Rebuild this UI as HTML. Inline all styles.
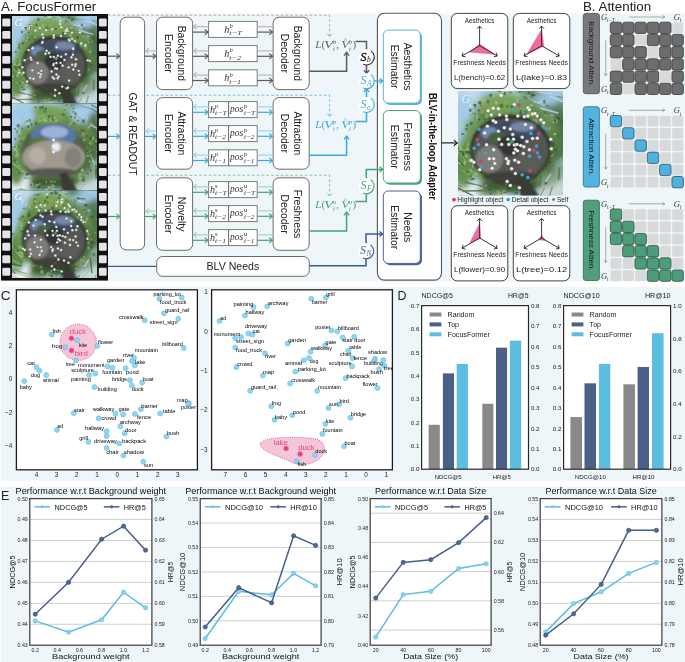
<!DOCTYPE html>
<html><head><meta charset="utf-8"><style>
html,body{margin:0;padding:0;background:#fff;}
svg{display:block;will-change:transform;}
text{white-space:pre;}
</style></head><body>
<svg width="685" height="662" viewBox="0 0 685 662">
<defs>
<linearGradient id="sky" x1="0" y1="0" x2="0" y2="1">
 <stop offset="0" stop-color="#9cc4e2"/><stop offset="0.6" stop-color="#a9cbe3"/><stop offset="1" stop-color="#d2e3ee"/>
</linearGradient>
<radialGradient id="tree" cx="0.5" cy="0.5" r="0.5">
 <stop offset="0" stop-color="#3d4a35"/><stop offset="0.55" stop-color="#4f6a3c"/><stop offset="0.8" stop-color="#6d944a"/><stop offset="1" stop-color="#86ad5e"/>
</radialGradient>
<linearGradient id="core" x1="0" y1="0" x2="0" y2="1">
 <stop offset="0" stop-color="#3c475a"/><stop offset="0.2" stop-color="#6a7f9f"/><stop offset="0.36" stop-color="#4d6142"/>
 <stop offset="0.48" stop-color="#827f7a"/><stop offset="0.78" stop-color="#74726d"/><stop offset="1" stop-color="#4b4b45"/>
</linearGradient>
<filter id="bl2" x="-20%" y="-20%" width="140%" height="140%"><feGaussianBlur stdDeviation="2.2"/></filter><filter id="bl05" x="-20%" y="-20%" width="140%" height="140%"><feGaussianBlur stdDeviation="0.5"/></filter><filter id="bl1" x="-20%" y="-20%" width="140%" height="140%"><feGaussianBlur stdDeviation="1.0"/></filter><clipPath id="ph0"><rect x="12" y="16" width="85" height="87.3"/></clipPath><filter id="ph0b" x="-30%" y="-30%" width="160%" height="160%"><feGaussianBlur stdDeviation="2.4"/></filter><filter id="ph0c" x="-30%" y="-30%" width="160%" height="160%"><feGaussianBlur stdDeviation="1"/></filter><filter id="ph0d" x="-30%" y="-30%" width="160%" height="160%"><feGaussianBlur stdDeviation="0.45"/></filter><clipPath id="ph1"><rect x="12" y="103.3" width="85" height="87.3"/></clipPath><filter id="ph1b" x="-30%" y="-30%" width="160%" height="160%"><feGaussianBlur stdDeviation="2.4"/></filter><filter id="ph1c" x="-30%" y="-30%" width="160%" height="160%"><feGaussianBlur stdDeviation="1"/></filter><filter id="ph1d" x="-30%" y="-30%" width="160%" height="160%"><feGaussianBlur stdDeviation="0.45"/></filter><clipPath id="ph2"><rect x="12" y="190.6" width="85" height="87.4"/></clipPath><filter id="ph2b" x="-30%" y="-30%" width="160%" height="160%"><feGaussianBlur stdDeviation="2.4"/></filter><filter id="ph2c" x="-30%" y="-30%" width="160%" height="160%"><feGaussianBlur stdDeviation="1"/></filter><filter id="ph2d" x="-30%" y="-30%" width="160%" height="160%"><feGaussianBlur stdDeviation="0.45"/></filter><clipPath id="phg"><rect x="458" y="91.1" width="105" height="104.5"/></clipPath><filter id="phgb" x="-30%" y="-30%" width="160%" height="160%"><feGaussianBlur stdDeviation="2.96"/></filter><filter id="phgc" x="-30%" y="-30%" width="160%" height="160%"><feGaussianBlur stdDeviation="1.24"/></filter><filter id="phgd" x="-30%" y="-30%" width="160%" height="160%"><feGaussianBlur stdDeviation="0.56"/></filter></defs>
<rect x="108" y="13.4" width="577" height="268" rx="0" fill="#eef6f9" stroke="none" stroke-width="1" />
<rect x="1" y="287" width="684" height="193.6" rx="0" fill="#eef6f9" stroke="none" stroke-width="1" />
<rect x="1" y="486.6" width="684" height="176" rx="0" fill="#eef6f9" stroke="none" stroke-width="1" />
<text x="1" y="10.9" font-size="13" text-anchor="start" fill="#222" font-family='"Liberation Sans", sans-serif' font-weight="normal" font-style="normal" textLength="95.2" lengthAdjust="spacingAndGlyphs" >A. FocusFormer</text>
<text x="582.9" y="10.8" font-size="13" text-anchor="start" fill="#222" font-family='"Liberation Sans", sans-serif' font-weight="normal" font-style="normal" textLength="68.3" lengthAdjust="spacingAndGlyphs" >B. Attention</text>
<rect x="1" y="14" width="107" height="266.6" rx="0" fill="#111" stroke="none" stroke-width="1" />
<rect x="2.3" y="18.5" width="8" height="7.9" rx="1.2" fill="#e4e3e8" stroke="none" stroke-width="1" />
<rect x="98.9" y="18.5" width="7.8" height="7.9" rx="1.2" fill="#e4e3e8" stroke="none" stroke-width="1" />
<rect x="2.3" y="30.96" width="8" height="7.9" rx="1.2" fill="#e4e3e8" stroke="none" stroke-width="1" />
<rect x="98.9" y="30.96" width="7.8" height="7.9" rx="1.2" fill="#e4e3e8" stroke="none" stroke-width="1" />
<rect x="2.3" y="43.43" width="8" height="7.9" rx="1.2" fill="#e4e3e8" stroke="none" stroke-width="1" />
<rect x="98.9" y="43.43" width="7.8" height="7.9" rx="1.2" fill="#e4e3e8" stroke="none" stroke-width="1" />
<rect x="2.3" y="55.89" width="8" height="7.9" rx="1.2" fill="#e4e3e8" stroke="none" stroke-width="1" />
<rect x="98.9" y="55.89" width="7.8" height="7.9" rx="1.2" fill="#e4e3e8" stroke="none" stroke-width="1" />
<rect x="2.3" y="68.36" width="8" height="7.9" rx="1.2" fill="#e4e3e8" stroke="none" stroke-width="1" />
<rect x="98.9" y="68.36" width="7.8" height="7.9" rx="1.2" fill="#e4e3e8" stroke="none" stroke-width="1" />
<rect x="2.3" y="80.83" width="8" height="7.9" rx="1.2" fill="#e4e3e8" stroke="none" stroke-width="1" />
<rect x="98.9" y="80.83" width="7.8" height="7.9" rx="1.2" fill="#e4e3e8" stroke="none" stroke-width="1" />
<rect x="2.3" y="93.29" width="8" height="7.9" rx="1.2" fill="#e4e3e8" stroke="none" stroke-width="1" />
<rect x="98.9" y="93.29" width="7.8" height="7.9" rx="1.2" fill="#e4e3e8" stroke="none" stroke-width="1" />
<rect x="2.3" y="105.76" width="8" height="7.9" rx="1.2" fill="#e4e3e8" stroke="none" stroke-width="1" />
<rect x="98.9" y="105.76" width="7.8" height="7.9" rx="1.2" fill="#e4e3e8" stroke="none" stroke-width="1" />
<rect x="2.3" y="118.22" width="8" height="7.9" rx="1.2" fill="#e4e3e8" stroke="none" stroke-width="1" />
<rect x="98.9" y="118.22" width="7.8" height="7.9" rx="1.2" fill="#e4e3e8" stroke="none" stroke-width="1" />
<rect x="2.3" y="130.69" width="8" height="7.9" rx="1.2" fill="#e4e3e8" stroke="none" stroke-width="1" />
<rect x="98.9" y="130.69" width="7.8" height="7.9" rx="1.2" fill="#e4e3e8" stroke="none" stroke-width="1" />
<rect x="2.3" y="143.15" width="8" height="7.9" rx="1.2" fill="#e4e3e8" stroke="none" stroke-width="1" />
<rect x="98.9" y="143.15" width="7.8" height="7.9" rx="1.2" fill="#e4e3e8" stroke="none" stroke-width="1" />
<rect x="2.3" y="155.62" width="8" height="7.9" rx="1.2" fill="#e4e3e8" stroke="none" stroke-width="1" />
<rect x="98.9" y="155.62" width="7.8" height="7.9" rx="1.2" fill="#e4e3e8" stroke="none" stroke-width="1" />
<rect x="2.3" y="168.08" width="8" height="7.9" rx="1.2" fill="#e4e3e8" stroke="none" stroke-width="1" />
<rect x="98.9" y="168.08" width="7.8" height="7.9" rx="1.2" fill="#e4e3e8" stroke="none" stroke-width="1" />
<rect x="2.3" y="180.55" width="8" height="7.9" rx="1.2" fill="#e4e3e8" stroke="none" stroke-width="1" />
<rect x="98.9" y="180.55" width="7.8" height="7.9" rx="1.2" fill="#e4e3e8" stroke="none" stroke-width="1" />
<rect x="2.3" y="193.01" width="8" height="7.9" rx="1.2" fill="#e4e3e8" stroke="none" stroke-width="1" />
<rect x="98.9" y="193.01" width="7.8" height="7.9" rx="1.2" fill="#e4e3e8" stroke="none" stroke-width="1" />
<rect x="2.3" y="205.48" width="8" height="7.9" rx="1.2" fill="#e4e3e8" stroke="none" stroke-width="1" />
<rect x="98.9" y="205.48" width="7.8" height="7.9" rx="1.2" fill="#e4e3e8" stroke="none" stroke-width="1" />
<rect x="2.3" y="217.94" width="8" height="7.9" rx="1.2" fill="#e4e3e8" stroke="none" stroke-width="1" />
<rect x="98.9" y="217.94" width="7.8" height="7.9" rx="1.2" fill="#e4e3e8" stroke="none" stroke-width="1" />
<rect x="2.3" y="230.41" width="8" height="7.9" rx="1.2" fill="#e4e3e8" stroke="none" stroke-width="1" />
<rect x="98.9" y="230.41" width="7.8" height="7.9" rx="1.2" fill="#e4e3e8" stroke="none" stroke-width="1" />
<rect x="2.3" y="242.87" width="8" height="7.9" rx="1.2" fill="#e4e3e8" stroke="none" stroke-width="1" />
<rect x="98.9" y="242.87" width="7.8" height="7.9" rx="1.2" fill="#e4e3e8" stroke="none" stroke-width="1" />
<rect x="2.3" y="255.34" width="8" height="7.9" rx="1.2" fill="#e4e3e8" stroke="none" stroke-width="1" />
<rect x="98.9" y="255.34" width="7.8" height="7.9" rx="1.2" fill="#e4e3e8" stroke="none" stroke-width="1" />
<rect x="2.3" y="267.8" width="8" height="7.9" rx="1.2" fill="#e4e3e8" stroke="none" stroke-width="1" />
<rect x="98.9" y="267.8" width="7.8" height="7.9" rx="1.2" fill="#e4e3e8" stroke="none" stroke-width="1" />
<g clip-path="url(#ph0)">
<rect x="12" y="16" width="85" height="87.3" rx="0" fill="#a4cbe8" stroke="none" stroke-width="1" />
<g filter="url(#ph0b)">
<ellipse cx="18.8" cy="20.37" rx="11.9" ry="8.73" fill="#c3dbee" opacity="1" transform="rotate(0 18.8 20.37)"/>
<ellipse cx="29" cy="101.55" rx="23.8" ry="10.48" fill="#e6eef2" opacity="1" transform="rotate(0 29 101.55)"/>
<ellipse cx="88.5" cy="96.32" rx="13.6" ry="10.48" fill="#c9d8d8" opacity="1" transform="rotate(0 88.5 96.32)"/>
<ellipse cx="80" cy="20.37" rx="23.8" ry="4.37" fill="#5d7f5a" opacity="1" transform="rotate(22 80 20.37)"/>
<ellipse cx="92.75" cy="33.46" rx="18.7" ry="5.24" fill="#557552" opacity="1" transform="rotate(40 92.75 33.46)"/>
<ellipse cx="94.45" cy="55.28" rx="8.5" ry="19.21" fill="#4e6f48" opacity="1" transform="rotate(0 94.45 55.28)"/>
<ellipse cx="91.05" cy="85.84" rx="15.3" ry="6.98" fill="#86a38a" opacity="1" transform="rotate(-35 91.05 85.84)"/>
<ellipse cx="16.25" cy="78.86" rx="8.5" ry="19.21" fill="#628f4c" opacity="1" transform="rotate(0 16.25 78.86)"/>
<ellipse cx="37.5" cy="100.68" rx="10.2" ry="5.24" fill="#7a9a70" opacity="1" transform="rotate(0 37.5 100.68)"/>
<circle cx="54.5" cy="59.65" r="39.1" fill="#65894c"/>
<ellipse cx="47.7" cy="26.48" rx="20.4" ry="8.73" fill="#7aa058" opacity="1" transform="rotate(0 47.7 26.48)"/>
<ellipse cx="17.1" cy="35.21" rx="8.5" ry="17.46" fill="#a4cbe8" opacity="1" transform="rotate(0 17.1 35.21)"/>
<ellipse cx="84.25" cy="22.98" rx="10.2" ry="5.24" fill="#9cc2de" opacity="1" transform="rotate(0 84.25 22.98)"/>
<ellipse cx="23.9" cy="55.28" rx="6.8" ry="17.46" fill="#6d9850" opacity="1" transform="rotate(0 23.9 55.28)"/>
<ellipse cx="54.5" cy="94.57" rx="25.5" ry="6.98" fill="#3e5a30" opacity="1" transform="rotate(0 54.5 94.57)"/>
<ellipse cx="85.1" cy="68.38" rx="6.8" ry="17.46" fill="#4c6e3e" opacity="1" transform="rotate(0 85.1 68.38)"/>
</g>
<g filter="url(#ph0d)" opacity="0.75">
<line x1="72.51" y1="26.12" x2="84.7" y2="24.66" stroke="#c9dbe6" stroke-width="1.07"/>
<line x1="18.41" y1="74.52" x2="13.84" y2="68.54" stroke="#9fbf86" stroke-width="0.7"/>
<line x1="11.43" y1="69.16" x2="2.08" y2="56.95" stroke="#6f9058" stroke-width="0.68"/>
<line x1="25.91" y1="88.65" x2="15.82" y2="82.24" stroke="#9fbf86" stroke-width="0.94"/>
<line x1="87.15" y1="85.06" x2="81.58" y2="93.59" stroke="#c9dbe6" stroke-width="1.08"/>
<line x1="98.9" y1="57.16" x2="107.7" y2="68.28" stroke="#9fbf86" stroke-width="1.39"/>
<line x1="93.68" y1="38.96" x2="98.09" y2="44.59" stroke="#3d5a35" stroke-width="0.88"/>
<line x1="15.08" y1="96.24" x2="0.49" y2="89.13" stroke="#3d5a35" stroke-width="0.66"/>
<line x1="18.34" y1="79.68" x2="9.73" y2="65.14" stroke="#6f9058" stroke-width="0.67"/>
<line x1="70.73" y1="25.62" x2="80.56" y2="27.79" stroke="#6f9058" stroke-width="1.15"/>
<line x1="61.04" y1="98.02" x2="46.51" y2="101.55" stroke="#3d5a35" stroke-width="0.92"/>
<line x1="66.85" y1="106.19" x2="58.42" y2="116.25" stroke="#4b6b40" stroke-width="0.6"/>
<line x1="65.18" y1="21.38" x2="79.81" y2="15.48" stroke="#9fbf86" stroke-width="0.9"/>
<line x1="85.71" y1="103.39" x2="81.21" y2="110.15" stroke="#3d5a35" stroke-width="1.39"/>
<line x1="10.36" y1="78.97" x2="-1.48" y2="69.09" stroke="#6f9058" stroke-width="1.01"/>
<line x1="67.47" y1="103.06" x2="53.21" y2="110.79" stroke="#9fbf86" stroke-width="0.84"/>
<line x1="86.07" y1="20.37" x2="100.98" y2="26.53" stroke="#c9dbe6" stroke-width="1.22"/>
<line x1="13.44" y1="99.44" x2="3.02" y2="87.66" stroke="#6f9058" stroke-width="1.25"/>
<line x1="90.19" y1="33.41" x2="96.33" y2="37.08" stroke="#4b6b40" stroke-width="1.23"/>
<line x1="78.82" y1="30.23" x2="93.31" y2="34.41" stroke="#c9dbe6" stroke-width="1.36"/>
<line x1="12.77" y1="72.94" x2="4.62" y2="58.81" stroke="#4b6b40" stroke-width="0.98"/>
<line x1="24.59" y1="103.73" x2="11.81" y2="96.8" stroke="#3d5a35" stroke-width="1.31"/>
<line x1="31.88" y1="95.52" x2="17.87" y2="92.18" stroke="#4b6b40" stroke-width="1.18"/>
<line x1="30.82" y1="99.22" x2="15.6" y2="99.49" stroke="#3d5a35" stroke-width="1.13"/>
<line x1="8.11" y1="106.39" x2="-2.07" y2="99.56" stroke="#6f9058" stroke-width="0.95"/>
<line x1="14.17" y1="76.8" x2="4.2" y2="68.59" stroke="#c9dbe6" stroke-width="1.04"/>
<line x1="94.2" y1="17.48" x2="104.34" y2="26.73" stroke="#9fbf86" stroke-width="0.94"/>
<line x1="97.75" y1="59.81" x2="99.82" y2="66.67" stroke="#3d5a35" stroke-width="1.22"/>
<line x1="11.36" y1="91.04" x2="4.43" y2="88.29" stroke="#9fbf86" stroke-width="1.02"/>
<line x1="79.26" y1="86.2" x2="77.72" y2="95.05" stroke="#4b6b40" stroke-width="1.22"/>
<line x1="97.53" y1="54.2" x2="102.65" y2="65.38" stroke="#c9dbe6" stroke-width="0.96"/>
<line x1="88.47" y1="95.81" x2="84.6" y2="108.03" stroke="#6f9058" stroke-width="1.27"/>
<line x1="64.58" y1="23.31" x2="73.3" y2="20.12" stroke="#4b6b40" stroke-width="0.77"/>
<line x1="71.62" y1="23.38" x2="83.72" y2="29.21" stroke="#c9dbe6" stroke-width="0.71"/>
<line x1="79.46" y1="106.69" x2="73.95" y2="116.71" stroke="#9fbf86" stroke-width="0.92"/>
<line x1="17.08" y1="78.77" x2="6.95" y2="68.89" stroke="#3d5a35" stroke-width="0.87"/>
<line x1="32.87" y1="98.43" x2="26.08" y2="94.34" stroke="#c9dbe6" stroke-width="0.82"/>
<line x1="97.25" y1="29.07" x2="107.28" y2="41.16" stroke="#c9dbe6" stroke-width="0.92"/>
<line x1="8.18" y1="67.88" x2="0.21" y2="57.33" stroke="#6f9058" stroke-width="0.65"/>
<line x1="21.85" y1="104.46" x2="13.84" y2="103.14" stroke="#9fbf86" stroke-width="1.17"/>
<line x1="12.37" y1="104.71" x2="1.86" y2="98.32" stroke="#6f9058" stroke-width="0.83"/>
<line x1="8.21" y1="74.95" x2="-3.58" y2="66.67" stroke="#9fbf86" stroke-width="1.38"/>
<line x1="81.95" y1="96.98" x2="77.89" y2="105.22" stroke="#6f9058" stroke-width="0.87"/>
<line x1="94.12" y1="79.5" x2="93.44" y2="90.1" stroke="#4b6b40" stroke-width="1.27"/>
<line x1="77.06" y1="16.96" x2="88.97" y2="18.1" stroke="#c9dbe6" stroke-width="1.08"/>
<line x1="14.61" y1="64.17" x2="9.51" y2="55.15" stroke="#9fbf86" stroke-width="0.86"/>
<line x1="12.42" y1="78.65" x2="4.17" y2="73.52" stroke="#6f9058" stroke-width="0.8"/>
<line x1="91.74" y1="20.36" x2="104.27" y2="22.99" stroke="#3d5a35" stroke-width="0.62"/>
</g>
<g filter="url(#ph0d)">
<ellipse cx="45.61" cy="17.56" rx="1.59" ry="1.58" fill="#a5c585" opacity="0.6"/>
<ellipse cx="23.71" cy="60.8" rx="0.73" ry="1.72" fill="#8fb46c" opacity="0.6"/>
<ellipse cx="83.47" cy="35.64" rx="1.76" ry="1.62" fill="#8fb46c" opacity="0.6"/>
<ellipse cx="17.51" cy="42.21" rx="1.66" ry="1.41" fill="#9dbd7a" opacity="0.6"/>
<ellipse cx="84.42" cy="35.14" rx="0.78" ry="0.75" fill="#2f4826" opacity="0.6"/>
<ellipse cx="26.21" cy="25.79" rx="1.67" ry="1.38" fill="#a5c585" opacity="0.6"/>
<ellipse cx="28.65" cy="32.16" rx="1.26" ry="0.7" fill="#2f4826" opacity="0.6"/>
<ellipse cx="66.16" cy="20.9" rx="1.46" ry="0.78" fill="#3f6030" opacity="0.6"/>
<ellipse cx="51.99" cy="28.72" rx="1.69" ry="0.99" fill="#3f6030" opacity="0.6"/>
<ellipse cx="55.71" cy="29.05" rx="1.27" ry="1.17" fill="#35502a" opacity="0.6"/>
<ellipse cx="16.55" cy="64.82" rx="1.41" ry="1.48" fill="#9dbd7a" opacity="0.6"/>
<ellipse cx="79.47" cy="73.23" rx="1.46" ry="1.55" fill="#b8d496" opacity="0.6"/>
<ellipse cx="34.23" cy="39.82" rx="0.75" ry="1.03" fill="#35502a" opacity="0.6"/>
<ellipse cx="36.4" cy="24.81" rx="1.03" ry="1.33" fill="#35502a" opacity="0.6"/>
<ellipse cx="21.12" cy="67.39" rx="1.86" ry="1.37" fill="#3f6030" opacity="0.6"/>
<ellipse cx="44.26" cy="85.42" rx="0.7" ry="1.26" fill="#35502a" opacity="0.6"/>
<ellipse cx="73.04" cy="19.12" rx="1.86" ry="1.17" fill="#35502a" opacity="0.6"/>
<ellipse cx="91.64" cy="37.59" rx="1.37" ry="0.87" fill="#3f6030" opacity="0.6"/>
<ellipse cx="11.68" cy="52.95" rx="1.4" ry="1.47" fill="#8fb46c" opacity="0.6"/>
<ellipse cx="49.4" cy="87.52" rx="0.96" ry="1.8" fill="#4f7a3a" opacity="0.6"/>
<ellipse cx="28.63" cy="61.97" rx="1.81" ry="1.53" fill="#9dbd7a" opacity="0.6"/>
<ellipse cx="22.1" cy="82.13" rx="1.09" ry="1.08" fill="#a5c585" opacity="0.6"/>
<ellipse cx="68.21" cy="37.53" rx="1.68" ry="0.85" fill="#4f7a3a" opacity="0.6"/>
<ellipse cx="89.25" cy="41.86" rx="0.98" ry="0.78" fill="#b8d496" opacity="0.6"/>
<ellipse cx="22.29" cy="86.96" rx="1.11" ry="1.22" fill="#3f6030" opacity="0.6"/>
<ellipse cx="50.34" cy="86.43" rx="0.74" ry="1.51" fill="#3f6030" opacity="0.6"/>
<ellipse cx="35.79" cy="37.86" rx="1.2" ry="1.08" fill="#b8d496" opacity="0.6"/>
<ellipse cx="60.33" cy="18.82" rx="1.73" ry="1.69" fill="#a5c585" opacity="0.6"/>
<ellipse cx="25.53" cy="27.6" rx="1.54" ry="0.76" fill="#2f4826" opacity="0.6"/>
<ellipse cx="50.75" cy="25.01" rx="1.45" ry="1.05" fill="#8fb46c" opacity="0.6"/>
<ellipse cx="95.32" cy="72.97" rx="0.88" ry="1.21" fill="#8fb46c" opacity="0.6"/>
<ellipse cx="48.5" cy="90.14" rx="1.16" ry="0.99" fill="#b8d496" opacity="0.6"/>
<ellipse cx="16.7" cy="63.77" rx="0.88" ry="0.9" fill="#3f6030" opacity="0.6"/>
<ellipse cx="65.6" cy="101.72" rx="1.33" ry="1.25" fill="#35502a" opacity="0.6"/>
<ellipse cx="34.76" cy="95.02" rx="0.85" ry="0.93" fill="#a5c585" opacity="0.6"/>
<ellipse cx="81.35" cy="77.33" rx="1.06" ry="1.15" fill="#3f6030" opacity="0.6"/>
<ellipse cx="65.17" cy="31.65" rx="1.57" ry="1.2" fill="#9dbd7a" opacity="0.6"/>
<ellipse cx="24.24" cy="78.32" rx="1" ry="1.62" fill="#a5c585" opacity="0.6"/>
<ellipse cx="18.26" cy="60.08" rx="0.83" ry="1.31" fill="#4f7a3a" opacity="0.6"/>
<ellipse cx="25.93" cy="28.55" rx="0.79" ry="1.79" fill="#2f4826" opacity="0.6"/>
<ellipse cx="26.38" cy="85.25" rx="1.82" ry="1.74" fill="#a5c585" opacity="0.6"/>
<ellipse cx="72.58" cy="40.59" rx="1.19" ry="1.63" fill="#9dbd7a" opacity="0.6"/>
<ellipse cx="69.08" cy="17.44" rx="0.68" ry="1.18" fill="#35502a" opacity="0.6"/>
<ellipse cx="91.19" cy="40.99" rx="1.84" ry="1" fill="#35502a" opacity="0.6"/>
<ellipse cx="76.48" cy="78.1" rx="1.8" ry="1.58" fill="#3f6030" opacity="0.6"/>
<ellipse cx="30.57" cy="26.98" rx="0.78" ry="1.65" fill="#35502a" opacity="0.6"/>
<ellipse cx="82.35" cy="59.9" rx="1.45" ry="1.07" fill="#9dbd7a" opacity="0.6"/>
<ellipse cx="75.46" cy="81.99" rx="1.51" ry="0.84" fill="#a5c585" opacity="0.6"/>
<ellipse cx="86.41" cy="75.16" rx="1.14" ry="0.97" fill="#2f4826" opacity="0.6"/>
<ellipse cx="33.81" cy="44" rx="1.87" ry="1.04" fill="#b8d496" opacity="0.6"/>
<ellipse cx="37.82" cy="98.34" rx="1.25" ry="0.99" fill="#2f4826" opacity="0.6"/>
<ellipse cx="55.3" cy="104.28" rx="0.75" ry="0.94" fill="#b8d496" opacity="0.6"/>
<ellipse cx="82.68" cy="34.08" rx="0.99" ry="1.51" fill="#3f6030" opacity="0.6"/>
<ellipse cx="81.01" cy="45.81" rx="1.51" ry="1.58" fill="#9dbd7a" opacity="0.6"/>
<ellipse cx="33.15" cy="85.38" rx="1.63" ry="1.6" fill="#9dbd7a" opacity="0.6"/>
<ellipse cx="25.18" cy="58.73" rx="1.05" ry="1.7" fill="#2f4826" opacity="0.6"/>
<ellipse cx="58.07" cy="89.87" rx="0.81" ry="1.46" fill="#b8d496" opacity="0.6"/>
<ellipse cx="21.95" cy="31.96" rx="1.18" ry="1.51" fill="#35502a" opacity="0.6"/>
<ellipse cx="81.29" cy="50.47" rx="0.74" ry="0.73" fill="#a5c585" opacity="0.6"/>
<ellipse cx="27.12" cy="40.25" rx="0.9" ry="1.25" fill="#9dbd7a" opacity="0.6"/>
<ellipse cx="47.09" cy="28.34" rx="1.87" ry="1.84" fill="#3f6030" opacity="0.6"/>
<ellipse cx="40.66" cy="85.79" rx="0.72" ry="1.51" fill="#35502a" opacity="0.6"/>
<ellipse cx="31.01" cy="82.7" rx="1.21" ry="0.83" fill="#4f7a3a" opacity="0.6"/>
<ellipse cx="78.31" cy="72.75" rx="1.82" ry="0.85" fill="#a5c585" opacity="0.6"/>
<ellipse cx="83.14" cy="52.93" rx="1.59" ry="1.08" fill="#4f7a3a" opacity="0.6"/>
<ellipse cx="63.52" cy="33.36" rx="0.91" ry="1.36" fill="#35502a" opacity="0.6"/>
<ellipse cx="24.73" cy="70.37" rx="0.72" ry="1.2" fill="#35502a" opacity="0.6"/>
<ellipse cx="69.59" cy="21.78" rx="1.13" ry="1.27" fill="#9dbd7a" opacity="0.6"/>
<ellipse cx="63.27" cy="33.79" rx="1.57" ry="1.8" fill="#2f4826" opacity="0.6"/>
<ellipse cx="38.26" cy="86.28" rx="0.99" ry="1.57" fill="#9dbd7a" opacity="0.6"/>
<ellipse cx="42.06" cy="88.43" rx="1.54" ry="1.43" fill="#9dbd7a" opacity="0.6"/>
<ellipse cx="69.3" cy="17.97" rx="0.71" ry="0.98" fill="#3f6030" opacity="0.6"/>
<ellipse cx="11.63" cy="66.57" rx="1.62" ry="1.81" fill="#a5c585" opacity="0.6"/>
<ellipse cx="65.58" cy="33.26" rx="0.9" ry="1.68" fill="#35502a" opacity="0.6"/>
<ellipse cx="51.55" cy="17.77" rx="1.4" ry="1.1" fill="#8fb46c" opacity="0.6"/>
<ellipse cx="40.84" cy="89.68" rx="1.29" ry="1.18" fill="#3f6030" opacity="0.6"/>
<ellipse cx="72.26" cy="88.37" rx="1.25" ry="1.36" fill="#9dbd7a" opacity="0.6"/>
<ellipse cx="72.31" cy="88.76" rx="1.86" ry="1.02" fill="#3f6030" opacity="0.6"/>
<ellipse cx="78.08" cy="73.79" rx="1.86" ry="1.89" fill="#35502a" opacity="0.6"/>
<ellipse cx="67.49" cy="85.11" rx="1.42" ry="1.52" fill="#35502a" opacity="0.6"/>
<ellipse cx="53.97" cy="17.2" rx="1.61" ry="1.06" fill="#3f6030" opacity="0.6"/>
<ellipse cx="48.9" cy="90.45" rx="1.56" ry="0.94" fill="#b8d496" opacity="0.6"/>
<ellipse cx="54.99" cy="90.55" rx="1.01" ry="1.81" fill="#8fb46c" opacity="0.6"/>
<ellipse cx="64.61" cy="85.05" rx="1.86" ry="1.32" fill="#b8d496" opacity="0.6"/>
<ellipse cx="59.24" cy="101.08" rx="1.86" ry="0.82" fill="#35502a" opacity="0.6"/>
<ellipse cx="14.19" cy="66.27" rx="1.77" ry="0.75" fill="#35502a" opacity="0.6"/>
<ellipse cx="46.99" cy="87.06" rx="1.39" ry="1.71" fill="#2f4826" opacity="0.6"/>
<ellipse cx="63.75" cy="85.6" rx="1.21" ry="1.02" fill="#8fb46c" opacity="0.6"/>
<ellipse cx="62" cy="15.97" rx="1.44" ry="1.57" fill="#3f6030" opacity="0.6"/>
<ellipse cx="39.14" cy="81.45" rx="0.85" ry="0.95" fill="#4f7a3a" opacity="0.6"/>
<ellipse cx="53.37" cy="97.33" rx="1.65" ry="1.7" fill="#2f4826" opacity="0.6"/>
<ellipse cx="27.21" cy="77.69" rx="0.77" ry="0.74" fill="#b8d496" opacity="0.6"/>
<ellipse cx="19.97" cy="60.63" rx="0.8" ry="1.18" fill="#a5c585" opacity="0.6"/>
<ellipse cx="18.89" cy="47.73" rx="1.46" ry="1.18" fill="#3f6030" opacity="0.6"/>
<ellipse cx="48.67" cy="104.42" rx="1.18" ry="0.76" fill="#b8d496" opacity="0.6"/>
<ellipse cx="53.27" cy="16.51" rx="1.18" ry="1.75" fill="#a5c585" opacity="0.6"/>
<ellipse cx="86.8" cy="58.95" rx="1.14" ry="1.19" fill="#2f4826" opacity="0.6"/>
<ellipse cx="85.91" cy="47.34" rx="1.18" ry="1.7" fill="#8fb46c" opacity="0.6"/>
<ellipse cx="19.58" cy="83.63" rx="1.6" ry="0.86" fill="#35502a" opacity="0.6"/>
<ellipse cx="81.19" cy="68.88" rx="0.79" ry="1.46" fill="#a5c585" opacity="0.6"/>
<ellipse cx="30.45" cy="85.67" rx="1.09" ry="0.9" fill="#8fb46c" opacity="0.6"/>
<ellipse cx="67.13" cy="83.88" rx="1.26" ry="1.68" fill="#a5c585" opacity="0.6"/>
<ellipse cx="83.06" cy="53.46" rx="1.68" ry="0.75" fill="#8fb46c" opacity="0.6"/>
<ellipse cx="81.29" cy="42.86" rx="0.78" ry="1.57" fill="#a5c585" opacity="0.6"/>
<ellipse cx="38.54" cy="19.57" rx="1.42" ry="1.45" fill="#2f4826" opacity="0.6"/>
<ellipse cx="65.91" cy="92.92" rx="0.73" ry="1.85" fill="#2f4826" opacity="0.6"/>
<ellipse cx="72.36" cy="87.19" rx="0.97" ry="1.58" fill="#8fb46c" opacity="0.6"/>
<ellipse cx="75.49" cy="43.42" rx="1.47" ry="1.09" fill="#9dbd7a" opacity="0.6"/>
<ellipse cx="28.31" cy="81.95" rx="1.45" ry="1.08" fill="#b8d496" opacity="0.6"/>
<ellipse cx="54.65" cy="93.31" rx="1.21" ry="1.23" fill="#4f7a3a" opacity="0.6"/>
<ellipse cx="91.17" cy="65.22" rx="1.23" ry="1.24" fill="#35502a" opacity="0.6"/>
<ellipse cx="24.5" cy="31.23" rx="1.64" ry="1.19" fill="#8fb46c" opacity="0.6"/>
<ellipse cx="83.88" cy="73.19" rx="0.79" ry="1.24" fill="#4f7a3a" opacity="0.6"/>
<ellipse cx="28.29" cy="57.93" rx="0.78" ry="1.59" fill="#8fb46c" opacity="0.6"/>
<ellipse cx="60.56" cy="24.18" rx="1.57" ry="1.79" fill="#9dbd7a" opacity="0.6"/>
<ellipse cx="31.46" cy="25.86" rx="1.7" ry="1.92" fill="#9dbd7a" opacity="0.6"/>
<ellipse cx="49.92" cy="18.07" rx="0.84" ry="1.78" fill="#2f4826" opacity="0.6"/>
<ellipse cx="44.91" cy="100.24" rx="1.5" ry="1.58" fill="#8fb46c" opacity="0.6"/>
<ellipse cx="61.91" cy="101.15" rx="0.87" ry="1.79" fill="#b8d496" opacity="0.6"/>
<ellipse cx="48.13" cy="100.99" rx="0.98" ry="1.88" fill="#8fb46c" opacity="0.6"/>
<ellipse cx="18.22" cy="64.33" rx="1.06" ry="0.74" fill="#2f4826" opacity="0.6"/>
<ellipse cx="66.3" cy="86.31" rx="1.49" ry="1.79" fill="#b8d496" opacity="0.6"/>
<ellipse cx="74.13" cy="95.65" rx="1.59" ry="0.76" fill="#3f6030" opacity="0.6"/>
<ellipse cx="81.91" cy="24.87" rx="1.34" ry="1.41" fill="#35502a" opacity="0.6"/>
<ellipse cx="74.81" cy="40.68" rx="1.56" ry="1.15" fill="#a5c585" opacity="0.6"/>
<ellipse cx="31.48" cy="83.07" rx="1.11" ry="1.63" fill="#8fb46c" opacity="0.6"/>
<ellipse cx="27.57" cy="70.15" rx="1.03" ry="1.33" fill="#9dbd7a" opacity="0.6"/>
<ellipse cx="38.44" cy="101.24" rx="1.55" ry="1.61" fill="#4f7a3a" opacity="0.6"/>
<ellipse cx="59.98" cy="90.93" rx="1.18" ry="1.14" fill="#a5c585" opacity="0.6"/>
<ellipse cx="87.58" cy="70.17" rx="0.71" ry="0.7" fill="#9dbd7a" opacity="0.6"/>
<ellipse cx="37.66" cy="81.96" rx="1.32" ry="1.2" fill="#4f7a3a" opacity="0.6"/>
<ellipse cx="45.65" cy="86.94" rx="1.42" ry="1.28" fill="#4f7a3a" opacity="0.6"/>
<ellipse cx="83" cy="92.74" rx="1.52" ry="1.25" fill="#2f4826" opacity="0.6"/>
<ellipse cx="80.48" cy="70.93" rx="1.16" ry="1.02" fill="#b8d496" opacity="0.6"/>
<ellipse cx="91.96" cy="62.43" rx="1.39" ry="1.41" fill="#4f7a3a" opacity="0.6"/>
<ellipse cx="26.29" cy="38.07" rx="0.98" ry="1.8" fill="#35502a" opacity="0.6"/>
<ellipse cx="88.59" cy="69.59" rx="0.9" ry="0.89" fill="#a5c585" opacity="0.6"/>
<ellipse cx="77.85" cy="44.8" rx="0.85" ry="0.94" fill="#2f4826" opacity="0.6"/>
<ellipse cx="27.28" cy="37.08" rx="1.65" ry="0.91" fill="#a5c585" opacity="0.6"/>
<ellipse cx="43.16" cy="89.41" rx="1.86" ry="1.58" fill="#9dbd7a" opacity="0.6"/>
<ellipse cx="19.27" cy="64.7" rx="1.68" ry="1.61" fill="#a5c585" opacity="0.6"/>
<ellipse cx="16.06" cy="68.41" rx="0.89" ry="1.92" fill="#35502a" opacity="0.6"/>
<ellipse cx="51.81" cy="98.11" rx="1.08" ry="1.61" fill="#3f6030" opacity="0.6"/>
<ellipse cx="40.53" cy="19.72" rx="1" ry="1.38" fill="#9dbd7a" opacity="0.6"/>
<ellipse cx="17.46" cy="75.81" rx="1.03" ry="1.83" fill="#b8d496" opacity="0.6"/>
<ellipse cx="75.83" cy="42.48" rx="0.88" ry="1.8" fill="#9dbd7a" opacity="0.6"/>
<ellipse cx="70.46" cy="34.42" rx="1.57" ry="1.1" fill="#8fb46c" opacity="0.6"/>
<ellipse cx="77.59" cy="37.43" rx="1.13" ry="1.74" fill="#2f4826" opacity="0.6"/>
<ellipse cx="93.15" cy="38.37" rx="1.24" ry="1.35" fill="#35502a" opacity="0.6"/>
<ellipse cx="80.47" cy="60.72" rx="1.36" ry="1.07" fill="#2f4826" opacity="0.6"/>
<ellipse cx="63.29" cy="96.71" rx="1.35" ry="0.91" fill="#3f6030" opacity="0.6"/>
<ellipse cx="81.5" cy="65.47" rx="1.09" ry="0.87" fill="#8fb46c" opacity="0.6"/>
<ellipse cx="80.35" cy="64.5" rx="1.51" ry="1.6" fill="#9dbd7a" opacity="0.6"/>
<ellipse cx="87.97" cy="74.72" rx="0.92" ry="1.87" fill="#4f7a3a" opacity="0.6"/>
<ellipse cx="17.44" cy="51.42" rx="0.81" ry="0.95" fill="#a5c585" opacity="0.6"/>
<ellipse cx="74.44" cy="77.02" rx="1.66" ry="1.47" fill="#3f6030" opacity="0.6"/>
<ellipse cx="48.13" cy="86.99" rx="1.62" ry="1.49" fill="#3f6030" opacity="0.6"/>
<ellipse cx="45.73" cy="91.04" rx="0.7" ry="1.01" fill="#b8d496" opacity="0.6"/>
<ellipse cx="46.59" cy="98.75" rx="1.76" ry="1.64" fill="#4f7a3a" opacity="0.6"/>
<ellipse cx="26.92" cy="38.52" rx="1.42" ry="0.74" fill="#b8d496" opacity="0.6"/>
<ellipse cx="25.75" cy="77.64" rx="1.09" ry="1.56" fill="#3f6030" opacity="0.6"/>
<ellipse cx="25.78" cy="52.49" rx="1.36" ry="1.05" fill="#3f6030" opacity="0.6"/>
<ellipse cx="22.02" cy="73.82" rx="1.59" ry="1.89" fill="#b8d496" opacity="0.6"/>
<ellipse cx="89.17" cy="60.63" rx="1.51" ry="1.71" fill="#35502a" opacity="0.6"/>
<ellipse cx="90.3" cy="51.95" rx="1.37" ry="0.89" fill="#b8d496" opacity="0.6"/>
<ellipse cx="71.66" cy="19.1" rx="1.27" ry="0.83" fill="#2f4826" opacity="0.6"/>
<ellipse cx="36.83" cy="38.66" rx="1.43" ry="1.13" fill="#3f6030" opacity="0.6"/>
<ellipse cx="27.75" cy="79.28" rx="1.18" ry="1.49" fill="#3f6030" opacity="0.6"/>
<ellipse cx="32.89" cy="82.72" rx="1.75" ry="1.31" fill="#a5c585" opacity="0.6"/>
<ellipse cx="23.99" cy="89.34" rx="1.8" ry="0.85" fill="#2f4826" opacity="0.6"/>
<ellipse cx="22.63" cy="37.68" rx="1.09" ry="1.1" fill="#9dbd7a" opacity="0.6"/>
<ellipse cx="77.62" cy="94.75" rx="0.88" ry="1.23" fill="#4f7a3a" opacity="0.6"/>
<ellipse cx="59.83" cy="22.74" rx="1.08" ry="1.48" fill="#8fb46c" opacity="0.6"/>
<ellipse cx="42.97" cy="25.72" rx="1.04" ry="1.56" fill="#b8d496" opacity="0.6"/>
<ellipse cx="70.26" cy="35.4" rx="1.84" ry="1.58" fill="#8fb46c" opacity="0.6"/>
<ellipse cx="28.94" cy="39.84" rx="1.07" ry="0.93" fill="#2f4826" opacity="0.6"/>
<ellipse cx="93.15" cy="53.4" rx="0.88" ry="1.5" fill="#3f6030" opacity="0.6"/>
<ellipse cx="64.02" cy="87.05" rx="1.63" ry="1.59" fill="#8fb46c" opacity="0.6"/>
<ellipse cx="27.74" cy="71.56" rx="1.01" ry="1.78" fill="#3f6030" opacity="0.6"/>
<ellipse cx="29.42" cy="65.59" rx="1.51" ry="1.31" fill="#a5c585" opacity="0.6"/>
<ellipse cx="31.49" cy="33.72" rx="0.99" ry="1.6" fill="#8fb46c" opacity="0.6"/>
<ellipse cx="84.51" cy="60.72" rx="1.51" ry="1.42" fill="#a5c585" opacity="0.6"/>
<ellipse cx="29.63" cy="25.76" rx="1.49" ry="1.48" fill="#2f4826" opacity="0.6"/>
<ellipse cx="24.45" cy="68.85" rx="1.74" ry="0.99" fill="#3f6030" opacity="0.6"/>
<ellipse cx="23.07" cy="83.06" rx="0.98" ry="1.22" fill="#8fb46c" opacity="0.6"/>
<ellipse cx="18.84" cy="70.24" rx="1.3" ry="1.51" fill="#a5c585" opacity="0.6"/>
<ellipse cx="83.98" cy="28.6" rx="1.61" ry="1.17" fill="#4f7a3a" opacity="0.6"/>
<ellipse cx="10.86" cy="62.51" rx="0.98" ry="0.96" fill="#9dbd7a" opacity="0.6"/>
<ellipse cx="45.38" cy="16.19" rx="1.3" ry="0.82" fill="#2f4826" opacity="0.6"/>
<ellipse cx="22.72" cy="43.13" rx="1.29" ry="1.48" fill="#35502a" opacity="0.6"/>
<ellipse cx="71.29" cy="27.81" rx="1.56" ry="1.26" fill="#a5c585" opacity="0.6"/>
<ellipse cx="83.38" cy="57.84" rx="1.55" ry="1.45" fill="#3f6030" opacity="0.6"/>
<ellipse cx="34.88" cy="36.04" rx="1.16" ry="0.71" fill="#a5c585" opacity="0.6"/>
<ellipse cx="25.41" cy="76.43" rx="1.37" ry="0.83" fill="#4f7a3a" opacity="0.6"/>
<ellipse cx="43.62" cy="91.64" rx="1.86" ry="1.87" fill="#2f4826" opacity="0.6"/>
<ellipse cx="26.73" cy="66.57" rx="1.64" ry="1.47" fill="#3f6030" opacity="0.6"/>
<ellipse cx="19.16" cy="66.77" rx="1.65" ry="0.88" fill="#2f4826" opacity="0.6"/>
<ellipse cx="33.84" cy="23.24" rx="1.24" ry="1.06" fill="#a5c585" opacity="0.6"/>
<ellipse cx="27.93" cy="51.11" rx="1.1" ry="1.74" fill="#35502a" opacity="0.6"/>
<ellipse cx="50.95" cy="92.86" rx="1.85" ry="1.53" fill="#b8d496" opacity="0.6"/>
<ellipse cx="14.21" cy="64.46" rx="1.11" ry="1.5" fill="#b8d496" opacity="0.6"/>
<ellipse cx="39.72" cy="91.74" rx="1.46" ry="1.14" fill="#3f6030" opacity="0.6"/>
<ellipse cx="91.89" cy="41.2" rx="0.78" ry="1.39" fill="#9dbd7a" opacity="0.6"/>
<ellipse cx="34.99" cy="99.15" rx="1.43" ry="0.72" fill="#4f7a3a" opacity="0.6"/>
<ellipse cx="97.69" cy="62.85" rx="0.98" ry="0.82" fill="#b8d496" opacity="0.6"/>
<ellipse cx="73.14" cy="83.62" rx="1.09" ry="0.88" fill="#35502a" opacity="0.6"/>
<ellipse cx="87.7" cy="36.19" rx="1.41" ry="1.54" fill="#8fb46c" opacity="0.6"/>
<ellipse cx="81.41" cy="55.66" rx="0.91" ry="1.55" fill="#b8d496" opacity="0.6"/>
<ellipse cx="15.86" cy="51.87" rx="1.48" ry="0.84" fill="#35502a" opacity="0.6"/>
<ellipse cx="79.03" cy="82.84" rx="1.24" ry="1.38" fill="#8fb46c" opacity="0.6"/>
<ellipse cx="12.27" cy="63.92" rx="0.97" ry="0.9" fill="#35502a" opacity="0.6"/>
<ellipse cx="22.7" cy="36.04" rx="1.68" ry="1.27" fill="#8fb46c" opacity="0.6"/>
<ellipse cx="19.45" cy="44.72" rx="1.13" ry="1.21" fill="#35502a" opacity="0.6"/>
<ellipse cx="80.59" cy="52.88" rx="1.44" ry="0.73" fill="#4f7a3a" opacity="0.6"/>
<ellipse cx="24.97" cy="34.66" rx="1.64" ry="0.81" fill="#4f7a3a" opacity="0.6"/>
<ellipse cx="15.04" cy="63.69" rx="0.72" ry="1.58" fill="#8fb46c" opacity="0.6"/>
<ellipse cx="32.03" cy="36.49" rx="1.09" ry="1.65" fill="#4f7a3a" opacity="0.6"/>
<ellipse cx="14.38" cy="45.07" rx="1.2" ry="1.21" fill="#b8d496" opacity="0.6"/>
<ellipse cx="15.88" cy="45.64" rx="1.1" ry="1.3" fill="#b8d496" opacity="0.6"/>
<ellipse cx="32.45" cy="98.65" rx="1.84" ry="1.5" fill="#4f7a3a" opacity="0.6"/>
</g>
<g filter="url(#ph0c)">
<ellipse cx="54.5" cy="64.89" rx="32.73" ry="29.25" fill="#30352e" opacity="1" transform="rotate(0 54.5 64.89)"/>
<ellipse cx="54.5" cy="65.76" rx="30.6" ry="26.63" fill="#545653" opacity="1" transform="rotate(0 54.5 65.76)"/>
<ellipse cx="54.5" cy="50.05" rx="24.65" ry="8.73" fill="#404c60" opacity="1" transform="rotate(0 54.5 50.05)"/>
<ellipse cx="64.7" cy="45.68" rx="10.2" ry="4.37" fill="#7387a3" opacity="1" transform="rotate(0 64.7 45.68)"/>
<ellipse cx="37.5" cy="50.92" rx="6.8" ry="5.24" fill="#6f8cb3" opacity="1" transform="rotate(0 37.5 50.92)"/>
<ellipse cx="44.3" cy="55.28" rx="8.5" ry="5.24" fill="#465f3c" opacity="1" transform="rotate(0 44.3 55.28)"/>
<ellipse cx="54.5" cy="61.4" rx="10.2" ry="8.73" fill="#333634" opacity="1" transform="rotate(0 54.5 61.4)"/>
<ellipse cx="37.5" cy="72.75" rx="11.05" ry="11.35" fill="#7d7b76" opacity="1" transform="rotate(0 37.5 72.75)"/>
<ellipse cx="69.8" cy="72.75" rx="10.2" ry="11.35" fill="#5a5b57" opacity="1" transform="rotate(0 69.8 72.75)"/>
<ellipse cx="54.5" cy="87.59" rx="22.1" ry="4.37" fill="#3f403a" opacity="1" transform="rotate(0 54.5 87.59)"/>
<polygon points="59.6,85.84 66.4,84.97 78.3,105.05 63,105.05" fill="#3a3a34"/>
</g>
</g>
<g clip-path="url(#ph1)">
<rect x="12" y="103.3" width="85" height="87.3" rx="0" fill="#a4cbe8" stroke="none" stroke-width="1" />
<g filter="url(#ph1b)">
<ellipse cx="18.8" cy="107.66" rx="11.9" ry="8.73" fill="#c3dbee" opacity="1" transform="rotate(0 18.8 107.66)"/>
<ellipse cx="29" cy="188.85" rx="23.8" ry="10.48" fill="#e6eef2" opacity="1" transform="rotate(0 29 188.85)"/>
<ellipse cx="88.5" cy="183.62" rx="13.6" ry="10.48" fill="#c9d8d8" opacity="1" transform="rotate(0 88.5 183.62)"/>
<ellipse cx="80" cy="107.66" rx="23.8" ry="4.37" fill="#5d7f5a" opacity="1" transform="rotate(22 80 107.66)"/>
<ellipse cx="92.75" cy="120.76" rx="18.7" ry="5.24" fill="#557552" opacity="1" transform="rotate(40 92.75 120.76)"/>
<ellipse cx="94.45" cy="142.58" rx="8.5" ry="19.21" fill="#4e6f48" opacity="1" transform="rotate(0 94.45 142.58)"/>
<ellipse cx="91.05" cy="173.14" rx="15.3" ry="6.98" fill="#86a38a" opacity="1" transform="rotate(-35 91.05 173.14)"/>
<ellipse cx="16.25" cy="166.16" rx="8.5" ry="19.21" fill="#628f4c" opacity="1" transform="rotate(0 16.25 166.16)"/>
<ellipse cx="37.5" cy="187.98" rx="10.2" ry="5.24" fill="#7a9a70" opacity="1" transform="rotate(0 37.5 187.98)"/>
<circle cx="54.5" cy="146.95" r="39.1" fill="#65894c"/>
<ellipse cx="47.7" cy="113.78" rx="20.4" ry="8.73" fill="#7aa058" opacity="1" transform="rotate(0 47.7 113.78)"/>
<ellipse cx="17.1" cy="122.51" rx="8.5" ry="17.46" fill="#a4cbe8" opacity="1" transform="rotate(0 17.1 122.51)"/>
<ellipse cx="84.25" cy="110.28" rx="10.2" ry="5.24" fill="#9cc2de" opacity="1" transform="rotate(0 84.25 110.28)"/>
<ellipse cx="22.2" cy="115.52" rx="11.9" ry="13.97" fill="#a4cbe8" opacity="1" transform="rotate(0 22.2 115.52)"/>
<ellipse cx="80" cy="113.78" rx="10.2" ry="8.73" fill="#a4cbe8" opacity="1" transform="rotate(0 80 113.78)"/>
<ellipse cx="23.9" cy="142.58" rx="6.8" ry="17.46" fill="#6d9850" opacity="1" transform="rotate(0 23.9 142.58)"/>
<ellipse cx="54.5" cy="181.87" rx="25.5" ry="6.98" fill="#3e5a30" opacity="1" transform="rotate(0 54.5 181.87)"/>
<ellipse cx="85.1" cy="155.68" rx="6.8" ry="17.46" fill="#4c6e3e" opacity="1" transform="rotate(0 85.1 155.68)"/>
</g>
<g filter="url(#ph1d)" opacity="0.75">
<line x1="24.12" y1="171.36" x2="14.04" y2="164.96" stroke="#6f9058" stroke-width="1.32"/>
<line x1="97.47" y1="168.65" x2="99.67" y2="184" stroke="#3d5a35" stroke-width="1.1"/>
<line x1="25.38" y1="173.03" x2="12.53" y2="163.26" stroke="#9fbf86" stroke-width="1.25"/>
<line x1="95.31" y1="142.75" x2="100.85" y2="154.24" stroke="#3d5a35" stroke-width="0.71"/>
<line x1="91.23" y1="108.31" x2="104.9" y2="117.79" stroke="#3d5a35" stroke-width="1"/>
<line x1="80.42" y1="105.79" x2="93.91" y2="109.46" stroke="#6f9058" stroke-width="0.88"/>
<line x1="8.61" y1="162.44" x2="-1.23" y2="152.21" stroke="#3d5a35" stroke-width="0.74"/>
<line x1="75.59" y1="114.89" x2="82.87" y2="120.07" stroke="#6f9058" stroke-width="0.84"/>
<line x1="12.09" y1="170.33" x2="2.84" y2="164.25" stroke="#3d5a35" stroke-width="0.93"/>
<line x1="62.16" y1="105.65" x2="74.32" y2="99.48" stroke="#9fbf86" stroke-width="1.02"/>
<line x1="65.28" y1="188.86" x2="56.48" y2="198.65" stroke="#6f9058" stroke-width="0.61"/>
<line x1="90.36" y1="132.68" x2="103.56" y2="140.67" stroke="#6f9058" stroke-width="0.65"/>
<line x1="84.98" y1="183.72" x2="74.56" y2="194.98" stroke="#6f9058" stroke-width="0.74"/>
<line x1="23.19" y1="173.02" x2="16.05" y2="168.52" stroke="#4b6b40" stroke-width="0.69"/>
<line x1="89.39" y1="161.15" x2="88.88" y2="169.07" stroke="#3d5a35" stroke-width="1.05"/>
<line x1="9" y1="156.18" x2="4.49" y2="150.88" stroke="#9fbf86" stroke-width="1.09"/>
<line x1="62.72" y1="191.87" x2="50.47" y2="198.82" stroke="#6f9058" stroke-width="1"/>
<line x1="9.79" y1="165.33" x2="5.37" y2="155.08" stroke="#c9dbe6" stroke-width="0.66"/>
<line x1="20.12" y1="167.84" x2="8.57" y2="156.22" stroke="#6f9058" stroke-width="0.83"/>
<line x1="84.8" y1="179.85" x2="74.62" y2="190.06" stroke="#9fbf86" stroke-width="1.07"/>
<line x1="87.36" y1="117.75" x2="93.9" y2="121.79" stroke="#6f9058" stroke-width="0.65"/>
<line x1="89.91" y1="124.95" x2="103.73" y2="131.59" stroke="#c9dbe6" stroke-width="1.39"/>
<line x1="33.13" y1="178.91" x2="23.87" y2="177.93" stroke="#6f9058" stroke-width="1.23"/>
<line x1="90.51" y1="122.93" x2="101.77" y2="133.52" stroke="#c9dbe6" stroke-width="1"/>
<line x1="12.1" y1="176.05" x2="6.15" y2="171.78" stroke="#6f9058" stroke-width="0.62"/>
<line x1="19.47" y1="180.53" x2="7.65" y2="176.14" stroke="#6f9058" stroke-width="1.09"/>
<line x1="8.74" y1="191.46" x2="-1.18" y2="182.11" stroke="#c9dbe6" stroke-width="1.4"/>
<line x1="30.7" y1="191.32" x2="19.85" y2="188.36" stroke="#6f9058" stroke-width="0.8"/>
<line x1="12.26" y1="184.03" x2="5.2" y2="182.03" stroke="#9fbf86" stroke-width="1.23"/>
<line x1="11.26" y1="184.04" x2="2.82" y2="180.75" stroke="#6f9058" stroke-width="0.74"/>
<line x1="91.14" y1="104.78" x2="102.8" y2="110.82" stroke="#3d5a35" stroke-width="1.25"/>
<line x1="95.66" y1="169.47" x2="96.14" y2="179.23" stroke="#3d5a35" stroke-width="1.27"/>
<line x1="94.41" y1="125.52" x2="105.03" y2="136.17" stroke="#9fbf86" stroke-width="0.83"/>
<line x1="17.8" y1="152.84" x2="8.99" y2="138.59" stroke="#c9dbe6" stroke-width="0.9"/>
<line x1="59.92" y1="194.25" x2="49.07" y2="205.24" stroke="#3d5a35" stroke-width="1.06"/>
<line x1="64.16" y1="191.55" x2="49.17" y2="198.97" stroke="#4b6b40" stroke-width="0.9"/>
<line x1="80.1" y1="193.8" x2="69.95" y2="207.6" stroke="#4b6b40" stroke-width="1.36"/>
<line x1="13.76" y1="167.26" x2="5.6" y2="160.33" stroke="#3d5a35" stroke-width="0.9"/>
<line x1="25.85" y1="190.19" x2="18.8" y2="189.12" stroke="#6f9058" stroke-width="1.01"/>
<line x1="11.31" y1="162.95" x2="1.8" y2="156.69" stroke="#c9dbe6" stroke-width="1.07"/>
<line x1="8.68" y1="182.68" x2="-0.54" y2="178.69" stroke="#4b6b40" stroke-width="1.19"/>
<line x1="90.1" y1="154.24" x2="96.88" y2="168.08" stroke="#c9dbe6" stroke-width="0.85"/>
<line x1="95.7" y1="164.38" x2="97.93" y2="180.81" stroke="#3d5a35" stroke-width="1.32"/>
<line x1="25.84" y1="192.84" x2="16.19" y2="189.05" stroke="#9fbf86" stroke-width="0.95"/>
</g>
<g filter="url(#ph1d)">
<ellipse cx="85.27" cy="145.05" rx="1.05" ry="0.9" fill="#35502a" opacity="0.6"/>
<ellipse cx="93.03" cy="161.25" rx="0.99" ry="1.34" fill="#b8d496" opacity="0.6"/>
<ellipse cx="28.09" cy="126.47" rx="1.52" ry="1.55" fill="#2f4826" opacity="0.6"/>
<ellipse cx="61.2" cy="174.44" rx="0.87" ry="1.71" fill="#35502a" opacity="0.6"/>
<ellipse cx="57.46" cy="190.45" rx="1.09" ry="1.32" fill="#a5c585" opacity="0.6"/>
<ellipse cx="83.32" cy="121.06" rx="1.71" ry="1.88" fill="#35502a" opacity="0.6"/>
<ellipse cx="27.12" cy="121.34" rx="0.8" ry="1.33" fill="#35502a" opacity="0.6"/>
<ellipse cx="32.09" cy="184.87" rx="1.8" ry="1.22" fill="#2f4826" opacity="0.6"/>
<ellipse cx="35.4" cy="107.73" rx="1.5" ry="1.39" fill="#4f7a3a" opacity="0.6"/>
<ellipse cx="50.98" cy="181.49" rx="1.47" ry="1.58" fill="#8fb46c" opacity="0.6"/>
<ellipse cx="33.77" cy="162.89" rx="1.16" ry="1.64" fill="#4f7a3a" opacity="0.6"/>
<ellipse cx="78.56" cy="169.72" rx="1.17" ry="0.71" fill="#35502a" opacity="0.6"/>
<ellipse cx="34.07" cy="180.94" rx="0.7" ry="0.72" fill="#2f4826" opacity="0.6"/>
<ellipse cx="43.68" cy="109.15" rx="1.12" ry="1.29" fill="#4f7a3a" opacity="0.6"/>
<ellipse cx="22.21" cy="128.54" rx="0.74" ry="1.24" fill="#3f6030" opacity="0.6"/>
<ellipse cx="77.2" cy="160.03" rx="1.43" ry="0.79" fill="#2f4826" opacity="0.6"/>
<ellipse cx="37.8" cy="175.82" rx="1.78" ry="1.44" fill="#4f7a3a" opacity="0.6"/>
<ellipse cx="92.8" cy="138.03" rx="1.43" ry="1.88" fill="#b8d496" opacity="0.6"/>
<ellipse cx="87.25" cy="136.05" rx="1.38" ry="1" fill="#35502a" opacity="0.6"/>
<ellipse cx="69.28" cy="104.55" rx="1.29" ry="1.32" fill="#9dbd7a" opacity="0.6"/>
<ellipse cx="26.95" cy="167.23" rx="1.72" ry="1.52" fill="#35502a" opacity="0.6"/>
<ellipse cx="90.53" cy="143.06" rx="1.77" ry="1.6" fill="#8fb46c" opacity="0.6"/>
<ellipse cx="14.92" cy="128.91" rx="1.21" ry="0.92" fill="#3f6030" opacity="0.6"/>
<ellipse cx="76.26" cy="181.81" rx="1.1" ry="0.77" fill="#4f7a3a" opacity="0.6"/>
<ellipse cx="19.38" cy="173.09" rx="1.76" ry="1.37" fill="#3f6030" opacity="0.6"/>
<ellipse cx="45.96" cy="108.53" rx="1.02" ry="1.85" fill="#35502a" opacity="0.6"/>
<ellipse cx="28.04" cy="150.91" rx="1.43" ry="1.06" fill="#3f6030" opacity="0.6"/>
<ellipse cx="65.94" cy="172.52" rx="0.9" ry="1.58" fill="#3f6030" opacity="0.6"/>
<ellipse cx="41.31" cy="174.56" rx="1.2" ry="1.64" fill="#2f4826" opacity="0.6"/>
<ellipse cx="85.96" cy="153.03" rx="1.31" ry="1.3" fill="#3f6030" opacity="0.6"/>
<ellipse cx="80.93" cy="153.83" rx="0.98" ry="1.81" fill="#4f7a3a" opacity="0.6"/>
<ellipse cx="87.49" cy="173.33" rx="1.36" ry="0.82" fill="#a5c585" opacity="0.6"/>
<ellipse cx="69.14" cy="124.86" rx="1.14" ry="1.8" fill="#8fb46c" opacity="0.6"/>
<ellipse cx="34.04" cy="108.64" rx="1.39" ry="1.66" fill="#a5c585" opacity="0.6"/>
<ellipse cx="17.02" cy="154.27" rx="1.67" ry="1.65" fill="#a5c585" opacity="0.6"/>
<ellipse cx="48.68" cy="116.82" rx="1.01" ry="1.38" fill="#2f4826" opacity="0.6"/>
<ellipse cx="33.29" cy="108.9" rx="0.93" ry="1.34" fill="#8fb46c" opacity="0.6"/>
<ellipse cx="67.12" cy="117.04" rx="0.78" ry="0.9" fill="#4f7a3a" opacity="0.6"/>
<ellipse cx="37.18" cy="185.14" rx="1.8" ry="1.07" fill="#a5c585" opacity="0.6"/>
<ellipse cx="62.59" cy="189.94" rx="1.75" ry="0.97" fill="#3f6030" opacity="0.6"/>
<ellipse cx="71.12" cy="123.19" rx="1.27" ry="1.77" fill="#8fb46c" opacity="0.6"/>
<ellipse cx="28.36" cy="139.42" rx="1.82" ry="1.17" fill="#b8d496" opacity="0.6"/>
<ellipse cx="84.12" cy="130.56" rx="1.55" ry="1.08" fill="#35502a" opacity="0.6"/>
<ellipse cx="96.65" cy="141.36" rx="0.7" ry="1.81" fill="#3f6030" opacity="0.6"/>
<ellipse cx="29.46" cy="177.2" rx="1.54" ry="1.92" fill="#9dbd7a" opacity="0.6"/>
<ellipse cx="46.75" cy="121.17" rx="1.42" ry="1.36" fill="#8fb46c" opacity="0.6"/>
<ellipse cx="79.01" cy="136.66" rx="0.74" ry="1.79" fill="#9dbd7a" opacity="0.6"/>
<ellipse cx="41.84" cy="175.08" rx="1.69" ry="1.13" fill="#4f7a3a" opacity="0.6"/>
<ellipse cx="18.93" cy="146.18" rx="0.97" ry="1.76" fill="#3f6030" opacity="0.6"/>
<ellipse cx="36.17" cy="123.83" rx="1.01" ry="1.47" fill="#2f4826" opacity="0.6"/>
<ellipse cx="29.08" cy="161.47" rx="1.59" ry="1.08" fill="#3f6030" opacity="0.6"/>
<ellipse cx="24.77" cy="146.94" rx="1.79" ry="1.78" fill="#9dbd7a" opacity="0.6"/>
<ellipse cx="14.85" cy="143.79" rx="1.7" ry="1.09" fill="#8fb46c" opacity="0.6"/>
<ellipse cx="89.2" cy="127.19" rx="0.87" ry="1.55" fill="#b8d496" opacity="0.6"/>
<ellipse cx="51.36" cy="120.65" rx="1.42" ry="1.68" fill="#9dbd7a" opacity="0.6"/>
<ellipse cx="46.58" cy="174.68" rx="0.71" ry="1.55" fill="#2f4826" opacity="0.6"/>
<ellipse cx="47.34" cy="106.81" rx="1.1" ry="1.24" fill="#8fb46c" opacity="0.6"/>
<ellipse cx="84.09" cy="139.93" rx="1.53" ry="1.53" fill="#b8d496" opacity="0.6"/>
<ellipse cx="32.33" cy="173.18" rx="1.58" ry="1.78" fill="#2f4826" opacity="0.6"/>
<ellipse cx="29.61" cy="120.66" rx="1.31" ry="1.87" fill="#3f6030" opacity="0.6"/>
<ellipse cx="56.28" cy="120.8" rx="1.09" ry="1.32" fill="#b8d496" opacity="0.6"/>
<ellipse cx="50.76" cy="172.86" rx="1.51" ry="1.9" fill="#35502a" opacity="0.6"/>
<ellipse cx="90.7" cy="138.08" rx="1.69" ry="1.54" fill="#2f4826" opacity="0.6"/>
<ellipse cx="80.17" cy="174.61" rx="1.74" ry="1.72" fill="#9dbd7a" opacity="0.6"/>
<ellipse cx="19.73" cy="133.09" rx="1.34" ry="1.84" fill="#a5c585" opacity="0.6"/>
<ellipse cx="14.97" cy="149.63" rx="1.54" ry="1.67" fill="#a5c585" opacity="0.6"/>
<ellipse cx="18.23" cy="125.77" rx="1.68" ry="1.66" fill="#35502a" opacity="0.6"/>
<ellipse cx="73.66" cy="116.37" rx="1.74" ry="1.31" fill="#a5c585" opacity="0.6"/>
<ellipse cx="27.4" cy="174.27" rx="1.64" ry="1.39" fill="#2f4826" opacity="0.6"/>
<ellipse cx="30.47" cy="167.75" rx="1.33" ry="1.68" fill="#b8d496" opacity="0.6"/>
<ellipse cx="85.52" cy="149.1" rx="1.15" ry="1.02" fill="#a5c585" opacity="0.6"/>
<ellipse cx="28.03" cy="150.07" rx="1.7" ry="1.81" fill="#2f4826" opacity="0.6"/>
<ellipse cx="36.42" cy="169.79" rx="1.58" ry="0.93" fill="#8fb46c" opacity="0.6"/>
<ellipse cx="89.79" cy="161.5" rx="1.36" ry="0.98" fill="#a5c585" opacity="0.6"/>
<ellipse cx="78.71" cy="133.86" rx="1.03" ry="0.88" fill="#b8d496" opacity="0.6"/>
<ellipse cx="22.33" cy="150.22" rx="1.41" ry="1.32" fill="#3f6030" opacity="0.6"/>
<ellipse cx="49.93" cy="189.58" rx="1.56" ry="1.51" fill="#3f6030" opacity="0.6"/>
<ellipse cx="81" cy="176.06" rx="1.09" ry="1.13" fill="#3f6030" opacity="0.6"/>
<ellipse cx="48.39" cy="187.76" rx="1.72" ry="1.47" fill="#9dbd7a" opacity="0.6"/>
<ellipse cx="72.2" cy="175.63" rx="1.73" ry="1.27" fill="#9dbd7a" opacity="0.6"/>
<ellipse cx="34.42" cy="169.48" rx="1.11" ry="1.52" fill="#9dbd7a" opacity="0.6"/>
<ellipse cx="32.83" cy="184.6" rx="0.84" ry="1.87" fill="#a5c585" opacity="0.6"/>
<ellipse cx="81.43" cy="159.83" rx="1.56" ry="1.19" fill="#2f4826" opacity="0.6"/>
<ellipse cx="26.26" cy="157" rx="1.73" ry="1.2" fill="#4f7a3a" opacity="0.6"/>
<ellipse cx="87.99" cy="147.35" rx="1.46" ry="0.98" fill="#9dbd7a" opacity="0.6"/>
<ellipse cx="87.71" cy="173.49" rx="1.25" ry="1.45" fill="#3f6030" opacity="0.6"/>
<ellipse cx="83.3" cy="180.12" rx="1.71" ry="1.92" fill="#35502a" opacity="0.6"/>
<ellipse cx="77.75" cy="159.09" rx="1.02" ry="1.37" fill="#b8d496" opacity="0.6"/>
<ellipse cx="36.34" cy="172.2" rx="1.23" ry="0.98" fill="#b8d496" opacity="0.6"/>
<ellipse cx="81.98" cy="158.63" rx="0.74" ry="0.84" fill="#b8d496" opacity="0.6"/>
<ellipse cx="86.96" cy="119" rx="1.54" ry="1.52" fill="#a5c585" opacity="0.6"/>
<ellipse cx="80.18" cy="177.99" rx="1.5" ry="1.76" fill="#a5c585" opacity="0.6"/>
<ellipse cx="63.58" cy="114.86" rx="1.29" ry="1.71" fill="#35502a" opacity="0.6"/>
<ellipse cx="37.37" cy="174.21" rx="1.02" ry="1.25" fill="#b8d496" opacity="0.6"/>
<ellipse cx="52.94" cy="119.39" rx="1.43" ry="1.82" fill="#3f6030" opacity="0.6"/>
<ellipse cx="81.19" cy="155.89" rx="0.81" ry="1.81" fill="#9dbd7a" opacity="0.6"/>
<ellipse cx="21.04" cy="141.62" rx="0.78" ry="1.38" fill="#2f4826" opacity="0.6"/>
<ellipse cx="40.7" cy="179.54" rx="1.1" ry="1.02" fill="#35502a" opacity="0.6"/>
<ellipse cx="87.47" cy="117.55" rx="0.71" ry="1.55" fill="#b8d496" opacity="0.6"/>
<ellipse cx="97.67" cy="151.91" rx="1.34" ry="1.4" fill="#a5c585" opacity="0.6"/>
<ellipse cx="73.34" cy="108.61" rx="0.89" ry="1.01" fill="#3f6030" opacity="0.6"/>
<ellipse cx="14.98" cy="160.55" rx="1.49" ry="1.07" fill="#2f4826" opacity="0.6"/>
<ellipse cx="22.44" cy="118.46" rx="1.5" ry="0.89" fill="#a5c585" opacity="0.6"/>
<ellipse cx="92.95" cy="147.43" rx="1.68" ry="1.13" fill="#3f6030" opacity="0.6"/>
<ellipse cx="22.46" cy="157.28" rx="0.72" ry="1.05" fill="#3f6030" opacity="0.6"/>
<ellipse cx="68.74" cy="106.28" rx="1.07" ry="1.21" fill="#a5c585" opacity="0.6"/>
<ellipse cx="79.25" cy="153.82" rx="1.73" ry="1.48" fill="#8fb46c" opacity="0.6"/>
<ellipse cx="80.46" cy="175.27" rx="0.99" ry="1.33" fill="#8fb46c" opacity="0.6"/>
<ellipse cx="80.97" cy="131.31" rx="1.37" ry="1.12" fill="#4f7a3a" opacity="0.6"/>
<ellipse cx="61.24" cy="175.46" rx="0.9" ry="1.08" fill="#b8d496" opacity="0.6"/>
<ellipse cx="87.65" cy="155.95" rx="1.42" ry="1.24" fill="#8fb46c" opacity="0.6"/>
<ellipse cx="82.74" cy="144.95" rx="1.73" ry="1.75" fill="#2f4826" opacity="0.6"/>
<ellipse cx="44.11" cy="171.74" rx="1.29" ry="1.39" fill="#b8d496" opacity="0.6"/>
<ellipse cx="42.57" cy="114.93" rx="1.62" ry="0.8" fill="#8fb46c" opacity="0.6"/>
<ellipse cx="66.04" cy="190.76" rx="0.82" ry="1.03" fill="#9dbd7a" opacity="0.6"/>
<ellipse cx="39.87" cy="120.74" rx="1.81" ry="1.86" fill="#9dbd7a" opacity="0.6"/>
<ellipse cx="14.7" cy="146.99" rx="1.36" ry="1.2" fill="#4f7a3a" opacity="0.6"/>
<ellipse cx="87.67" cy="152.7" rx="0.7" ry="0.98" fill="#b8d496" opacity="0.6"/>
<ellipse cx="88.57" cy="146.64" rx="1.21" ry="1.84" fill="#3f6030" opacity="0.6"/>
<ellipse cx="87.55" cy="156.09" rx="1.06" ry="1.1" fill="#8fb46c" opacity="0.6"/>
<ellipse cx="44.52" cy="120.12" rx="1.5" ry="1.81" fill="#b8d496" opacity="0.6"/>
<ellipse cx="68.1" cy="169.51" rx="1.61" ry="0.79" fill="#4f7a3a" opacity="0.6"/>
<ellipse cx="73.38" cy="111.85" rx="1.79" ry="0.88" fill="#4f7a3a" opacity="0.6"/>
<ellipse cx="65.4" cy="173.28" rx="1.43" ry="1.69" fill="#a5c585" opacity="0.6"/>
<ellipse cx="17.21" cy="131.75" rx="1.12" ry="1.7" fill="#4f7a3a" opacity="0.6"/>
<ellipse cx="28.97" cy="138.69" rx="1.27" ry="1.33" fill="#35502a" opacity="0.6"/>
<ellipse cx="54.38" cy="117.99" rx="1.27" ry="1.38" fill="#a5c585" opacity="0.6"/>
<ellipse cx="39.63" cy="116.68" rx="1.39" ry="1.09" fill="#9dbd7a" opacity="0.6"/>
<ellipse cx="79.51" cy="133.25" rx="1.56" ry="1.22" fill="#3f6030" opacity="0.6"/>
<ellipse cx="46.07" cy="117.91" rx="0.84" ry="0.91" fill="#8fb46c" opacity="0.6"/>
<ellipse cx="77.4" cy="169.21" rx="1.78" ry="1.74" fill="#9dbd7a" opacity="0.6"/>
<ellipse cx="44.89" cy="111.79" rx="1.76" ry="1.05" fill="#35502a" opacity="0.6"/>
<ellipse cx="64.58" cy="109.39" rx="1.22" ry="0.91" fill="#3f6030" opacity="0.6"/>
<ellipse cx="27.57" cy="163.39" rx="1.44" ry="1.71" fill="#35502a" opacity="0.6"/>
<ellipse cx="31.42" cy="124.28" rx="0.86" ry="1.79" fill="#35502a" opacity="0.6"/>
<ellipse cx="77.64" cy="122.75" rx="0.75" ry="0.79" fill="#8fb46c" opacity="0.6"/>
<ellipse cx="71.06" cy="116.8" rx="1.16" ry="1.09" fill="#2f4826" opacity="0.6"/>
<ellipse cx="65.15" cy="171.76" rx="1.83" ry="1.36" fill="#8fb46c" opacity="0.6"/>
<ellipse cx="45.49" cy="183.56" rx="1.29" ry="0.91" fill="#3f6030" opacity="0.6"/>
<ellipse cx="23.03" cy="154.66" rx="0.96" ry="1.87" fill="#2f4826" opacity="0.6"/>
<ellipse cx="27.29" cy="124.19" rx="1.1" ry="1.56" fill="#b8d496" opacity="0.6"/>
<ellipse cx="31.57" cy="169.93" rx="0.79" ry="1.19" fill="#4f7a3a" opacity="0.6"/>
<ellipse cx="85.83" cy="158.32" rx="0.94" ry="1.78" fill="#3f6030" opacity="0.6"/>
<ellipse cx="50.25" cy="188.05" rx="1.09" ry="1.45" fill="#8fb46c" opacity="0.6"/>
<ellipse cx="72.51" cy="176.1" rx="1.44" ry="1.82" fill="#3f6030" opacity="0.6"/>
<ellipse cx="96.19" cy="140.83" rx="1.27" ry="1.57" fill="#a5c585" opacity="0.6"/>
<ellipse cx="42.91" cy="107.06" rx="0.86" ry="1.39" fill="#2f4826" opacity="0.6"/>
<ellipse cx="73.36" cy="119.85" rx="1.75" ry="1.03" fill="#9dbd7a" opacity="0.6"/>
<ellipse cx="79.16" cy="122.43" rx="0.81" ry="1.76" fill="#a5c585" opacity="0.6"/>
<ellipse cx="54.33" cy="181.64" rx="1.87" ry="0.91" fill="#8fb46c" opacity="0.6"/>
<ellipse cx="21.5" cy="171.64" rx="0.86" ry="0.88" fill="#b8d496" opacity="0.6"/>
<ellipse cx="40.37" cy="186.05" rx="1.35" ry="0.73" fill="#3f6030" opacity="0.6"/>
<ellipse cx="46.37" cy="181.95" rx="0.87" ry="1.47" fill="#a5c585" opacity="0.6"/>
<ellipse cx="63.37" cy="185.85" rx="1.11" ry="1.83" fill="#35502a" opacity="0.6"/>
<ellipse cx="25" cy="122.52" rx="0.99" ry="1.62" fill="#8fb46c" opacity="0.6"/>
<ellipse cx="28.25" cy="122.7" rx="1.64" ry="1.6" fill="#b8d496" opacity="0.6"/>
<ellipse cx="52.71" cy="116.35" rx="0.9" ry="1.2" fill="#2f4826" opacity="0.6"/>
<ellipse cx="19.58" cy="136.27" rx="0.77" ry="0.93" fill="#3f6030" opacity="0.6"/>
<ellipse cx="28.2" cy="151.5" rx="1.83" ry="0.82" fill="#a5c585" opacity="0.6"/>
<ellipse cx="73.91" cy="123.59" rx="1.31" ry="0.89" fill="#2f4826" opacity="0.6"/>
<ellipse cx="17.23" cy="161.84" rx="0.71" ry="1.04" fill="#b8d496" opacity="0.6"/>
<ellipse cx="81.54" cy="130.01" rx="1.01" ry="1.5" fill="#35502a" opacity="0.6"/>
<ellipse cx="82.86" cy="141.05" rx="1.35" ry="0.93" fill="#9dbd7a" opacity="0.6"/>
<ellipse cx="43.28" cy="188.37" rx="1.82" ry="0.96" fill="#3f6030" opacity="0.6"/>
<ellipse cx="43.61" cy="116.81" rx="1.66" ry="1.5" fill="#8fb46c" opacity="0.6"/>
<ellipse cx="16.8" cy="146.63" rx="0.87" ry="1.57" fill="#a5c585" opacity="0.6"/>
<ellipse cx="83.57" cy="177.32" rx="1.57" ry="1.61" fill="#4f7a3a" opacity="0.6"/>
<ellipse cx="16.75" cy="156.17" rx="1.67" ry="1.05" fill="#a5c585" opacity="0.6"/>
<ellipse cx="78.77" cy="170.09" rx="1.34" ry="1.88" fill="#35502a" opacity="0.6"/>
<ellipse cx="38.63" cy="187.15" rx="1.5" ry="1.58" fill="#2f4826" opacity="0.6"/>
<ellipse cx="82.42" cy="170.23" rx="1.38" ry="1.64" fill="#b8d496" opacity="0.6"/>
<ellipse cx="53.02" cy="185.63" rx="1.6" ry="1.66" fill="#a5c585" opacity="0.6"/>
<ellipse cx="29.95" cy="159.79" rx="0.85" ry="1.59" fill="#2f4826" opacity="0.6"/>
<ellipse cx="26.37" cy="146.04" rx="1.74" ry="1.36" fill="#9dbd7a" opacity="0.6"/>
<ellipse cx="52.6" cy="174.21" rx="1.68" ry="0.97" fill="#b8d496" opacity="0.6"/>
<ellipse cx="15.16" cy="138.97" rx="1.08" ry="1.35" fill="#4f7a3a" opacity="0.6"/>
<ellipse cx="27.76" cy="173.8" rx="1.85" ry="0.75" fill="#3f6030" opacity="0.6"/>
<ellipse cx="60.52" cy="173.68" rx="0.72" ry="1.32" fill="#8fb46c" opacity="0.6"/>
<ellipse cx="91.95" cy="151.94" rx="1.69" ry="0.94" fill="#2f4826" opacity="0.6"/>
<ellipse cx="60.87" cy="113.81" rx="1.32" ry="0.77" fill="#4f7a3a" opacity="0.6"/>
<ellipse cx="39.91" cy="183.91" rx="0.8" ry="1.04" fill="#a5c585" opacity="0.6"/>
<ellipse cx="29.53" cy="159.99" rx="1.8" ry="1.64" fill="#4f7a3a" opacity="0.6"/>
<ellipse cx="79.08" cy="136.46" rx="1.55" ry="0.99" fill="#b8d496" opacity="0.6"/>
<ellipse cx="28.21" cy="169.82" rx="1.6" ry="1.29" fill="#3f6030" opacity="0.6"/>
<ellipse cx="87.18" cy="150.76" rx="0.78" ry="1.32" fill="#35502a" opacity="0.6"/>
<ellipse cx="83.91" cy="149.39" rx="1.6" ry="0.81" fill="#9dbd7a" opacity="0.6"/>
<ellipse cx="39.06" cy="173.02" rx="0.94" ry="1.7" fill="#4f7a3a" opacity="0.6"/>
<ellipse cx="65.3" cy="108.25" rx="1.65" ry="0.87" fill="#b8d496" opacity="0.6"/>
<ellipse cx="54.11" cy="184.78" rx="0.79" ry="0.79" fill="#35502a" opacity="0.6"/>
<ellipse cx="29.02" cy="164.04" rx="0.94" ry="0.86" fill="#a5c585" opacity="0.6"/>
<ellipse cx="90.39" cy="151.53" rx="1.07" ry="1.11" fill="#8fb46c" opacity="0.6"/>
<ellipse cx="34.15" cy="130.65" rx="0.98" ry="0.92" fill="#35502a" opacity="0.6"/>
<ellipse cx="28.81" cy="135" rx="0.99" ry="1.12" fill="#2f4826" opacity="0.6"/>
<ellipse cx="24.64" cy="138.2" rx="1.51" ry="1.61" fill="#a5c585" opacity="0.6"/>
<ellipse cx="51.19" cy="174.63" rx="0.96" ry="1.22" fill="#2f4826" opacity="0.6"/>
<ellipse cx="35.82" cy="171.07" rx="0.76" ry="1.18" fill="#9dbd7a" opacity="0.6"/>
<ellipse cx="18.99" cy="165.96" rx="1.44" ry="1.71" fill="#8fb46c" opacity="0.6"/>
<ellipse cx="92.49" cy="135.73" rx="0.89" ry="0.95" fill="#4f7a3a" opacity="0.6"/>
<ellipse cx="79.73" cy="150.89" rx="1.52" ry="1.06" fill="#4f7a3a" opacity="0.6"/>
<ellipse cx="71.32" cy="169.11" rx="1.86" ry="0.7" fill="#a5c585" opacity="0.6"/>
<ellipse cx="18.81" cy="131.92" rx="1.03" ry="1.12" fill="#b8d496" opacity="0.6"/>
<ellipse cx="59.48" cy="174.95" rx="1.82" ry="1.25" fill="#3f6030" opacity="0.6"/>
<ellipse cx="75.47" cy="113.62" rx="1.48" ry="0.8" fill="#35502a" opacity="0.6"/>
<ellipse cx="40.36" cy="109.71" rx="1.07" ry="1.08" fill="#4f7a3a" opacity="0.6"/>
<ellipse cx="41.74" cy="171.4" rx="1.05" ry="1.3" fill="#a5c585" opacity="0.6"/>
<ellipse cx="47.73" cy="181.81" rx="0.83" ry="0.99" fill="#2f4826" opacity="0.6"/>
<ellipse cx="28.27" cy="176.81" rx="1.16" ry="1.8" fill="#b8d496" opacity="0.6"/>
<ellipse cx="28.68" cy="161.98" rx="1.26" ry="1.87" fill="#9dbd7a" opacity="0.6"/>
<ellipse cx="75.49" cy="113.75" rx="0.92" ry="1.77" fill="#4f7a3a" opacity="0.6"/>
<ellipse cx="78.19" cy="120.68" rx="0.95" ry="1.16" fill="#2f4826" opacity="0.6"/>
<ellipse cx="40.73" cy="107.52" rx="1.84" ry="1.4" fill="#3f6030" opacity="0.6"/>
<ellipse cx="26.98" cy="146" rx="1.44" ry="1.06" fill="#3f6030" opacity="0.6"/>
<ellipse cx="75.85" cy="131.5" rx="1.37" ry="1.03" fill="#4f7a3a" opacity="0.6"/>
<ellipse cx="49.72" cy="115.51" rx="1.02" ry="0.93" fill="#3f6030" opacity="0.6"/>
<ellipse cx="90.62" cy="170.49" rx="1.4" ry="1.16" fill="#35502a" opacity="0.6"/>
<ellipse cx="82.88" cy="134.04" rx="0.77" ry="1.67" fill="#a5c585" opacity="0.6"/>
<ellipse cx="19.27" cy="138.58" rx="1.43" ry="1.62" fill="#8fb46c" opacity="0.6"/>
<ellipse cx="74.92" cy="117.5" rx="0.96" ry="1.35" fill="#3f6030" opacity="0.6"/>
<ellipse cx="46.48" cy="187.46" rx="1.49" ry="1.15" fill="#3f6030" opacity="0.6"/>
<ellipse cx="78.67" cy="184.18" rx="1.15" ry="1.44" fill="#9dbd7a" opacity="0.6"/>
</g>
<g filter="url(#ph1c)">
<ellipse cx="53.65" cy="152.19" rx="33.15" ry="27.94" fill="#55624a" opacity="1" transform="rotate(0 53.65 152.19)"/>
<ellipse cx="53.65" cy="135.6" rx="22.95" ry="12.22" fill="#5a77a4" opacity="1" transform="rotate(0 53.65 135.6)"/>
<ellipse cx="54.5" cy="132.11" rx="13.6" ry="6.11" fill="#9db3d3" opacity="1" transform="rotate(0 54.5 132.11)"/>
<ellipse cx="40.05" cy="141.71" rx="10.2" ry="4.37" fill="#56763f" opacity="1" transform="rotate(0 40.05 141.71)"/>
<ellipse cx="53.65" cy="157.43" rx="31.45" ry="17.46" fill="#9f9990" opacity="1" transform="rotate(0 53.65 157.43)"/>
<ellipse cx="37.5" cy="155.68" rx="8.5" ry="8.73" fill="#b3ada4" opacity="1" transform="rotate(0 37.5 155.68)"/>
<ellipse cx="73.2" cy="157.43" rx="8.5" ry="10.48" fill="#85817a" opacity="1" transform="rotate(0 73.2 157.43)"/>
<ellipse cx="56.2" cy="146.95" rx="4.25" ry="4.37" fill="#e8edf2" opacity="1" transform="rotate(0 56.2 146.95)"/>
<ellipse cx="52.8" cy="172.27" rx="25.5" ry="4.37" fill="#5a5953" opacity="1" transform="rotate(0 52.8 172.27)"/>
<polygon points="59.6,173.14 66.4,172.27 78.3,192.35 63,192.35" fill="#3a3a34"/>
</g>
</g>
<g clip-path="url(#ph2)">
<rect x="12" y="190.6" width="85" height="87.4" rx="0" fill="#a4cbe8" stroke="none" stroke-width="1" />
<g filter="url(#ph2b)">
<ellipse cx="18.8" cy="194.97" rx="11.9" ry="8.74" fill="#c3dbee" opacity="1" transform="rotate(0 18.8 194.97)"/>
<ellipse cx="29" cy="276.25" rx="23.8" ry="10.49" fill="#e6eef2" opacity="1" transform="rotate(0 29 276.25)"/>
<ellipse cx="88.5" cy="271.01" rx="13.6" ry="10.49" fill="#c9d8d8" opacity="1" transform="rotate(0 88.5 271.01)"/>
<ellipse cx="80" cy="194.97" rx="23.8" ry="4.37" fill="#5d7f5a" opacity="1" transform="rotate(22 80 194.97)"/>
<ellipse cx="92.75" cy="208.08" rx="18.7" ry="5.24" fill="#557552" opacity="1" transform="rotate(40 92.75 208.08)"/>
<ellipse cx="94.45" cy="229.93" rx="8.5" ry="19.23" fill="#4e6f48" opacity="1" transform="rotate(0 94.45 229.93)"/>
<ellipse cx="91.05" cy="260.52" rx="15.3" ry="6.99" fill="#86a38a" opacity="1" transform="rotate(-35 91.05 260.52)"/>
<ellipse cx="16.25" cy="253.53" rx="8.5" ry="19.23" fill="#628f4c" opacity="1" transform="rotate(0 16.25 253.53)"/>
<ellipse cx="37.5" cy="275.38" rx="10.2" ry="5.24" fill="#7a9a70" opacity="1" transform="rotate(0 37.5 275.38)"/>
<circle cx="54.5" cy="234.3" r="39.1" fill="#65894c"/>
<ellipse cx="47.7" cy="201.09" rx="20.4" ry="8.74" fill="#7aa058" opacity="1" transform="rotate(0 47.7 201.09)"/>
<ellipse cx="17.1" cy="209.83" rx="8.5" ry="17.48" fill="#a4cbe8" opacity="1" transform="rotate(0 17.1 209.83)"/>
<ellipse cx="84.25" cy="197.59" rx="10.2" ry="5.24" fill="#9cc2de" opacity="1" transform="rotate(0 84.25 197.59)"/>
<ellipse cx="23.9" cy="229.93" rx="6.8" ry="17.48" fill="#6d9850" opacity="1" transform="rotate(0 23.9 229.93)"/>
<ellipse cx="54.5" cy="269.26" rx="25.5" ry="6.99" fill="#3e5a30" opacity="1" transform="rotate(0 54.5 269.26)"/>
<ellipse cx="85.1" cy="243.04" rx="6.8" ry="17.48" fill="#4c6e3e" opacity="1" transform="rotate(0 85.1 243.04)"/>
</g>
<g filter="url(#ph2d)" opacity="0.75">
<line x1="21.88" y1="265.62" x2="11.39" y2="263.68" stroke="#3d5a35" stroke-width="1.36"/>
<line x1="11.13" y1="276.76" x2="6.12" y2="271.1" stroke="#3d5a35" stroke-width="1.23"/>
<line x1="13.47" y1="273.32" x2="2.99" y2="262.75" stroke="#6f9058" stroke-width="0.92"/>
<line x1="73.27" y1="190.38" x2="83.91" y2="187.55" stroke="#3d5a35" stroke-width="1.28"/>
<line x1="94.97" y1="217.98" x2="108.13" y2="227.62" stroke="#9fbf86" stroke-width="0.67"/>
<line x1="79.86" y1="274.77" x2="72.27" y2="286.02" stroke="#4b6b40" stroke-width="1.16"/>
<line x1="64.93" y1="276.57" x2="58.92" y2="284.21" stroke="#9fbf86" stroke-width="1.28"/>
<line x1="90.42" y1="257.07" x2="91.89" y2="273.1" stroke="#3d5a35" stroke-width="1.36"/>
<line x1="17.08" y1="268.13" x2="4.88" y2="259.69" stroke="#4b6b40" stroke-width="1.29"/>
<line x1="63.42" y1="271" x2="57.08" y2="277.31" stroke="#9fbf86" stroke-width="1.2"/>
<line x1="10.6" y1="248.36" x2="-0.07" y2="237.36" stroke="#c9dbe6" stroke-width="1.1"/>
<line x1="27.66" y1="273.96" x2="14.19" y2="269.9" stroke="#6f9058" stroke-width="1.05"/>
<line x1="27.15" y1="260.95" x2="18.52" y2="251.63" stroke="#6f9058" stroke-width="1.13"/>
<line x1="9.04" y1="281.29" x2="-6.97" y2="277.38" stroke="#4b6b40" stroke-width="1.09"/>
<line x1="17.67" y1="265.39" x2="11.1" y2="257.08" stroke="#6f9058" stroke-width="0.98"/>
<line x1="70.55" y1="278.69" x2="65.09" y2="284.71" stroke="#3d5a35" stroke-width="0.96"/>
<line x1="88.66" y1="259.7" x2="84.02" y2="267.05" stroke="#c9dbe6" stroke-width="1.22"/>
<line x1="8.99" y1="261.78" x2="-2.68" y2="255.38" stroke="#4b6b40" stroke-width="0.73"/>
<line x1="19.83" y1="264.52" x2="13.42" y2="260.22" stroke="#9fbf86" stroke-width="0.99"/>
<line x1="98.97" y1="237.71" x2="108.2" y2="252.3" stroke="#3d5a35" stroke-width="1.04"/>
<line x1="23.12" y1="254.98" x2="17.76" y2="247.34" stroke="#9fbf86" stroke-width="1.1"/>
<line x1="95.97" y1="189.69" x2="107.87" y2="196.72" stroke="#3d5a35" stroke-width="1.07"/>
<line x1="62.18" y1="189.51" x2="68.62" y2="186.42" stroke="#9fbf86" stroke-width="0.98"/>
<line x1="81.51" y1="188.73" x2="96.21" y2="190.4" stroke="#4b6b40" stroke-width="0.97"/>
<line x1="77.84" y1="200.51" x2="85.72" y2="202.86" stroke="#c9dbe6" stroke-width="1.14"/>
<line x1="77.94" y1="198.67" x2="85.28" y2="198.67" stroke="#4b6b40" stroke-width="1.35"/>
<line x1="100.24" y1="222.04" x2="107.07" y2="232.33" stroke="#c9dbe6" stroke-width="1.3"/>
<line x1="62.2" y1="186.76" x2="69.15" y2="186.56" stroke="#c9dbe6" stroke-width="1.36"/>
<line x1="59.69" y1="196.16" x2="67.95" y2="191.62" stroke="#c9dbe6" stroke-width="1.08"/>
<line x1="15.4" y1="273.64" x2="5.17" y2="262.62" stroke="#3d5a35" stroke-width="1.34"/>
<line x1="96" y1="274.68" x2="94.47" y2="284.88" stroke="#6f9058" stroke-width="0.93"/>
<line x1="15.42" y1="259.06" x2="9.19" y2="249.19" stroke="#3d5a35" stroke-width="0.75"/>
<line x1="23.7" y1="253.43" x2="13.51" y2="245.15" stroke="#3d5a35" stroke-width="0.77"/>
<line x1="21.84" y1="259.24" x2="15.31" y2="251.31" stroke="#9fbf86" stroke-width="1"/>
<line x1="78.44" y1="186.54" x2="87.51" y2="186.06" stroke="#c9dbe6" stroke-width="0.63"/>
<line x1="28.76" y1="282.16" x2="18.38" y2="278.99" stroke="#9fbf86" stroke-width="1"/>
<line x1="83.01" y1="187.14" x2="94.63" y2="185.93" stroke="#3d5a35" stroke-width="1.33"/>
<line x1="19.26" y1="268.38" x2="9.56" y2="265.21" stroke="#c9dbe6" stroke-width="1.19"/>
<line x1="22.5" y1="262.17" x2="13.02" y2="250.79" stroke="#3d5a35" stroke-width="0.71"/>
<line x1="76.73" y1="267.63" x2="65.23" y2="276.01" stroke="#3d5a35" stroke-width="0.9"/>
<line x1="10.27" y1="245.93" x2="2.51" y2="231.67" stroke="#c9dbe6" stroke-width="1.31"/>
<line x1="21.29" y1="279.44" x2="8.51" y2="274.57" stroke="#6f9058" stroke-width="0.62"/>
<line x1="29.14" y1="277.26" x2="16.75" y2="272.28" stroke="#9fbf86" stroke-width="1.34"/>
<line x1="91.56" y1="267.92" x2="81.78" y2="278.7" stroke="#9fbf86" stroke-width="0.97"/>
<line x1="98.34" y1="196.16" x2="111.7" y2="200.96" stroke="#c9dbe6" stroke-width="0.85"/>
<line x1="98.54" y1="221.81" x2="109.1" y2="234.35" stroke="#9fbf86" stroke-width="1.14"/>
</g>
<g filter="url(#ph2d)">
<ellipse cx="83.78" cy="267.64" rx="0.74" ry="0.72" fill="#3f6030" opacity="0.6"/>
<ellipse cx="75.33" cy="200.67" rx="1.1" ry="1.64" fill="#4f7a3a" opacity="0.6"/>
<ellipse cx="77.17" cy="218.74" rx="1.52" ry="1.85" fill="#a5c585" opacity="0.6"/>
<ellipse cx="88.23" cy="247.81" rx="1.11" ry="1.51" fill="#a5c585" opacity="0.6"/>
<ellipse cx="80.05" cy="214.45" rx="0.72" ry="1.89" fill="#a5c585" opacity="0.6"/>
<ellipse cx="41.37" cy="266.61" rx="1.2" ry="1.9" fill="#b8d496" opacity="0.6"/>
<ellipse cx="19.24" cy="253.11" rx="1.73" ry="1.7" fill="#9dbd7a" opacity="0.6"/>
<ellipse cx="41.92" cy="206.67" rx="1.11" ry="1.16" fill="#b8d496" opacity="0.6"/>
<ellipse cx="95.05" cy="232.63" rx="0.76" ry="0.84" fill="#8fb46c" opacity="0.6"/>
<ellipse cx="47.95" cy="202.58" rx="0.7" ry="1.23" fill="#35502a" opacity="0.6"/>
<ellipse cx="21.22" cy="262.57" rx="0.88" ry="0.74" fill="#35502a" opacity="0.6"/>
<ellipse cx="47.8" cy="259.76" rx="1.39" ry="0.71" fill="#3f6030" opacity="0.6"/>
<ellipse cx="28.98" cy="244.58" rx="1.5" ry="1.78" fill="#b8d496" opacity="0.6"/>
<ellipse cx="80.97" cy="229.49" rx="0.85" ry="1.61" fill="#b8d496" opacity="0.6"/>
<ellipse cx="76.95" cy="215.1" rx="1.02" ry="1.59" fill="#35502a" opacity="0.6"/>
<ellipse cx="66.85" cy="200.67" rx="1.85" ry="1.32" fill="#4f7a3a" opacity="0.6"/>
<ellipse cx="71.54" cy="213.31" rx="1.66" ry="0.8" fill="#35502a" opacity="0.6"/>
<ellipse cx="55.53" cy="191.92" rx="0.77" ry="1.28" fill="#4f7a3a" opacity="0.6"/>
<ellipse cx="24.29" cy="215.2" rx="1.86" ry="1.3" fill="#8fb46c" opacity="0.6"/>
<ellipse cx="24.78" cy="252.9" rx="1.37" ry="0.71" fill="#3f6030" opacity="0.6"/>
<ellipse cx="46.1" cy="273.07" rx="1.7" ry="1.4" fill="#3f6030" opacity="0.6"/>
<ellipse cx="51.2" cy="271.07" rx="0.69" ry="1.77" fill="#b8d496" opacity="0.6"/>
<ellipse cx="20.81" cy="231.9" rx="1.07" ry="0.91" fill="#4f7a3a" opacity="0.6"/>
<ellipse cx="44.02" cy="203.83" rx="1.07" ry="0.8" fill="#4f7a3a" opacity="0.6"/>
<ellipse cx="63.38" cy="191.15" rx="1.76" ry="1.87" fill="#b8d496" opacity="0.6"/>
<ellipse cx="53.05" cy="275.77" rx="1.64" ry="0.78" fill="#a5c585" opacity="0.6"/>
<ellipse cx="25.5" cy="252.44" rx="1.22" ry="0.75" fill="#a5c585" opacity="0.6"/>
<ellipse cx="64.91" cy="275.13" rx="1.36" ry="0.8" fill="#3f6030" opacity="0.6"/>
<ellipse cx="60.54" cy="191.88" rx="0.69" ry="1.79" fill="#b8d496" opacity="0.6"/>
<ellipse cx="60.29" cy="200" rx="0.87" ry="0.81" fill="#8fb46c" opacity="0.6"/>
<ellipse cx="77.49" cy="219.17" rx="0.98" ry="1.15" fill="#8fb46c" opacity="0.6"/>
<ellipse cx="61.05" cy="273.56" rx="1.27" ry="1.36" fill="#2f4826" opacity="0.6"/>
<ellipse cx="21.95" cy="256.13" rx="1.24" ry="1.19" fill="#b8d496" opacity="0.6"/>
<ellipse cx="80.43" cy="250.79" rx="1.55" ry="0.92" fill="#8fb46c" opacity="0.6"/>
<ellipse cx="90.86" cy="239.34" rx="1.22" ry="0.85" fill="#8fb46c" opacity="0.6"/>
<ellipse cx="83.66" cy="257.74" rx="1.33" ry="1.7" fill="#a5c585" opacity="0.6"/>
<ellipse cx="75.57" cy="258.77" rx="1.11" ry="1.84" fill="#2f4826" opacity="0.6"/>
<ellipse cx="77.9" cy="248.33" rx="1.35" ry="1.86" fill="#4f7a3a" opacity="0.6"/>
<ellipse cx="31.22" cy="203.18" rx="1.43" ry="1.01" fill="#9dbd7a" opacity="0.6"/>
<ellipse cx="29.79" cy="219.81" rx="1.03" ry="0.95" fill="#3f6030" opacity="0.6"/>
<ellipse cx="29.27" cy="212.32" rx="0.71" ry="1.39" fill="#3f6030" opacity="0.6"/>
<ellipse cx="63.26" cy="209.32" rx="1.41" ry="1.47" fill="#8fb46c" opacity="0.6"/>
<ellipse cx="27.23" cy="254.01" rx="1.38" ry="1.29" fill="#b8d496" opacity="0.6"/>
<ellipse cx="27.96" cy="250.28" rx="0.85" ry="1.35" fill="#8fb46c" opacity="0.6"/>
<ellipse cx="97.43" cy="236.37" rx="1.36" ry="1.49" fill="#3f6030" opacity="0.6"/>
<ellipse cx="39.15" cy="213.32" rx="1.72" ry="1.61" fill="#35502a" opacity="0.6"/>
<ellipse cx="13.59" cy="228.36" rx="0.92" ry="1.53" fill="#b8d496" opacity="0.6"/>
<ellipse cx="34.55" cy="199.38" rx="0.91" ry="1.63" fill="#3f6030" opacity="0.6"/>
<ellipse cx="44.57" cy="195.45" rx="1.69" ry="1.57" fill="#9dbd7a" opacity="0.6"/>
<ellipse cx="91.53" cy="247.25" rx="1.04" ry="1.75" fill="#2f4826" opacity="0.6"/>
<ellipse cx="45.6" cy="260.34" rx="1.48" ry="1.33" fill="#2f4826" opacity="0.6"/>
<ellipse cx="77.06" cy="249.59" rx="0.72" ry="1.72" fill="#4f7a3a" opacity="0.6"/>
<ellipse cx="68.92" cy="268.46" rx="1.38" ry="0.82" fill="#b8d496" opacity="0.6"/>
<ellipse cx="89.34" cy="209.94" rx="0.85" ry="0.75" fill="#b8d496" opacity="0.6"/>
<ellipse cx="40.43" cy="194.22" rx="1.51" ry="1.84" fill="#4f7a3a" opacity="0.6"/>
<ellipse cx="86.8" cy="217.7" rx="0.71" ry="0.76" fill="#8fb46c" opacity="0.6"/>
<ellipse cx="92.05" cy="235.49" rx="0.84" ry="1.92" fill="#3f6030" opacity="0.6"/>
<ellipse cx="34.4" cy="203.52" rx="1.31" ry="1.09" fill="#35502a" opacity="0.6"/>
<ellipse cx="50.02" cy="199.78" rx="0.95" ry="1.27" fill="#35502a" opacity="0.6"/>
<ellipse cx="50.92" cy="261.45" rx="0.85" ry="0.89" fill="#2f4826" opacity="0.6"/>
<ellipse cx="79.13" cy="256.09" rx="1.08" ry="1.46" fill="#8fb46c" opacity="0.6"/>
<ellipse cx="41.02" cy="209.03" rx="0.76" ry="1.01" fill="#4f7a3a" opacity="0.6"/>
<ellipse cx="68.04" cy="209.42" rx="1.2" ry="0.96" fill="#b8d496" opacity="0.6"/>
<ellipse cx="61.74" cy="201.27" rx="1.44" ry="1.71" fill="#b8d496" opacity="0.6"/>
<ellipse cx="23.24" cy="231.46" rx="0.92" ry="1.77" fill="#8fb46c" opacity="0.6"/>
<ellipse cx="74.3" cy="208.83" rx="1.62" ry="1.25" fill="#3f6030" opacity="0.6"/>
<ellipse cx="69.39" cy="199.13" rx="1.57" ry="0.92" fill="#9dbd7a" opacity="0.6"/>
<ellipse cx="49.99" cy="199.88" rx="1.82" ry="1.65" fill="#9dbd7a" opacity="0.6"/>
<ellipse cx="29.45" cy="241.45" rx="0.74" ry="1.22" fill="#a5c585" opacity="0.6"/>
<ellipse cx="37.5" cy="268.9" rx="1.18" ry="0.8" fill="#3f6030" opacity="0.6"/>
<ellipse cx="22.73" cy="230.89" rx="1.52" ry="1.76" fill="#9dbd7a" opacity="0.6"/>
<ellipse cx="31.95" cy="248.46" rx="1.19" ry="1.14" fill="#4f7a3a" opacity="0.6"/>
<ellipse cx="17.56" cy="220.73" rx="1.09" ry="1.87" fill="#a5c585" opacity="0.6"/>
<ellipse cx="83.38" cy="237.24" rx="1.82" ry="1.92" fill="#3f6030" opacity="0.6"/>
<ellipse cx="47.24" cy="197.38" rx="1.09" ry="1.29" fill="#3f6030" opacity="0.6"/>
<ellipse cx="35.59" cy="194.8" rx="1.75" ry="1" fill="#4f7a3a" opacity="0.6"/>
<ellipse cx="24.9" cy="220.86" rx="1.8" ry="0.78" fill="#3f6030" opacity="0.6"/>
<ellipse cx="28.47" cy="216.46" rx="1.14" ry="1.32" fill="#2f4826" opacity="0.6"/>
<ellipse cx="38.2" cy="267.89" rx="0.9" ry="0.77" fill="#4f7a3a" opacity="0.6"/>
<ellipse cx="55.1" cy="192.11" rx="1.69" ry="1.8" fill="#4f7a3a" opacity="0.6"/>
<ellipse cx="60.76" cy="204.51" rx="1.79" ry="1.53" fill="#8fb46c" opacity="0.6"/>
<ellipse cx="21.71" cy="217.56" rx="1.78" ry="0.9" fill="#4f7a3a" opacity="0.6"/>
<ellipse cx="74.57" cy="254.23" rx="0.7" ry="1.86" fill="#9dbd7a" opacity="0.6"/>
<ellipse cx="62" cy="263.99" rx="0.94" ry="0.77" fill="#a5c585" opacity="0.6"/>
<ellipse cx="75.99" cy="208.98" rx="1.61" ry="1.74" fill="#b8d496" opacity="0.6"/>
<ellipse cx="63.59" cy="205.19" rx="1.12" ry="1.62" fill="#4f7a3a" opacity="0.6"/>
<ellipse cx="84.67" cy="243.74" rx="1.46" ry="1.48" fill="#3f6030" opacity="0.6"/>
<ellipse cx="82.1" cy="234.82" rx="1.05" ry="1.51" fill="#8fb46c" opacity="0.6"/>
<ellipse cx="51.61" cy="193.29" rx="1.56" ry="1.48" fill="#35502a" opacity="0.6"/>
<ellipse cx="12.39" cy="246.49" rx="0.97" ry="1.33" fill="#a5c585" opacity="0.6"/>
<ellipse cx="19.33" cy="219.31" rx="1.54" ry="0.76" fill="#3f6030" opacity="0.6"/>
<ellipse cx="20.46" cy="226.56" rx="0.81" ry="1.56" fill="#9dbd7a" opacity="0.6"/>
<ellipse cx="77.48" cy="247.61" rx="1.79" ry="1.49" fill="#9dbd7a" opacity="0.6"/>
<ellipse cx="87.12" cy="219.24" rx="1.4" ry="0.97" fill="#a5c585" opacity="0.6"/>
<ellipse cx="22.58" cy="210.71" rx="0.96" ry="0.91" fill="#9dbd7a" opacity="0.6"/>
<ellipse cx="64.29" cy="260.29" rx="1.76" ry="1.79" fill="#9dbd7a" opacity="0.6"/>
<ellipse cx="20.85" cy="234.89" rx="1.02" ry="0.73" fill="#9dbd7a" opacity="0.6"/>
<ellipse cx="95.53" cy="238.16" rx="1.35" ry="1.17" fill="#4f7a3a" opacity="0.6"/>
<ellipse cx="34.55" cy="252.75" rx="1.42" ry="0.84" fill="#9dbd7a" opacity="0.6"/>
<ellipse cx="34.18" cy="254.82" rx="1.55" ry="1.62" fill="#3f6030" opacity="0.6"/>
<ellipse cx="74.73" cy="267.14" rx="1.84" ry="0.76" fill="#2f4826" opacity="0.6"/>
<ellipse cx="40.72" cy="260.67" rx="0.94" ry="1.13" fill="#9dbd7a" opacity="0.6"/>
<ellipse cx="41.86" cy="271.88" rx="1.8" ry="1.77" fill="#a5c585" opacity="0.6"/>
<ellipse cx="80.5" cy="226.08" rx="1.07" ry="1.14" fill="#3f6030" opacity="0.6"/>
<ellipse cx="70.65" cy="272.58" rx="1.23" ry="1.31" fill="#8fb46c" opacity="0.6"/>
<ellipse cx="18.23" cy="231.24" rx="1.77" ry="0.79" fill="#8fb46c" opacity="0.6"/>
<ellipse cx="26.12" cy="236.33" rx="1.68" ry="1.16" fill="#3f6030" opacity="0.6"/>
<ellipse cx="80.93" cy="239.47" rx="1.65" ry="1.33" fill="#2f4826" opacity="0.6"/>
<ellipse cx="76.35" cy="250.99" rx="1.22" ry="0.74" fill="#2f4826" opacity="0.6"/>
<ellipse cx="60.87" cy="190.12" rx="1.38" ry="1.54" fill="#4f7a3a" opacity="0.6"/>
<ellipse cx="91.5" cy="258.13" rx="0.76" ry="1.56" fill="#9dbd7a" opacity="0.6"/>
<ellipse cx="39.4" cy="203.37" rx="1.79" ry="1.53" fill="#4f7a3a" opacity="0.6"/>
<ellipse cx="11.51" cy="241.81" rx="1.6" ry="1.38" fill="#b8d496" opacity="0.6"/>
<ellipse cx="56.19" cy="193.24" rx="1.58" ry="1.78" fill="#35502a" opacity="0.6"/>
<ellipse cx="75.98" cy="263.14" rx="0.73" ry="1.84" fill="#a5c585" opacity="0.6"/>
<ellipse cx="77.82" cy="217.56" rx="0.71" ry="1.79" fill="#8fb46c" opacity="0.6"/>
<ellipse cx="25.65" cy="241.62" rx="1" ry="1.35" fill="#8fb46c" opacity="0.6"/>
<ellipse cx="98.17" cy="235.88" rx="1.53" ry="1.73" fill="#8fb46c" opacity="0.6"/>
<ellipse cx="24.8" cy="249.6" rx="1.32" ry="0.71" fill="#2f4826" opacity="0.6"/>
<ellipse cx="12.99" cy="234.08" rx="0.91" ry="1.39" fill="#3f6030" opacity="0.6"/>
<ellipse cx="92.09" cy="242.76" rx="1.83" ry="1.82" fill="#2f4826" opacity="0.6"/>
<ellipse cx="70.72" cy="207.06" rx="1.72" ry="0.71" fill="#a5c585" opacity="0.6"/>
<ellipse cx="93.86" cy="254.42" rx="1.52" ry="1.67" fill="#3f6030" opacity="0.6"/>
<ellipse cx="70.67" cy="274.54" rx="1.73" ry="1.49" fill="#2f4826" opacity="0.6"/>
<ellipse cx="83.5" cy="263.9" rx="1.2" ry="1.12" fill="#4f7a3a" opacity="0.6"/>
<ellipse cx="24.15" cy="208.68" rx="1.54" ry="1.2" fill="#4f7a3a" opacity="0.6"/>
<ellipse cx="59.91" cy="195.24" rx="1.4" ry="1.53" fill="#2f4826" opacity="0.6"/>
<ellipse cx="48.76" cy="278.01" rx="1.71" ry="1.66" fill="#a5c585" opacity="0.6"/>
<ellipse cx="54.24" cy="204.72" rx="1.01" ry="0.74" fill="#35502a" opacity="0.6"/>
<ellipse cx="22.78" cy="216.28" rx="1.73" ry="0.72" fill="#4f7a3a" opacity="0.6"/>
<ellipse cx="29.08" cy="221.48" rx="1.2" ry="1.73" fill="#9dbd7a" opacity="0.6"/>
<ellipse cx="18.06" cy="250.22" rx="1.23" ry="0.99" fill="#35502a" opacity="0.6"/>
<ellipse cx="38.2" cy="194.82" rx="1.1" ry="1.26" fill="#35502a" opacity="0.6"/>
<ellipse cx="59.28" cy="263.38" rx="1.7" ry="1.2" fill="#4f7a3a" opacity="0.6"/>
<ellipse cx="29.72" cy="206.52" rx="1.15" ry="1.52" fill="#a5c585" opacity="0.6"/>
<ellipse cx="79.74" cy="224" rx="1.5" ry="1.24" fill="#b8d496" opacity="0.6"/>
<ellipse cx="88.24" cy="242.83" rx="1.73" ry="1.23" fill="#8fb46c" opacity="0.6"/>
<ellipse cx="36.72" cy="198.88" rx="0.71" ry="1.1" fill="#4f7a3a" opacity="0.6"/>
<ellipse cx="81.62" cy="259.91" rx="1.58" ry="0.83" fill="#b8d496" opacity="0.6"/>
<ellipse cx="86.45" cy="213.19" rx="1.22" ry="1.51" fill="#3f6030" opacity="0.6"/>
<ellipse cx="21.43" cy="225.6" rx="1.76" ry="1.47" fill="#a5c585" opacity="0.6"/>
<ellipse cx="62.19" cy="202.33" rx="1.45" ry="1.48" fill="#b8d496" opacity="0.6"/>
<ellipse cx="28.31" cy="243.31" rx="0.9" ry="1.01" fill="#35502a" opacity="0.6"/>
<ellipse cx="59.48" cy="262.1" rx="1.44" ry="1.86" fill="#2f4826" opacity="0.6"/>
<ellipse cx="40.81" cy="194.96" rx="1.87" ry="1.37" fill="#9dbd7a" opacity="0.6"/>
<ellipse cx="34.94" cy="267.49" rx="1.79" ry="1.72" fill="#3f6030" opacity="0.6"/>
<ellipse cx="67.84" cy="211.15" rx="1.41" ry="1.62" fill="#b8d496" opacity="0.6"/>
<ellipse cx="84.06" cy="260.98" rx="0.72" ry="0.99" fill="#a5c585" opacity="0.6"/>
<ellipse cx="21.72" cy="252.96" rx="1.74" ry="1.32" fill="#a5c585" opacity="0.6"/>
<ellipse cx="51.76" cy="276.24" rx="1.47" ry="1.47" fill="#2f4826" opacity="0.6"/>
<ellipse cx="26.11" cy="257.37" rx="1.57" ry="1.31" fill="#4f7a3a" opacity="0.6"/>
<ellipse cx="45.26" cy="201.19" rx="1.47" ry="1.52" fill="#3f6030" opacity="0.6"/>
<ellipse cx="89.08" cy="210.62" rx="1.15" ry="1.41" fill="#a5c585" opacity="0.6"/>
<ellipse cx="75.4" cy="268.21" rx="1.04" ry="1.27" fill="#3f6030" opacity="0.6"/>
<ellipse cx="20.47" cy="246.89" rx="1.78" ry="1.44" fill="#9dbd7a" opacity="0.6"/>
<ellipse cx="33.6" cy="253.97" rx="0.72" ry="0.74" fill="#3f6030" opacity="0.6"/>
<ellipse cx="29.13" cy="250.36" rx="1.65" ry="1.81" fill="#3f6030" opacity="0.6"/>
<ellipse cx="97.84" cy="230.57" rx="0.72" ry="1.41" fill="#2f4826" opacity="0.6"/>
<ellipse cx="62.6" cy="193.13" rx="1.43" ry="1.9" fill="#9dbd7a" opacity="0.6"/>
<ellipse cx="30.77" cy="258.51" rx="1.48" ry="1.86" fill="#8fb46c" opacity="0.6"/>
<ellipse cx="51.68" cy="265.84" rx="1.45" ry="0.84" fill="#9dbd7a" opacity="0.6"/>
<ellipse cx="27.63" cy="224.92" rx="0.98" ry="0.76" fill="#b8d496" opacity="0.6"/>
<ellipse cx="25.97" cy="243.64" rx="1.57" ry="1.92" fill="#8fb46c" opacity="0.6"/>
<ellipse cx="30.68" cy="208.31" rx="0.73" ry="0.84" fill="#a5c585" opacity="0.6"/>
<ellipse cx="72.54" cy="206.96" rx="1.44" ry="0.81" fill="#4f7a3a" opacity="0.6"/>
<ellipse cx="86.73" cy="234.07" rx="0.8" ry="0.82" fill="#35502a" opacity="0.6"/>
<ellipse cx="19.92" cy="255.54" rx="1.52" ry="0.91" fill="#a5c585" opacity="0.6"/>
<ellipse cx="76.47" cy="216.86" rx="1.24" ry="1.38" fill="#8fb46c" opacity="0.6"/>
<ellipse cx="29.12" cy="214.7" rx="1.83" ry="1.65" fill="#35502a" opacity="0.6"/>
<ellipse cx="21.04" cy="223.18" rx="1.82" ry="1.19" fill="#8fb46c" opacity="0.6"/>
<ellipse cx="48.13" cy="274.01" rx="1.83" ry="1.9" fill="#8fb46c" opacity="0.6"/>
<ellipse cx="65.78" cy="193.76" rx="1.05" ry="0.72" fill="#35502a" opacity="0.6"/>
<ellipse cx="80.99" cy="253.64" rx="1.36" ry="1.55" fill="#4f7a3a" opacity="0.6"/>
<ellipse cx="68.89" cy="208.66" rx="1.23" ry="1.77" fill="#8fb46c" opacity="0.6"/>
<ellipse cx="76.18" cy="268.63" rx="1.75" ry="0.79" fill="#b8d496" opacity="0.6"/>
<ellipse cx="87.81" cy="232.49" rx="1.14" ry="1.85" fill="#a5c585" opacity="0.6"/>
<ellipse cx="57.09" cy="194.88" rx="1.49" ry="1.19" fill="#9dbd7a" opacity="0.6"/>
<ellipse cx="56.99" cy="201.23" rx="0.7" ry="1.25" fill="#3f6030" opacity="0.6"/>
<ellipse cx="50.98" cy="263.25" rx="1.79" ry="0.85" fill="#b8d496" opacity="0.6"/>
<ellipse cx="57.31" cy="206.53" rx="0.91" ry="1.1" fill="#8fb46c" opacity="0.6"/>
<ellipse cx="67.56" cy="272.74" rx="1.75" ry="0.99" fill="#3f6030" opacity="0.6"/>
<ellipse cx="84.44" cy="209.96" rx="1.77" ry="0.89" fill="#3f6030" opacity="0.6"/>
<ellipse cx="25.51" cy="255.48" rx="1.85" ry="0.99" fill="#3f6030" opacity="0.6"/>
<ellipse cx="49.3" cy="275.11" rx="1.37" ry="1.04" fill="#4f7a3a" opacity="0.6"/>
<ellipse cx="56.08" cy="202.52" rx="1.33" ry="1.65" fill="#8fb46c" opacity="0.6"/>
<ellipse cx="35.21" cy="201.57" rx="0.86" ry="1.7" fill="#9dbd7a" opacity="0.6"/>
<ellipse cx="33.86" cy="265.84" rx="1.77" ry="0.94" fill="#8fb46c" opacity="0.6"/>
<ellipse cx="74.56" cy="210.7" rx="1.3" ry="1.51" fill="#9dbd7a" opacity="0.6"/>
<ellipse cx="21.4" cy="213.19" rx="0.94" ry="1.92" fill="#8fb46c" opacity="0.6"/>
<ellipse cx="31.08" cy="271.57" rx="0.77" ry="0.98" fill="#9dbd7a" opacity="0.6"/>
<ellipse cx="34.71" cy="217.43" rx="1.15" ry="0.84" fill="#2f4826" opacity="0.6"/>
<ellipse cx="85.69" cy="232.53" rx="1.11" ry="1.15" fill="#9dbd7a" opacity="0.6"/>
<ellipse cx="82.81" cy="258.43" rx="1.57" ry="1.75" fill="#4f7a3a" opacity="0.6"/>
<ellipse cx="75.87" cy="209.16" rx="1.45" ry="1.86" fill="#2f4826" opacity="0.6"/>
<ellipse cx="62.3" cy="199.67" rx="1.74" ry="0.74" fill="#b8d496" opacity="0.6"/>
<ellipse cx="26.64" cy="204.7" rx="1.54" ry="1.28" fill="#b8d496" opacity="0.6"/>
<ellipse cx="56.35" cy="193.89" rx="1.74" ry="1.12" fill="#4f7a3a" opacity="0.6"/>
<ellipse cx="32.4" cy="196.35" rx="0.94" ry="1.11" fill="#8fb46c" opacity="0.6"/>
<ellipse cx="78.07" cy="223.54" rx="1.31" ry="1.4" fill="#35502a" opacity="0.6"/>
<ellipse cx="29.47" cy="264.27" rx="0.76" ry="1.2" fill="#b8d496" opacity="0.6"/>
<ellipse cx="22.73" cy="231.26" rx="1.53" ry="1.49" fill="#35502a" opacity="0.6"/>
<ellipse cx="81.07" cy="240.6" rx="1.62" ry="0.79" fill="#2f4826" opacity="0.6"/>
<ellipse cx="75.65" cy="210.6" rx="0.9" ry="1.5" fill="#3f6030" opacity="0.6"/>
<ellipse cx="16.5" cy="221.04" rx="1.22" ry="0.93" fill="#b8d496" opacity="0.6"/>
<ellipse cx="71.07" cy="262.61" rx="1.45" ry="1.27" fill="#35502a" opacity="0.6"/>
<ellipse cx="59.02" cy="198.1" rx="1.77" ry="0.74" fill="#2f4826" opacity="0.6"/>
<ellipse cx="91.38" cy="216.98" rx="1.82" ry="0.89" fill="#2f4826" opacity="0.6"/>
<ellipse cx="25.27" cy="219.26" rx="0.85" ry="0.98" fill="#4f7a3a" opacity="0.6"/>
<ellipse cx="52.45" cy="207.67" rx="1.48" ry="1.59" fill="#3f6030" opacity="0.6"/>
<ellipse cx="54.18" cy="263.13" rx="0.75" ry="0.72" fill="#3f6030" opacity="0.6"/>
<ellipse cx="21.45" cy="228.87" rx="0.84" ry="0.95" fill="#b8d496" opacity="0.6"/>
<ellipse cx="23.36" cy="216.27" rx="1.08" ry="1.04" fill="#35502a" opacity="0.6"/>
<ellipse cx="34.46" cy="257.38" rx="0.72" ry="1.19" fill="#a5c585" opacity="0.6"/>
<ellipse cx="32.92" cy="270.74" rx="0.93" ry="1.3" fill="#4f7a3a" opacity="0.6"/>
<ellipse cx="46.34" cy="265.15" rx="1.68" ry="1.7" fill="#2f4826" opacity="0.6"/>
<ellipse cx="85.8" cy="205.22" rx="1.57" ry="1.39" fill="#2f4826" opacity="0.6"/>
<ellipse cx="85.56" cy="221.84" rx="1.18" ry="1.61" fill="#b8d496" opacity="0.6"/>
<ellipse cx="78.03" cy="198.26" rx="1.51" ry="1.13" fill="#2f4826" opacity="0.6"/>
<ellipse cx="78.9" cy="256.29" rx="1.25" ry="1.47" fill="#4f7a3a" opacity="0.6"/>
<ellipse cx="88.73" cy="234.7" rx="1.2" ry="1.48" fill="#a5c585" opacity="0.6"/>
</g>
<g filter="url(#ph2c)">
<ellipse cx="54.5" cy="239.54" rx="32.73" ry="29.28" fill="#30352e" opacity="1" transform="rotate(0 54.5 239.54)"/>
<ellipse cx="54.5" cy="240.42" rx="30.6" ry="26.66" fill="#545653" opacity="1" transform="rotate(0 54.5 240.42)"/>
<ellipse cx="54.5" cy="224.69" rx="24.65" ry="8.74" fill="#404c60" opacity="1" transform="rotate(0 54.5 224.69)"/>
<ellipse cx="64.7" cy="220.32" rx="10.2" ry="4.37" fill="#7387a3" opacity="1" transform="rotate(0 64.7 220.32)"/>
<ellipse cx="37.5" cy="225.56" rx="6.8" ry="5.24" fill="#6f8cb3" opacity="1" transform="rotate(0 37.5 225.56)"/>
<ellipse cx="44.3" cy="229.93" rx="8.5" ry="5.24" fill="#465f3c" opacity="1" transform="rotate(0 44.3 229.93)"/>
<ellipse cx="54.5" cy="236.05" rx="10.2" ry="8.74" fill="#333634" opacity="1" transform="rotate(0 54.5 236.05)"/>
<ellipse cx="37.5" cy="247.41" rx="11.05" ry="11.36" fill="#7d7b76" opacity="1" transform="rotate(0 37.5 247.41)"/>
<ellipse cx="69.8" cy="247.41" rx="10.2" ry="11.36" fill="#5a5b57" opacity="1" transform="rotate(0 69.8 247.41)"/>
<ellipse cx="54.5" cy="262.27" rx="22.1" ry="4.37" fill="#3f403a" opacity="1" transform="rotate(0 54.5 262.27)"/>
<polygon points="59.6,260.52 66.4,259.65 78.3,279.75 63,279.75" fill="#3a3a34"/>
</g>
</g>
<path d="M61.34,27.16L65.78,30.75M66.97,28.89L67.62,30.87M46.19,30.04L42.39,34.47M46.19,30.04L52.2,29.17M35.41,30.54L39.84,27.88M43.27,37.67L42.41,42.02M53.76,37.46L53.75,35.2M53.76,37.46L60.99,36.03M60.99,36.03L65.78,30.75M68.82,39.64L69.6,40.53M68.82,39.64L72.05,38.66M65.16,33.34L65.78,30.75M65.16,33.34L67.62,30.87M72.01,32.64L67.62,30.87M79.94,32.62L72.01,32.64M74.96,41.11L72.05,38.66M74.96,41.11L69.6,40.53M42.41,42.02L42.14,42.88M42.41,42.02L43.27,37.67M69.6,40.53L68.82,39.64M69.6,40.53L72.05,38.66M72.87,48.51L72.93,54.8M32.83,47.64L28.53,50.08M56.62,47.26L57.91,55.78M56.62,47.26L49.06,52.98M45.46,53.76L49.06,52.98M32.44,48.36L28.53,50.08M57.91,55.78L56.17,58.48M61.08,56.81L64.43,59.91M71.4,57.2L72.93,54.8M71.4,57.2L76.01,59.23M87.76,60.29L89.89,60.86M49.06,52.98L46.68,50.68M49.06,52.98L45.46,53.76M56.17,58.48L57.91,55.78M53.91,56.9L50.49,56.84M65.91,54.25L61.08,56.81M31.35,59.64L30.73,57.61M50.49,56.84L53.91,56.9M50.49,56.84L49.06,52.98M53.82,63.83L53.38,65.1M53.82,63.83L56.42,63.01M60.56,62.86L62.56,65.7M62.56,65.7L60.56,62.86M62.56,65.7L64.43,59.91M37.67,62.94L31.35,59.64M55.23,68.38L57.03,68.82M55.23,68.38L53.38,65.1M57.03,68.82L53.38,65.1M72.08,64.79L75.24,66.1M72.08,64.79L75.7,64.23M53.38,65.1L53.82,63.83M68.6,67.34L72.08,64.79M89.89,60.86L87.76,60.29M19.07,72.8L22.47,67.15M38.62,73.12L41.03,74.38M38.62,73.12L41.4,70.83M41.03,74.38L38.62,73.12M41.03,74.38L40.13,76.99M54.11,78.73L52.72,77.21M57.61,78.22L58.61,76.62M57.61,78.22L54.11,78.73M52.72,77.21L54.11,78.73M40.13,76.99L41.03,74.38M58.61,76.62L57.61,78.22M26.98,81.53L33.54,78.79M62.08,86.58L66.8,88.35M55.22,90.03L59.43,93.16M55.22,90.03L54.81,95.73M59.43,93.16L54.81,95.73M60.07,24L61.34,27.16M73.3,48.79L72.87,48.51M73.3,48.79L72.93,54.8M30.73,57.61L31.35,59.64M30.73,57.61L24.57,60.29M75.24,66.1L75.7,64.23M75.24,66.1L72.08,64.79M30.08,78.08L26.98,81.53M69.1,80.51L68.01,87.63M65.78,30.75L67.62,30.87M65.78,30.75L66.97,28.89M81.14,43.44L85.14,45.77M28.53,50.08L32.44,48.36M72.93,54.8L71.4,57.2M24.57,60.29L30.73,57.61M22.47,67.15L23.57,72.77M73.33,69.5L75.24,66.1M33.54,78.79L30.08,78.08M68.01,87.63L62.08,86.58" stroke="#e6e6e6" stroke-width="0.35" fill="none" opacity="0.4"/>
<circle cx="49.71" cy="17.18" r="1.2" fill="#f6f6f6" stroke="#777" stroke-width="0.3"/>
<circle cx="61.34" cy="27.16" r="1.2" fill="#f6f6f6" stroke="#777" stroke-width="0.3"/>
<circle cx="67.62" cy="30.87" r="1.2" fill="#f6f6f6" stroke="#777" stroke-width="0.3"/>
<circle cx="66.97" cy="28.89" r="1.2" fill="#f6f6f6" stroke="#777" stroke-width="0.3"/>
<circle cx="39.84" cy="27.88" r="1.2" fill="#f6f6f6" stroke="#777" stroke-width="0.3"/>
<circle cx="46.19" cy="30.04" r="1.2" fill="#f6f6f6" stroke="#777" stroke-width="0.3"/>
<circle cx="35.41" cy="30.54" r="1.2" fill="#f6f6f6" stroke="#777" stroke-width="0.3"/>
<circle cx="43.27" cy="37.67" r="1.2" fill="#f6f6f6" stroke="#777" stroke-width="0.3"/>
<circle cx="42.39" cy="34.47" r="1.2" fill="#f6f6f6" stroke="#777" stroke-width="0.3"/>
<circle cx="53.75" cy="35.2" r="1.2" fill="#f6f6f6" stroke="#777" stroke-width="0.3"/>
<circle cx="53.76" cy="37.46" r="1.2" fill="#f6f6f6" stroke="#777" stroke-width="0.3"/>
<circle cx="60.99" cy="36.03" r="1.2" fill="#f6f6f6" stroke="#777" stroke-width="0.3"/>
<circle cx="68.82" cy="39.64" r="1.2" fill="#f6f6f6" stroke="#777" stroke-width="0.3"/>
<circle cx="65.16" cy="33.34" r="1.2" fill="#f6f6f6" stroke="#777" stroke-width="0.3"/>
<circle cx="72.01" cy="32.64" r="1.2" fill="#f6f6f6" stroke="#777" stroke-width="0.3"/>
<circle cx="72.05" cy="38.66" r="1.2" fill="#f6f6f6" stroke="#777" stroke-width="0.3"/>
<circle cx="79.94" cy="32.62" r="1.2" fill="#f6f6f6" stroke="#777" stroke-width="0.3"/>
<circle cx="74.96" cy="41.11" r="1.2" fill="#f6f6f6" stroke="#777" stroke-width="0.3"/>
<circle cx="85.14" cy="45.77" r="1.2" fill="#f6f6f6" stroke="#777" stroke-width="0.3"/>
<circle cx="42.14" cy="42.88" r="1.2" fill="#f6f6f6" stroke="#777" stroke-width="0.3"/>
<circle cx="42.41" cy="42.02" r="1.2" fill="#f6f6f6" stroke="#777" stroke-width="0.3"/>
<circle cx="69.6" cy="40.53" r="1.2" fill="#f6f6f6" stroke="#777" stroke-width="0.3"/>
<circle cx="72.87" cy="48.51" r="1.2" fill="#f6f6f6" stroke="#777" stroke-width="0.3"/>
<circle cx="32.83" cy="47.64" r="1.2" fill="#f6f6f6" stroke="#777" stroke-width="0.3"/>
<circle cx="46.68" cy="50.68" r="1.2" fill="#f6f6f6" stroke="#777" stroke-width="0.3"/>
<circle cx="56.62" cy="47.26" r="1.2" fill="#f6f6f6" stroke="#777" stroke-width="0.3"/>
<circle cx="45.46" cy="53.76" r="1.2" fill="#f6f6f6" stroke="#777" stroke-width="0.3"/>
<circle cx="32.44" cy="48.36" r="1.2" fill="#f6f6f6" stroke="#777" stroke-width="0.3"/>
<circle cx="57.91" cy="55.78" r="1.2" fill="#f6f6f6" stroke="#777" stroke-width="0.3"/>
<circle cx="61.08" cy="56.81" r="1.2" fill="#f6f6f6" stroke="#777" stroke-width="0.3"/>
<circle cx="71.4" cy="57.2" r="1.2" fill="#f6f6f6" stroke="#777" stroke-width="0.3"/>
<circle cx="76.01" cy="59.23" r="1.2" fill="#f6f6f6" stroke="#777" stroke-width="0.3"/>
<circle cx="87.76" cy="60.29" r="1.2" fill="#f6f6f6" stroke="#777" stroke-width="0.3"/>
<circle cx="49.06" cy="52.98" r="1.2" fill="#f6f6f6" stroke="#777" stroke-width="0.3"/>
<circle cx="56.17" cy="58.48" r="1.2" fill="#f6f6f6" stroke="#777" stroke-width="0.3"/>
<circle cx="53.91" cy="56.9" r="1.2" fill="#f6f6f6" stroke="#777" stroke-width="0.3"/>
<circle cx="65.91" cy="54.25" r="1.2" fill="#f6f6f6" stroke="#777" stroke-width="0.3"/>
<circle cx="31.35" cy="59.64" r="1.2" fill="#f6f6f6" stroke="#777" stroke-width="0.3"/>
<circle cx="50.49" cy="56.84" r="1.2" fill="#f6f6f6" stroke="#777" stroke-width="0.3"/>
<circle cx="53.82" cy="63.83" r="1.2" fill="#f6f6f6" stroke="#777" stroke-width="0.3"/>
<circle cx="56.42" cy="63.01" r="1.2" fill="#f6f6f6" stroke="#777" stroke-width="0.3"/>
<circle cx="60.56" cy="62.86" r="1.2" fill="#f6f6f6" stroke="#777" stroke-width="0.3"/>
<circle cx="62.56" cy="65.7" r="1.2" fill="#f6f6f6" stroke="#777" stroke-width="0.3"/>
<circle cx="64.43" cy="59.91" r="1.2" fill="#f6f6f6" stroke="#777" stroke-width="0.3"/>
<circle cx="37.67" cy="62.94" r="1.2" fill="#f6f6f6" stroke="#777" stroke-width="0.3"/>
<circle cx="55.23" cy="68.38" r="1.2" fill="#f6f6f6" stroke="#777" stroke-width="0.3"/>
<circle cx="57.03" cy="68.82" r="1.2" fill="#f6f6f6" stroke="#777" stroke-width="0.3"/>
<circle cx="72.08" cy="64.79" r="1.2" fill="#f6f6f6" stroke="#777" stroke-width="0.3"/>
<circle cx="53.38" cy="65.1" r="1.2" fill="#f6f6f6" stroke="#777" stroke-width="0.3"/>
<circle cx="68.6" cy="67.34" r="1.2" fill="#f6f6f6" stroke="#777" stroke-width="0.3"/>
<circle cx="89.89" cy="60.86" r="1.2" fill="#f6f6f6" stroke="#777" stroke-width="0.3"/>
<circle cx="19.07" cy="72.8" r="1.2" fill="#f6f6f6" stroke="#777" stroke-width="0.3"/>
<circle cx="23.57" cy="72.77" r="1.2" fill="#f6f6f6" stroke="#777" stroke-width="0.3"/>
<circle cx="38.62" cy="73.12" r="1.2" fill="#f6f6f6" stroke="#777" stroke-width="0.3"/>
<circle cx="41.4" cy="70.83" r="1.2" fill="#f6f6f6" stroke="#777" stroke-width="0.3"/>
<circle cx="41.03" cy="74.38" r="1.2" fill="#f6f6f6" stroke="#777" stroke-width="0.3"/>
<circle cx="51.61" cy="71.47" r="1.2" fill="#f6f6f6" stroke="#777" stroke-width="0.3"/>
<circle cx="54.11" cy="78.73" r="1.2" fill="#f6f6f6" stroke="#777" stroke-width="0.3"/>
<circle cx="56.46" cy="74.57" r="1.2" fill="#f6f6f6" stroke="#777" stroke-width="0.3"/>
<circle cx="57.61" cy="78.22" r="1.2" fill="#f6f6f6" stroke="#777" stroke-width="0.3"/>
<circle cx="52.72" cy="77.21" r="1.2" fill="#f6f6f6" stroke="#777" stroke-width="0.3"/>
<circle cx="40.13" cy="76.99" r="1.2" fill="#f6f6f6" stroke="#777" stroke-width="0.3"/>
<circle cx="58.61" cy="76.62" r="1.2" fill="#f6f6f6" stroke="#777" stroke-width="0.3"/>
<circle cx="26.98" cy="81.53" r="1.2" fill="#f6f6f6" stroke="#777" stroke-width="0.3"/>
<circle cx="62.08" cy="86.58" r="1.2" fill="#f6f6f6" stroke="#777" stroke-width="0.3"/>
<circle cx="55.22" cy="90.03" r="1.2" fill="#f6f6f6" stroke="#777" stroke-width="0.3"/>
<circle cx="54.81" cy="95.73" r="1.2" fill="#f6f6f6" stroke="#777" stroke-width="0.3"/>
<circle cx="59.43" cy="93.16" r="1.2" fill="#f6f6f6" stroke="#777" stroke-width="0.3"/>
<circle cx="60.07" cy="24" r="1.2" fill="#f6f6f6" stroke="#777" stroke-width="0.3"/>
<circle cx="73.3" cy="48.79" r="1.2" fill="#f6f6f6" stroke="#777" stroke-width="0.3"/>
<circle cx="30.73" cy="57.61" r="1.2" fill="#f6f6f6" stroke="#777" stroke-width="0.3"/>
<circle cx="75.24" cy="66.1" r="1.2" fill="#f6f6f6" stroke="#777" stroke-width="0.3"/>
<circle cx="30.08" cy="78.08" r="1.2" fill="#f6f6f6" stroke="#777" stroke-width="0.3"/>
<circle cx="69.1" cy="80.51" r="1.2" fill="#f6f6f6" stroke="#777" stroke-width="0.3"/>
<circle cx="60.29" cy="20.99" r="1.2" fill="#f6f6f6" stroke="#777" stroke-width="0.3"/>
<circle cx="52.2" cy="29.17" r="1.2" fill="#f6f6f6" stroke="#777" stroke-width="0.3"/>
<circle cx="65.78" cy="30.75" r="1.2" fill="#f6f6f6" stroke="#777" stroke-width="0.3"/>
<circle cx="81.14" cy="43.44" r="1.2" fill="#f6f6f6" stroke="#777" stroke-width="0.3"/>
<circle cx="85.53" cy="45.11" r="1.2" fill="#f6f6f6" stroke="#777" stroke-width="0.3"/>
<circle cx="28.53" cy="50.08" r="1.2" fill="#f6f6f6" stroke="#777" stroke-width="0.3"/>
<circle cx="72.93" cy="54.8" r="1.2" fill="#f6f6f6" stroke="#777" stroke-width="0.3"/>
<circle cx="24.57" cy="60.29" r="1.2" fill="#f6f6f6" stroke="#777" stroke-width="0.3"/>
<circle cx="22.47" cy="67.15" r="1.2" fill="#f6f6f6" stroke="#777" stroke-width="0.3"/>
<circle cx="32.34" cy="70.35" r="1.2" fill="#f6f6f6" stroke="#777" stroke-width="0.3"/>
<circle cx="75.7" cy="64.23" r="1.2" fill="#f6f6f6" stroke="#777" stroke-width="0.3"/>
<circle cx="78.72" cy="70.85" r="1.2" fill="#f6f6f6" stroke="#777" stroke-width="0.3"/>
<circle cx="73.33" cy="69.5" r="1.2" fill="#f6f6f6" stroke="#777" stroke-width="0.3"/>
<circle cx="79.48" cy="74.77" r="1.2" fill="#f6f6f6" stroke="#777" stroke-width="0.3"/>
<circle cx="33.54" cy="78.79" r="1.2" fill="#f6f6f6" stroke="#777" stroke-width="0.3"/>
<circle cx="66.8" cy="88.35" r="1.2" fill="#f6f6f6" stroke="#777" stroke-width="0.3"/>
<circle cx="68.01" cy="87.63" r="1.2" fill="#f6f6f6" stroke="#777" stroke-width="0.3"/>
<rect x="54.01" y="57.2" width="2.52" height="2.52" fill="#2f9d6a" transform="rotate(45 55.27 58.46)"/>
<circle cx="53.5" cy="140.0" r="1.4" fill="#f4f4f4"/>
<circle cx="53.5" cy="146.0" r="1.4" fill="#f4f4f4"/>
<circle cx="53.5" cy="152.0" r="1.4" fill="#f4f4f4"/>
<path d="M69.78,206.18L68.5,204.46M69.78,206.18L72.35,209.74M44.74,205.39L45.64,210.4M36.4,207.1L38.96,210.4M36.4,207.1L40.5,204.86M38.96,210.4L36.4,207.1M38.96,210.4L40.5,215.42M51.16,211.46L51.55,214.36M51.55,214.36L45.64,210.4M60.41,211.46L64.64,208.03M65.67,211.99L64.64,208.03M68.5,211.46L65.67,211.99M72.35,209.74L74.27,209.35M72.35,209.74L68.5,211.46M76.2,211.46L74.27,209.35M81.34,217L81.34,219.91M42.56,216.74L45.64,210.4M66.57,218.59L71.32,221.23M66.57,218.59L65.67,211.99M71.32,221.23L71.06,225.98M71.32,221.23L66.57,218.59M35.75,219.91L33.57,225.59M49.49,221.23L54.37,222.29M54.37,222.29L49.49,221.23M54.37,222.29L56.3,226.91M44.74,224.27L45.13,230.87M33.57,225.59L28.95,222.55M33.57,225.59L35.75,219.91M56.3,226.91L54.37,222.29M64,229.15L62.72,236.15M76.2,229.94L72.35,230.21M87.11,230.87L87.5,238.79M45.13,230.87L47.31,235.22M45.13,230.87L44.74,224.27M52.45,230.87L53.09,235.22M56.94,230.87L56.3,226.91M35.11,235.49L28.69,235.22M35.11,235.49L34.47,242.35M53.09,235.22L52.45,230.87M59.76,235.22L57.58,235.75M62.72,236.15L65.29,237.07M62.72,236.15L59.76,235.22M40.89,239.71L34.47,242.35M58.48,239.18L57.2,242.35M60.15,240.51L58.48,239.18M60.15,240.51L57.2,242.35M69.78,239.71L73.12,240.11M69.78,239.71L65.29,237.07M64.9,242.75L60.15,240.51M64.9,242.75L70.04,244.99M22.91,248.69L24.84,250.01M22.91,248.69L30.23,249.35M37.42,247.11L40.89,247.11M37.42,247.11L34.47,242.35M40.89,247.11L37.42,247.11M41.79,251.07L40.89,247.11M41.79,251.07L39.61,255.03M51.16,247.11L52.45,251.07M61.05,250.01L57.97,248.43M61.05,250.01L55.4,255.56M52.45,251.07L52.83,249.35M39.61,255.03L41.79,251.07M39.61,255.03L40.89,247.11M29.59,256.35L30.23,249.35M58.48,259.52L55.4,255.56M51.8,266.12L54.37,269.55M51.8,266.12L58.48,259.52M54.37,269.55L51.8,266.12M54.37,269.55L61.69,271.4M61.69,271.4L54.37,269.55M77.48,226.25L76.2,229.94M77.48,226.25L71.06,225.98M27.66,231.26L28.69,235.22M27.66,231.26L25.1,238.39M30.23,249.35L31,253.97M56.3,205.78L57.58,201.82M64.64,208.03L65.67,211.99M64.64,208.03L68.5,211.46M83.39,222.02L81.34,219.91M71.06,225.98L72.35,230.21M28.69,235.22L27.66,231.26M25.1,238.39L28.69,235.22M75.56,236.54L73.12,240.11M70.04,244.99L69.78,239.71M68.5,262.82L64,260.57" stroke="#e6e6e6" stroke-width="0.35" fill="none" opacity="0.4"/>
<circle cx="46.92" cy="194.3" r="1.2" fill="#f6f6f6" stroke="#777" stroke-width="0.3"/>
<circle cx="57.58" cy="201.82" r="1.2" fill="#f6f6f6" stroke="#777" stroke-width="0.3"/>
<circle cx="68.5" cy="204.46" r="1.2" fill="#f6f6f6" stroke="#777" stroke-width="0.3"/>
<circle cx="69.78" cy="206.18" r="1.2" fill="#f6f6f6" stroke="#777" stroke-width="0.3"/>
<circle cx="40.5" cy="204.86" r="1.2" fill="#f6f6f6" stroke="#777" stroke-width="0.3"/>
<circle cx="44.74" cy="205.39" r="1.2" fill="#f6f6f6" stroke="#777" stroke-width="0.3"/>
<circle cx="36.4" cy="207.1" r="1.2" fill="#f6f6f6" stroke="#777" stroke-width="0.3"/>
<circle cx="45.64" cy="210.4" r="1.2" fill="#f6f6f6" stroke="#777" stroke-width="0.3"/>
<circle cx="38.96" cy="210.4" r="1.2" fill="#f6f6f6" stroke="#777" stroke-width="0.3"/>
<circle cx="51.16" cy="211.46" r="1.2" fill="#f6f6f6" stroke="#777" stroke-width="0.3"/>
<circle cx="51.55" cy="214.36" r="1.2" fill="#f6f6f6" stroke="#777" stroke-width="0.3"/>
<circle cx="60.41" cy="211.46" r="1.2" fill="#f6f6f6" stroke="#777" stroke-width="0.3"/>
<circle cx="65.67" cy="211.99" r="1.2" fill="#f6f6f6" stroke="#777" stroke-width="0.3"/>
<circle cx="68.5" cy="211.46" r="1.2" fill="#f6f6f6" stroke="#777" stroke-width="0.3"/>
<circle cx="72.35" cy="209.74" r="1.2" fill="#f6f6f6" stroke="#777" stroke-width="0.3"/>
<circle cx="74.27" cy="209.35" r="1.2" fill="#f6f6f6" stroke="#777" stroke-width="0.3"/>
<circle cx="76.2" cy="211.46" r="1.2" fill="#f6f6f6" stroke="#777" stroke-width="0.3"/>
<circle cx="79.02" cy="214.63" r="1.2" fill="#f6f6f6" stroke="#777" stroke-width="0.3"/>
<circle cx="81.34" cy="217" r="1.2" fill="#f6f6f6" stroke="#777" stroke-width="0.3"/>
<circle cx="40.5" cy="215.42" r="1.2" fill="#f6f6f6" stroke="#777" stroke-width="0.3"/>
<circle cx="42.56" cy="216.74" r="1.2" fill="#f6f6f6" stroke="#777" stroke-width="0.3"/>
<circle cx="66.57" cy="218.59" r="1.2" fill="#f6f6f6" stroke="#777" stroke-width="0.3"/>
<circle cx="71.32" cy="221.23" r="1.2" fill="#f6f6f6" stroke="#777" stroke-width="0.3"/>
<circle cx="35.75" cy="219.91" r="1.2" fill="#f6f6f6" stroke="#777" stroke-width="0.3"/>
<circle cx="49.49" cy="221.23" r="1.2" fill="#f6f6f6" stroke="#777" stroke-width="0.3"/>
<circle cx="54.37" cy="222.29" r="1.2" fill="#f6f6f6" stroke="#777" stroke-width="0.3"/>
<circle cx="44.74" cy="224.27" r="1.2" fill="#f6f6f6" stroke="#777" stroke-width="0.3"/>
<circle cx="33.57" cy="225.59" r="1.2" fill="#f6f6f6" stroke="#777" stroke-width="0.3"/>
<circle cx="56.3" cy="226.91" r="1.2" fill="#f6f6f6" stroke="#777" stroke-width="0.3"/>
<circle cx="64" cy="229.15" r="1.2" fill="#f6f6f6" stroke="#777" stroke-width="0.3"/>
<circle cx="72.35" cy="230.21" r="1.2" fill="#f6f6f6" stroke="#777" stroke-width="0.3"/>
<circle cx="76.2" cy="229.94" r="1.2" fill="#f6f6f6" stroke="#777" stroke-width="0.3"/>
<circle cx="87.11" cy="230.87" r="1.2" fill="#f6f6f6" stroke="#777" stroke-width="0.3"/>
<circle cx="45.13" cy="230.87" r="1.2" fill="#f6f6f6" stroke="#777" stroke-width="0.3"/>
<circle cx="52.45" cy="230.87" r="1.2" fill="#f6f6f6" stroke="#777" stroke-width="0.3"/>
<circle cx="56.94" cy="230.87" r="1.2" fill="#f6f6f6" stroke="#777" stroke-width="0.3"/>
<circle cx="67.85" cy="232.85" r="1.2" fill="#f6f6f6" stroke="#777" stroke-width="0.3"/>
<circle cx="35.11" cy="235.49" r="1.2" fill="#f6f6f6" stroke="#777" stroke-width="0.3"/>
<circle cx="47.31" cy="235.22" r="1.2" fill="#f6f6f6" stroke="#777" stroke-width="0.3"/>
<circle cx="53.09" cy="235.22" r="1.2" fill="#f6f6f6" stroke="#777" stroke-width="0.3"/>
<circle cx="57.58" cy="235.75" r="1.2" fill="#f6f6f6" stroke="#777" stroke-width="0.3"/>
<circle cx="59.76" cy="235.22" r="1.2" fill="#f6f6f6" stroke="#777" stroke-width="0.3"/>
<circle cx="62.72" cy="236.15" r="1.2" fill="#f6f6f6" stroke="#777" stroke-width="0.3"/>
<circle cx="65.29" cy="237.07" r="1.2" fill="#f6f6f6" stroke="#777" stroke-width="0.3"/>
<circle cx="40.89" cy="239.71" r="1.2" fill="#f6f6f6" stroke="#777" stroke-width="0.3"/>
<circle cx="58.48" cy="239.18" r="1.2" fill="#f6f6f6" stroke="#777" stroke-width="0.3"/>
<circle cx="60.15" cy="240.51" r="1.2" fill="#f6f6f6" stroke="#777" stroke-width="0.3"/>
<circle cx="69.78" cy="239.71" r="1.2" fill="#f6f6f6" stroke="#777" stroke-width="0.3"/>
<circle cx="57.2" cy="242.35" r="1.2" fill="#f6f6f6" stroke="#777" stroke-width="0.3"/>
<circle cx="64.9" cy="242.75" r="1.2" fill="#f6f6f6" stroke="#777" stroke-width="0.3"/>
<circle cx="87.5" cy="238.79" r="1.2" fill="#f6f6f6" stroke="#777" stroke-width="0.3"/>
<circle cx="22.91" cy="248.69" r="1.2" fill="#f6f6f6" stroke="#777" stroke-width="0.3"/>
<circle cx="24.84" cy="250.01" r="1.2" fill="#f6f6f6" stroke="#777" stroke-width="0.3"/>
<circle cx="37.42" cy="247.11" r="1.2" fill="#f6f6f6" stroke="#777" stroke-width="0.3"/>
<circle cx="40.89" cy="247.11" r="1.2" fill="#f6f6f6" stroke="#777" stroke-width="0.3"/>
<circle cx="41.79" cy="251.07" r="1.2" fill="#f6f6f6" stroke="#777" stroke-width="0.3"/>
<circle cx="51.16" cy="247.11" r="1.2" fill="#f6f6f6" stroke="#777" stroke-width="0.3"/>
<circle cx="52.83" cy="249.35" r="1.2" fill="#f6f6f6" stroke="#777" stroke-width="0.3"/>
<circle cx="57.97" cy="248.43" r="1.2" fill="#f6f6f6" stroke="#777" stroke-width="0.3"/>
<circle cx="61.05" cy="250.01" r="1.2" fill="#f6f6f6" stroke="#777" stroke-width="0.3"/>
<circle cx="52.45" cy="251.07" r="1.2" fill="#f6f6f6" stroke="#777" stroke-width="0.3"/>
<circle cx="39.61" cy="255.03" r="1.2" fill="#f6f6f6" stroke="#777" stroke-width="0.3"/>
<circle cx="55.4" cy="255.56" r="1.2" fill="#f6f6f6" stroke="#777" stroke-width="0.3"/>
<circle cx="29.59" cy="256.35" r="1.2" fill="#f6f6f6" stroke="#777" stroke-width="0.3"/>
<circle cx="58.48" cy="259.52" r="1.2" fill="#f6f6f6" stroke="#777" stroke-width="0.3"/>
<circle cx="51.8" cy="266.12" r="1.2" fill="#f6f6f6" stroke="#777" stroke-width="0.3"/>
<circle cx="54.37" cy="269.55" r="1.2" fill="#f6f6f6" stroke="#777" stroke-width="0.3"/>
<circle cx="61.69" cy="271.4" r="1.2" fill="#f6f6f6" stroke="#777" stroke-width="0.3"/>
<circle cx="61.43" cy="202.22" r="1.2" fill="#f6f6f6" stroke="#777" stroke-width="0.3"/>
<circle cx="77.48" cy="226.25" r="1.2" fill="#f6f6f6" stroke="#777" stroke-width="0.3"/>
<circle cx="27.66" cy="231.26" r="1.2" fill="#f6f6f6" stroke="#777" stroke-width="0.3"/>
<circle cx="73.12" cy="240.11" r="1.2" fill="#f6f6f6" stroke="#777" stroke-width="0.3"/>
<circle cx="30.23" cy="249.35" r="1.2" fill="#f6f6f6" stroke="#777" stroke-width="0.3"/>
<circle cx="70.42" cy="257.27" r="1.2" fill="#f6f6f6" stroke="#777" stroke-width="0.3"/>
<circle cx="62.08" cy="199.31" r="1.2" fill="#f6f6f6" stroke="#777" stroke-width="0.3"/>
<circle cx="56.3" cy="205.78" r="1.2" fill="#f6f6f6" stroke="#777" stroke-width="0.3"/>
<circle cx="64.64" cy="208.03" r="1.2" fill="#f6f6f6" stroke="#777" stroke-width="0.3"/>
<circle cx="81.34" cy="219.91" r="1.2" fill="#f6f6f6" stroke="#777" stroke-width="0.3"/>
<circle cx="83.39" cy="222.02" r="1.2" fill="#f6f6f6" stroke="#777" stroke-width="0.3"/>
<circle cx="28.95" cy="222.55" r="1.2" fill="#f6f6f6" stroke="#777" stroke-width="0.3"/>
<circle cx="71.06" cy="225.98" r="1.2" fill="#f6f6f6" stroke="#777" stroke-width="0.3"/>
<circle cx="28.69" cy="235.22" r="1.2" fill="#f6f6f6" stroke="#777" stroke-width="0.3"/>
<circle cx="25.1" cy="238.39" r="1.2" fill="#f6f6f6" stroke="#777" stroke-width="0.3"/>
<circle cx="34.47" cy="242.35" r="1.2" fill="#f6f6f6" stroke="#777" stroke-width="0.3"/>
<circle cx="75.56" cy="236.54" r="1.2" fill="#f6f6f6" stroke="#777" stroke-width="0.3"/>
<circle cx="76.2" cy="242.35" r="1.2" fill="#f6f6f6" stroke="#777" stroke-width="0.3"/>
<circle cx="70.04" cy="244.99" r="1.2" fill="#f6f6f6" stroke="#777" stroke-width="0.3"/>
<circle cx="78" cy="245.79" r="1.2" fill="#f6f6f6" stroke="#777" stroke-width="0.3"/>
<circle cx="31" cy="253.97" r="1.2" fill="#f6f6f6" stroke="#777" stroke-width="0.3"/>
<circle cx="64" cy="260.57" r="1.2" fill="#f6f6f6" stroke="#777" stroke-width="0.3"/>
<circle cx="68.5" cy="262.82" r="1.2" fill="#f6f6f6" stroke="#777" stroke-width="0.3"/>
<rect x="54.01" y="231.85" width="2.52" height="2.52" fill="#2f9d6a" transform="rotate(45 55.27 233.11)"/>
<text x="14.5" y="25.5" font-size="11" text-anchor="start" fill="#ffffff" font-family='"Liberation Serif", serif' font-weight="normal" font-style="italic" >G</text>
<text x="21.5" y="28.5" font-size="6.5" text-anchor="start" fill="#ffffff" font-family='"Liberation Serif", serif' font-weight="normal" font-style="italic" >t−T</text>
<text x="14.5" y="200" font-size="11" text-anchor="start" fill="#ffffff" font-family='"Liberation Serif", serif' font-weight="normal" font-style="italic" >G</text>
<text x="21.5" y="203" font-size="6.5" text-anchor="start" fill="#ffffff" font-family='"Liberation Serif", serif' font-weight="normal" font-style="italic" >t</text>
<polyline points="108,15.2 329.6,15.2 329.6,36.5" stroke="#a9b0b4" stroke-width="1.1" fill="none" stroke-linejoin="miter" stroke-dasharray="2.6 2.2"/>
<polyline points="327.2,33.9 329.6,36.5 332,33.9" stroke="#a9b0b4" stroke-width="1" fill="none" stroke-linejoin="miter" />
<polyline points="108,95.2 329.6,95.2 329.6,116.3" stroke="#74c3e3" stroke-width="1.1" fill="none" stroke-linejoin="miter" stroke-dasharray="2.6 2.2"/>
<polyline points="327.2,113.7 329.6,116.3 332,113.7" stroke="#74c3e3" stroke-width="1" fill="none" stroke-linejoin="miter" />
<polyline points="108,175.3 329.6,175.3 329.6,196" stroke="#7fc8a8" stroke-width="1.1" fill="none" stroke-linejoin="miter" stroke-dasharray="2.6 2.2"/>
<polyline points="327.2,193.4 329.6,196 332,193.4" stroke="#7fc8a8" stroke-width="1" fill="none" stroke-linejoin="miter" />
<rect x="120.2" y="17.2" width="24.4" height="232.7" rx="6" fill="#fff" stroke="#6a6a6a" stroke-width="1" />
<text transform="translate(133 134) rotate(90)" x="0" y="0" dy="0.35em" font-size="11.4" text-anchor="middle" fill="#222" font-family='"Liberation Sans", sans-serif' font-weight="normal" textLength="83" lengthAdjust="spacingAndGlyphs">GAT &amp; READOUT</text>
<rect x="156.5" y="17.2" width="36.1" height="72.4" rx="6" fill="#fff" stroke="#6a6a6a" stroke-width="1" />
<rect x="273.1" y="17.2" width="36.1" height="72.4" rx="6" fill="#fff" stroke="#6a6a6a" stroke-width="1" />
<text transform="translate(181.6 53.4) rotate(90)" x="0" y="0" dy="0.35em" font-size="10.4" text-anchor="middle" fill="#222" font-family='"Liberation Sans", sans-serif' font-weight="normal">Background</text>
<text transform="translate(169 53.4) rotate(90)" x="0" y="0" dy="0.35em" font-size="10.4" text-anchor="middle" fill="#222" font-family='"Liberation Sans", sans-serif' font-weight="normal">Encoder</text>
<text transform="translate(297.6 53.4) rotate(90)" x="0" y="0" dy="0.35em" font-size="10.4" text-anchor="middle" fill="#222" font-family='"Liberation Sans", sans-serif' font-weight="normal">Background</text>
<text transform="translate(285 53.4) rotate(90)" x="0" y="0" dy="0.35em" font-size="10.4" text-anchor="middle" fill="#222" font-family='"Liberation Sans", sans-serif' font-weight="normal">Decoder</text>
<polyline points="108,56.2 119.6,56.2" stroke="#5b5b5b" stroke-width="1.2" fill="none" stroke-linejoin="miter" />
<polyline points="116.4,58.8 119.6,56.2 116.4,53.6" stroke="#5b5b5b" stroke-width="1.2" fill="none" stroke-linejoin="miter" />
<line x1="146.5" y1="50.9" x2="156.5" y2="50.9" stroke="#b9b9b9" stroke-width="1.2" />
<polyline points="148.8,48.3 145.6,50.9 148.8,53.5" stroke="#b9b9b9" stroke-width="1.2" fill="none" stroke-linejoin="miter" />
<polyline points="144.6,56.2 155.9,56.2" stroke="#5b5b5b" stroke-width="1.2" fill="none" stroke-linejoin="miter" />
<polyline points="152.7,58.8 155.9,56.2 152.7,53.6" stroke="#5b5b5b" stroke-width="1.2" fill="none" stroke-linejoin="miter" />
<rect x="208.6" y="21.4" width="48.6" height="16" rx="0" fill="#fff" stroke="#7a7a7a" stroke-width="1" />
<line x1="194" y1="26.7" x2="208.6" y2="26.7" stroke="#b9b9b9" stroke-width="1.2" />
<polyline points="196.6,24.1 193.4,26.7 196.6,29.3" stroke="#b9b9b9" stroke-width="1.2" fill="none" stroke-linejoin="miter" />
<polyline points="192.6,32.1 208,32.1" stroke="#5b5b5b" stroke-width="1.2" fill="none" stroke-linejoin="miter" />
<polyline points="204.8,34.7 208,32.1 204.8,29.5" stroke="#5b5b5b" stroke-width="1.2" fill="none" stroke-linejoin="miter" />
<line x1="257.2" y1="26.7" x2="273.1" y2="26.7" stroke="#b9b9b9" stroke-width="1.2" />
<polyline points="257.2,32.1 272.5,32.1" stroke="#5b5b5b" stroke-width="1.2" fill="none" stroke-linejoin="miter" />
<polyline points="269.3,34.7 272.5,32.1 269.3,29.5" stroke="#5b5b5b" stroke-width="1.2" fill="none" stroke-linejoin="miter" />
<text x="224.3" y="32.8" font-size="10.2" text-anchor="start" fill="#333" font-family='"Liberation Serif", serif' font-weight="normal" font-style="italic" >h</text>
<text x="229.6" y="28.2" font-size="6.5" text-anchor="start" fill="#333" font-family='"Liberation Serif", serif' font-weight="normal" font-style="italic" >b</text>
<text x="229.2" y="35.3" font-size="6.5" text-anchor="start" fill="#333" font-family='"Liberation Serif", serif' font-weight="normal" font-style="italic" textLength="12.6" lengthAdjust="spacingAndGlyphs" >t−T</text>
<rect x="208.6" y="45.6" width="48.6" height="16" rx="0" fill="#fff" stroke="#7a7a7a" stroke-width="1" />
<line x1="194" y1="50.9" x2="208.6" y2="50.9" stroke="#b9b9b9" stroke-width="1.2" />
<polyline points="196.6,48.3 193.4,50.9 196.6,53.5" stroke="#b9b9b9" stroke-width="1.2" fill="none" stroke-linejoin="miter" />
<polyline points="192.6,56.3 208,56.3" stroke="#5b5b5b" stroke-width="1.2" fill="none" stroke-linejoin="miter" />
<polyline points="204.8,58.9 208,56.3 204.8,53.7" stroke="#5b5b5b" stroke-width="1.2" fill="none" stroke-linejoin="miter" />
<line x1="257.2" y1="50.9" x2="273.1" y2="50.9" stroke="#b9b9b9" stroke-width="1.2" />
<polyline points="257.2,56.3 272.5,56.3" stroke="#5b5b5b" stroke-width="1.2" fill="none" stroke-linejoin="miter" />
<polyline points="269.3,58.9 272.5,56.3 269.3,53.7" stroke="#5b5b5b" stroke-width="1.2" fill="none" stroke-linejoin="miter" />
<text x="224.3" y="57" font-size="10.2" text-anchor="start" fill="#333" font-family='"Liberation Serif", serif' font-weight="normal" font-style="italic" >h</text>
<text x="229.6" y="52.4" font-size="6.5" text-anchor="start" fill="#333" font-family='"Liberation Serif", serif' font-weight="normal" font-style="italic" >b</text>
<text x="229.2" y="59.5" font-size="6.5" text-anchor="start" fill="#333" font-family='"Liberation Serif", serif' font-weight="normal" font-style="italic" textLength="11.8" lengthAdjust="spacingAndGlyphs" >t−2</text>
<rect x="208.6" y="69.8" width="48.6" height="16" rx="0" fill="#fff" stroke="#7a7a7a" stroke-width="1" />
<line x1="194" y1="75.1" x2="208.6" y2="75.1" stroke="#b9b9b9" stroke-width="1.2" />
<polyline points="196.6,72.5 193.4,75.1 196.6,77.7" stroke="#b9b9b9" stroke-width="1.2" fill="none" stroke-linejoin="miter" />
<polyline points="192.6,80.5 208,80.5" stroke="#5b5b5b" stroke-width="1.2" fill="none" stroke-linejoin="miter" />
<polyline points="204.8,83.1 208,80.5 204.8,77.9" stroke="#5b5b5b" stroke-width="1.2" fill="none" stroke-linejoin="miter" />
<line x1="257.2" y1="75.1" x2="273.1" y2="75.1" stroke="#b9b9b9" stroke-width="1.2" />
<polyline points="257.2,80.5 272.5,80.5" stroke="#5b5b5b" stroke-width="1.2" fill="none" stroke-linejoin="miter" />
<polyline points="269.3,83.1 272.5,80.5 269.3,77.9" stroke="#5b5b5b" stroke-width="1.2" fill="none" stroke-linejoin="miter" />
<text x="224.3" y="81.2" font-size="10.2" text-anchor="start" fill="#333" font-family='"Liberation Serif", serif' font-weight="normal" font-style="italic" >h</text>
<text x="229.6" y="76.6" font-size="6.5" text-anchor="start" fill="#333" font-family='"Liberation Serif", serif' font-weight="normal" font-style="italic" >b</text>
<text x="229.2" y="83.7" font-size="6.5" text-anchor="start" fill="#333" font-family='"Liberation Serif", serif' font-weight="normal" font-style="italic" textLength="11.8" lengthAdjust="spacingAndGlyphs" >t−1</text>
<rect x="156.5" y="97.6" width="36.1" height="71.6" rx="6" fill="#fff" stroke="#6a6a6a" stroke-width="1" />
<rect x="273.1" y="97.6" width="36.1" height="71.6" rx="6" fill="#fff" stroke="#6a6a6a" stroke-width="1" />
<text transform="translate(181.6 133.4) rotate(90)" x="0" y="0" dy="0.35em" font-size="10.4" text-anchor="middle" fill="#222" font-family='"Liberation Sans", sans-serif' font-weight="normal">Attraction</text>
<text transform="translate(169 133.4) rotate(90)" x="0" y="0" dy="0.35em" font-size="10.4" text-anchor="middle" fill="#222" font-family='"Liberation Sans", sans-serif' font-weight="normal">Encoder</text>
<text transform="translate(297.6 133.4) rotate(90)" x="0" y="0" dy="0.35em" font-size="10.4" text-anchor="middle" fill="#222" font-family='"Liberation Sans", sans-serif' font-weight="normal">Attraction</text>
<text transform="translate(285 133.4) rotate(90)" x="0" y="0" dy="0.35em" font-size="10.4" text-anchor="middle" fill="#222" font-family='"Liberation Sans", sans-serif' font-weight="normal">Decoder</text>
<polyline points="108,136.4 119.6,136.4" stroke="#3fa8da" stroke-width="1.2" fill="none" stroke-linejoin="miter" />
<polyline points="116.4,139 119.6,136.4 116.4,133.8" stroke="#3fa8da" stroke-width="1.2" fill="none" stroke-linejoin="miter" />
<line x1="146.5" y1="131.1" x2="156.5" y2="131.1" stroke="#9fd5ee" stroke-width="1.2" />
<polyline points="148.8,128.5 145.6,131.1 148.8,133.7" stroke="#9fd5ee" stroke-width="1.2" fill="none" stroke-linejoin="miter" />
<polyline points="144.6,136.4 155.9,136.4" stroke="#3fa8da" stroke-width="1.2" fill="none" stroke-linejoin="miter" />
<polyline points="152.7,139 155.9,136.4 152.7,133.8" stroke="#3fa8da" stroke-width="1.2" fill="none" stroke-linejoin="miter" />
<rect x="208.6" y="101.6" width="48.6" height="16" rx="0" fill="#fff" stroke="#7a7a7a" stroke-width="1" />
<line x1="194" y1="106.9" x2="208.6" y2="106.9" stroke="#9fd5ee" stroke-width="1.2" />
<polyline points="196.6,104.3 193.4,106.9 196.6,109.5" stroke="#9fd5ee" stroke-width="1.2" fill="none" stroke-linejoin="miter" />
<polyline points="192.6,112.3 208,112.3" stroke="#3fa8da" stroke-width="1.2" fill="none" stroke-linejoin="miter" />
<polyline points="204.8,114.9 208,112.3 204.8,109.7" stroke="#3fa8da" stroke-width="1.2" fill="none" stroke-linejoin="miter" />
<line x1="257.2" y1="106.9" x2="273.1" y2="106.9" stroke="#9fd5ee" stroke-width="1.2" />
<polyline points="257.2,112.3 272.5,112.3" stroke="#3fa8da" stroke-width="1.2" fill="none" stroke-linejoin="miter" />
<polyline points="269.3,114.9 272.5,112.3 269.3,109.7" stroke="#3fa8da" stroke-width="1.2" fill="none" stroke-linejoin="miter" />
<line x1="228.6" y1="101.6" x2="228.6" y2="117.6" stroke="#555" stroke-width="0.9" />
<text x="209.9" y="112.5" font-size="10.2" text-anchor="start" fill="#333" font-family='"Liberation Serif", serif' font-weight="normal" font-style="italic" >h</text>
<text x="215.1" y="107.6" font-size="6.5" text-anchor="start" fill="#333" font-family='"Liberation Serif", serif' font-weight="normal" font-style="normal" >p</text>
<text x="215" y="114.9" font-size="6.5" text-anchor="start" fill="#333" font-family='"Liberation Serif", serif' font-weight="normal" font-style="italic" textLength="11.7" lengthAdjust="spacingAndGlyphs" >t−T</text>
<text x="230" y="112" font-size="10" text-anchor="start" fill="#333" font-family='"Liberation Serif", serif' font-weight="normal" font-style="italic" textLength="13.2" lengthAdjust="spacingAndGlyphs" >pos</text>
<text x="244" y="107.6" font-size="6.5" text-anchor="start" fill="#333" font-family='"Liberation Serif", serif' font-weight="normal" font-style="normal" >p</text>
<text x="243.9" y="114.9" font-size="6.5" text-anchor="start" fill="#333" font-family='"Liberation Serif", serif' font-weight="normal" font-style="italic" textLength="11.4" lengthAdjust="spacingAndGlyphs" >t−T</text>
<rect x="208.6" y="125.6" width="48.6" height="16" rx="0" fill="#fff" stroke="#7a7a7a" stroke-width="1" />
<line x1="194" y1="130.9" x2="208.6" y2="130.9" stroke="#9fd5ee" stroke-width="1.2" />
<polyline points="196.6,128.3 193.4,130.9 196.6,133.5" stroke="#9fd5ee" stroke-width="1.2" fill="none" stroke-linejoin="miter" />
<polyline points="192.6,136.3 208,136.3" stroke="#3fa8da" stroke-width="1.2" fill="none" stroke-linejoin="miter" />
<polyline points="204.8,138.9 208,136.3 204.8,133.7" stroke="#3fa8da" stroke-width="1.2" fill="none" stroke-linejoin="miter" />
<line x1="257.2" y1="130.9" x2="273.1" y2="130.9" stroke="#9fd5ee" stroke-width="1.2" />
<polyline points="257.2,136.3 272.5,136.3" stroke="#3fa8da" stroke-width="1.2" fill="none" stroke-linejoin="miter" />
<polyline points="269.3,138.9 272.5,136.3 269.3,133.7" stroke="#3fa8da" stroke-width="1.2" fill="none" stroke-linejoin="miter" />
<line x1="228.6" y1="125.6" x2="228.6" y2="141.6" stroke="#555" stroke-width="0.9" />
<text x="209.9" y="136.5" font-size="10.2" text-anchor="start" fill="#333" font-family='"Liberation Serif", serif' font-weight="normal" font-style="italic" >h</text>
<text x="215.1" y="131.6" font-size="6.5" text-anchor="start" fill="#333" font-family='"Liberation Serif", serif' font-weight="normal" font-style="normal" >p</text>
<text x="215" y="138.9" font-size="6.5" text-anchor="start" fill="#333" font-family='"Liberation Serif", serif' font-weight="normal" font-style="italic" textLength="10.9" lengthAdjust="spacingAndGlyphs" >t−2</text>
<text x="230" y="136" font-size="10" text-anchor="start" fill="#333" font-family='"Liberation Serif", serif' font-weight="normal" font-style="italic" textLength="13.2" lengthAdjust="spacingAndGlyphs" >pos</text>
<text x="244" y="131.6" font-size="6.5" text-anchor="start" fill="#333" font-family='"Liberation Serif", serif' font-weight="normal" font-style="normal" >p</text>
<text x="243.9" y="138.9" font-size="6.5" text-anchor="start" fill="#333" font-family='"Liberation Serif", serif' font-weight="normal" font-style="italic" textLength="10.6" lengthAdjust="spacingAndGlyphs" >t−2</text>
<rect x="208.6" y="149.8" width="48.6" height="16" rx="0" fill="#fff" stroke="#7a7a7a" stroke-width="1" />
<line x1="194" y1="155.1" x2="208.6" y2="155.1" stroke="#9fd5ee" stroke-width="1.2" />
<polyline points="196.6,152.5 193.4,155.1 196.6,157.7" stroke="#9fd5ee" stroke-width="1.2" fill="none" stroke-linejoin="miter" />
<polyline points="192.6,160.5 208,160.5" stroke="#3fa8da" stroke-width="1.2" fill="none" stroke-linejoin="miter" />
<polyline points="204.8,163.1 208,160.5 204.8,157.9" stroke="#3fa8da" stroke-width="1.2" fill="none" stroke-linejoin="miter" />
<line x1="257.2" y1="155.1" x2="273.1" y2="155.1" stroke="#9fd5ee" stroke-width="1.2" />
<polyline points="257.2,160.5 272.5,160.5" stroke="#3fa8da" stroke-width="1.2" fill="none" stroke-linejoin="miter" />
<polyline points="269.3,163.1 272.5,160.5 269.3,157.9" stroke="#3fa8da" stroke-width="1.2" fill="none" stroke-linejoin="miter" />
<line x1="228.6" y1="149.8" x2="228.6" y2="165.8" stroke="#555" stroke-width="0.9" />
<text x="209.9" y="160.7" font-size="10.2" text-anchor="start" fill="#333" font-family='"Liberation Serif", serif' font-weight="normal" font-style="italic" >h</text>
<text x="215.1" y="155.8" font-size="6.5" text-anchor="start" fill="#333" font-family='"Liberation Serif", serif' font-weight="normal" font-style="normal" >p</text>
<text x="215" y="163.1" font-size="6.5" text-anchor="start" fill="#333" font-family='"Liberation Serif", serif' font-weight="normal" font-style="italic" textLength="10.9" lengthAdjust="spacingAndGlyphs" >t−1</text>
<text x="230" y="160.2" font-size="10" text-anchor="start" fill="#333" font-family='"Liberation Serif", serif' font-weight="normal" font-style="italic" textLength="13.2" lengthAdjust="spacingAndGlyphs" >pos</text>
<text x="244" y="155.8" font-size="6.5" text-anchor="start" fill="#333" font-family='"Liberation Serif", serif' font-weight="normal" font-style="normal" >p</text>
<text x="243.9" y="163.1" font-size="6.5" text-anchor="start" fill="#333" font-family='"Liberation Serif", serif' font-weight="normal" font-style="italic" textLength="10.6" lengthAdjust="spacingAndGlyphs" >t−1</text>
<rect x="156.5" y="177.8" width="36.1" height="72.5" rx="6" fill="#fff" stroke="#6a6a6a" stroke-width="1" />
<rect x="273.1" y="177.8" width="36.1" height="72.5" rx="6" fill="#fff" stroke="#6a6a6a" stroke-width="1" />
<text transform="translate(181.6 214.05) rotate(90)" x="0" y="0" dy="0.35em" font-size="10.4" text-anchor="middle" fill="#222" font-family='"Liberation Sans", sans-serif' font-weight="normal">Novelty</text>
<text transform="translate(169 214.05) rotate(90)" x="0" y="0" dy="0.35em" font-size="10.4" text-anchor="middle" fill="#222" font-family='"Liberation Sans", sans-serif' font-weight="normal">Encoder</text>
<text transform="translate(297.6 214.05) rotate(90)" x="0" y="0" dy="0.35em" font-size="10.4" text-anchor="middle" fill="#222" font-family='"Liberation Sans", sans-serif' font-weight="normal">Freshness</text>
<text transform="translate(285 214.05) rotate(90)" x="0" y="0" dy="0.35em" font-size="10.4" text-anchor="middle" fill="#222" font-family='"Liberation Sans", sans-serif' font-weight="normal">Decoder</text>
<polyline points="108,216.5 119.6,216.5" stroke="#46a27c" stroke-width="1.2" fill="none" stroke-linejoin="miter" />
<polyline points="116.4,219.1 119.6,216.5 116.4,213.9" stroke="#46a27c" stroke-width="1.2" fill="none" stroke-linejoin="miter" />
<line x1="146.5" y1="211.2" x2="156.5" y2="211.2" stroke="#9fd5bd" stroke-width="1.2" />
<polyline points="148.8,208.6 145.6,211.2 148.8,213.8" stroke="#9fd5bd" stroke-width="1.2" fill="none" stroke-linejoin="miter" />
<polyline points="144.6,216.5 155.9,216.5" stroke="#46a27c" stroke-width="1.2" fill="none" stroke-linejoin="miter" />
<polyline points="152.7,219.1 155.9,216.5 152.7,213.9" stroke="#46a27c" stroke-width="1.2" fill="none" stroke-linejoin="miter" />
<rect x="208.6" y="181.6" width="48.6" height="16" rx="0" fill="#fff" stroke="#7a7a7a" stroke-width="1" />
<line x1="194" y1="186.9" x2="208.6" y2="186.9" stroke="#9fd5bd" stroke-width="1.2" />
<polyline points="196.6,184.3 193.4,186.9 196.6,189.5" stroke="#9fd5bd" stroke-width="1.2" fill="none" stroke-linejoin="miter" />
<polyline points="192.6,192.3 208,192.3" stroke="#46a27c" stroke-width="1.2" fill="none" stroke-linejoin="miter" />
<polyline points="204.8,194.9 208,192.3 204.8,189.7" stroke="#46a27c" stroke-width="1.2" fill="none" stroke-linejoin="miter" />
<line x1="257.2" y1="186.9" x2="273.1" y2="186.9" stroke="#9fd5bd" stroke-width="1.2" />
<polyline points="257.2,192.3 272.5,192.3" stroke="#46a27c" stroke-width="1.2" fill="none" stroke-linejoin="miter" />
<polyline points="269.3,194.9 272.5,192.3 269.3,189.7" stroke="#46a27c" stroke-width="1.2" fill="none" stroke-linejoin="miter" />
<line x1="228.6" y1="181.6" x2="228.6" y2="197.6" stroke="#555" stroke-width="0.9" />
<text x="209.9" y="192.5" font-size="10.2" text-anchor="start" fill="#333" font-family='"Liberation Serif", serif' font-weight="normal" font-style="italic" >h</text>
<text x="215.1" y="187.6" font-size="6.5" text-anchor="start" fill="#333" font-family='"Liberation Serif", serif' font-weight="normal" font-style="normal" >s</text>
<text x="215" y="194.9" font-size="6.5" text-anchor="start" fill="#333" font-family='"Liberation Serif", serif' font-weight="normal" font-style="italic" textLength="11.7" lengthAdjust="spacingAndGlyphs" >t−T</text>
<text x="230" y="192" font-size="10" text-anchor="start" fill="#333" font-family='"Liberation Serif", serif' font-weight="normal" font-style="italic" textLength="13.2" lengthAdjust="spacingAndGlyphs" >pos</text>
<text x="244" y="187.6" font-size="6.5" text-anchor="start" fill="#333" font-family='"Liberation Serif", serif' font-weight="normal" font-style="normal" >u</text>
<text x="243.9" y="194.9" font-size="6.5" text-anchor="start" fill="#333" font-family='"Liberation Serif", serif' font-weight="normal" font-style="italic" textLength="11.4" lengthAdjust="spacingAndGlyphs" >t−T</text>
<rect x="208.6" y="205.6" width="48.6" height="16" rx="0" fill="#fff" stroke="#7a7a7a" stroke-width="1" />
<line x1="194" y1="210.9" x2="208.6" y2="210.9" stroke="#9fd5bd" stroke-width="1.2" />
<polyline points="196.6,208.3 193.4,210.9 196.6,213.5" stroke="#9fd5bd" stroke-width="1.2" fill="none" stroke-linejoin="miter" />
<polyline points="192.6,216.3 208,216.3" stroke="#46a27c" stroke-width="1.2" fill="none" stroke-linejoin="miter" />
<polyline points="204.8,218.9 208,216.3 204.8,213.7" stroke="#46a27c" stroke-width="1.2" fill="none" stroke-linejoin="miter" />
<line x1="257.2" y1="210.9" x2="273.1" y2="210.9" stroke="#9fd5bd" stroke-width="1.2" />
<polyline points="257.2,216.3 272.5,216.3" stroke="#46a27c" stroke-width="1.2" fill="none" stroke-linejoin="miter" />
<polyline points="269.3,218.9 272.5,216.3 269.3,213.7" stroke="#46a27c" stroke-width="1.2" fill="none" stroke-linejoin="miter" />
<line x1="228.6" y1="205.6" x2="228.6" y2="221.6" stroke="#555" stroke-width="0.9" />
<text x="209.9" y="216.5" font-size="10.2" text-anchor="start" fill="#333" font-family='"Liberation Serif", serif' font-weight="normal" font-style="italic" >h</text>
<text x="215.1" y="211.6" font-size="6.5" text-anchor="start" fill="#333" font-family='"Liberation Serif", serif' font-weight="normal" font-style="normal" >s</text>
<text x="215" y="218.9" font-size="6.5" text-anchor="start" fill="#333" font-family='"Liberation Serif", serif' font-weight="normal" font-style="italic" textLength="10.9" lengthAdjust="spacingAndGlyphs" >t−2</text>
<text x="230" y="216" font-size="10" text-anchor="start" fill="#333" font-family='"Liberation Serif", serif' font-weight="normal" font-style="italic" textLength="13.2" lengthAdjust="spacingAndGlyphs" >pos</text>
<text x="244" y="211.6" font-size="6.5" text-anchor="start" fill="#333" font-family='"Liberation Serif", serif' font-weight="normal" font-style="normal" >u</text>
<text x="243.9" y="218.9" font-size="6.5" text-anchor="start" fill="#333" font-family='"Liberation Serif", serif' font-weight="normal" font-style="italic" textLength="10.6" lengthAdjust="spacingAndGlyphs" >t−2</text>
<rect x="208.6" y="229.6" width="48.6" height="16" rx="0" fill="#fff" stroke="#7a7a7a" stroke-width="1" />
<line x1="194" y1="234.9" x2="208.6" y2="234.9" stroke="#9fd5bd" stroke-width="1.2" />
<polyline points="196.6,232.3 193.4,234.9 196.6,237.5" stroke="#9fd5bd" stroke-width="1.2" fill="none" stroke-linejoin="miter" />
<polyline points="192.6,240.3 208,240.3" stroke="#46a27c" stroke-width="1.2" fill="none" stroke-linejoin="miter" />
<polyline points="204.8,242.9 208,240.3 204.8,237.7" stroke="#46a27c" stroke-width="1.2" fill="none" stroke-linejoin="miter" />
<line x1="257.2" y1="234.9" x2="273.1" y2="234.9" stroke="#9fd5bd" stroke-width="1.2" />
<polyline points="257.2,240.3 272.5,240.3" stroke="#46a27c" stroke-width="1.2" fill="none" stroke-linejoin="miter" />
<polyline points="269.3,242.9 272.5,240.3 269.3,237.7" stroke="#46a27c" stroke-width="1.2" fill="none" stroke-linejoin="miter" />
<line x1="228.6" y1="229.6" x2="228.6" y2="245.6" stroke="#555" stroke-width="0.9" />
<text x="209.9" y="240.5" font-size="10.2" text-anchor="start" fill="#333" font-family='"Liberation Serif", serif' font-weight="normal" font-style="italic" >h</text>
<text x="215.1" y="235.6" font-size="6.5" text-anchor="start" fill="#333" font-family='"Liberation Serif", serif' font-weight="normal" font-style="normal" >s</text>
<text x="215" y="242.9" font-size="6.5" text-anchor="start" fill="#333" font-family='"Liberation Serif", serif' font-weight="normal" font-style="italic" textLength="10.9" lengthAdjust="spacingAndGlyphs" >t−1</text>
<text x="230" y="240" font-size="10" text-anchor="start" fill="#333" font-family='"Liberation Serif", serif' font-weight="normal" font-style="italic" textLength="13.2" lengthAdjust="spacingAndGlyphs" >pos</text>
<text x="244" y="235.6" font-size="6.5" text-anchor="start" fill="#333" font-family='"Liberation Serif", serif' font-weight="normal" font-style="normal" >u</text>
<text x="243.9" y="242.9" font-size="6.5" text-anchor="start" fill="#333" font-family='"Liberation Serif", serif' font-weight="normal" font-style="italic" textLength="10.6" lengthAdjust="spacingAndGlyphs" >t−1</text>
<text x="315.2" y="48.3" font-size="11" text-anchor="start" fill="#666" font-family='"Liberation Serif", serif' font-weight="normal" font-style="italic" >L</text>
<text x="321.6" y="48.3" font-size="11" text-anchor="start" fill="#666" font-family='"Liberation Serif", serif' font-weight="normal" font-style="normal" >(</text>
<text x="324" y="48.3" font-size="11" text-anchor="start" fill="#666" font-family='"Liberation Serif", serif' font-weight="normal" font-style="italic" textLength="9.2" lengthAdjust="spacingAndGlyphs" >V</text>
<text x="332.8" y="43.6" font-size="7" text-anchor="start" fill="#666" font-family='"Liberation Serif", serif' font-weight="normal" font-style="italic" >b</text>
<text x="333" y="51.4" font-size="7" text-anchor="start" fill="#666" font-family='"Liberation Serif", serif' font-weight="normal" font-style="italic" >t</text>
<text x="336.2" y="48.3" font-size="11" text-anchor="start" fill="#666" font-family='"Liberation Serif", serif' font-weight="normal" font-style="normal" >,</text>
<text x="341.2" y="48.3" font-size="11" text-anchor="start" fill="#666" font-family='"Liberation Serif", serif' font-weight="normal" font-style="italic" textLength="8" lengthAdjust="spacingAndGlyphs" >V</text>
<text x="344" y="42" font-size="6.5" text-anchor="start" fill="#666" font-family='"Liberation Serif", serif' font-weight="normal" font-style="normal" >^</text>
<text x="348.8" y="43.6" font-size="7" text-anchor="start" fill="#666" font-family='"Liberation Serif", serif' font-weight="normal" font-style="italic" >b</text>
<text x="349" y="51.4" font-size="7" text-anchor="start" fill="#666" font-family='"Liberation Serif", serif' font-weight="normal" font-style="italic" >t</text>
<text x="352.4" y="48.3" font-size="11" text-anchor="start" fill="#666" font-family='"Liberation Serif", serif' font-weight="normal" font-style="normal" >)</text>
<polyline points="309.2,71.2 346.6,71.2 346.6,52.2" stroke="#5b5b5b" stroke-width="1.5" fill="none" stroke-linejoin="miter" />
<polyline points="349.2,55.6 346.6,52.2 344,55.6" stroke="#5b5b5b" stroke-width="1.3" fill="none" stroke-linejoin="miter" />
<text x="315.2" y="128.3" font-size="11" text-anchor="start" fill="#3fa8da" font-family='"Liberation Serif", serif' font-weight="normal" font-style="italic" >L</text>
<text x="321.6" y="128.3" font-size="11" text-anchor="start" fill="#3fa8da" font-family='"Liberation Serif", serif' font-weight="normal" font-style="normal" >(</text>
<text x="324" y="128.3" font-size="11" text-anchor="start" fill="#3fa8da" font-family='"Liberation Serif", serif' font-weight="normal" font-style="italic" textLength="9.2" lengthAdjust="spacingAndGlyphs" >V</text>
<text x="332.8" y="123.6" font-size="7" text-anchor="start" fill="#3fa8da" font-family='"Liberation Serif", serif' font-weight="normal" font-style="italic" >p</text>
<text x="333" y="131.4" font-size="7" text-anchor="start" fill="#3fa8da" font-family='"Liberation Serif", serif' font-weight="normal" font-style="italic" >t</text>
<text x="336.2" y="128.3" font-size="11" text-anchor="start" fill="#3fa8da" font-family='"Liberation Serif", serif' font-weight="normal" font-style="normal" >,</text>
<text x="341.2" y="128.3" font-size="11" text-anchor="start" fill="#3fa8da" font-family='"Liberation Serif", serif' font-weight="normal" font-style="italic" textLength="8" lengthAdjust="spacingAndGlyphs" >V</text>
<text x="344" y="122" font-size="6.5" text-anchor="start" fill="#3fa8da" font-family='"Liberation Serif", serif' font-weight="normal" font-style="normal" >^</text>
<text x="348.8" y="123.6" font-size="7" text-anchor="start" fill="#3fa8da" font-family='"Liberation Serif", serif' font-weight="normal" font-style="italic" >p</text>
<text x="349" y="131.4" font-size="7" text-anchor="start" fill="#3fa8da" font-family='"Liberation Serif", serif' font-weight="normal" font-style="italic" >t</text>
<text x="352.4" y="128.3" font-size="11" text-anchor="start" fill="#3fa8da" font-family='"Liberation Serif", serif' font-weight="normal" font-style="normal" >)</text>
<polyline points="309.2,155.2 346.6,155.2 346.6,136" stroke="#3fa8da" stroke-width="1.5" fill="none" stroke-linejoin="miter" />
<polyline points="349.2,139.4 346.6,136 344,139.4" stroke="#3fa8da" stroke-width="1.3" fill="none" stroke-linejoin="miter" />
<text x="315.2" y="208.3" font-size="11" text-anchor="start" fill="#46a27c" font-family='"Liberation Serif", serif' font-weight="normal" font-style="italic" >L</text>
<text x="321.6" y="208.3" font-size="11" text-anchor="start" fill="#46a27c" font-family='"Liberation Serif", serif' font-weight="normal" font-style="normal" >(</text>
<text x="324" y="208.3" font-size="11" text-anchor="start" fill="#46a27c" font-family='"Liberation Serif", serif' font-weight="normal" font-style="italic" textLength="9.2" lengthAdjust="spacingAndGlyphs" >V</text>
<text x="332.8" y="203.6" font-size="7" text-anchor="start" fill="#46a27c" font-family='"Liberation Serif", serif' font-weight="normal" font-style="italic" >u</text>
<text x="333" y="211.4" font-size="7" text-anchor="start" fill="#46a27c" font-family='"Liberation Serif", serif' font-weight="normal" font-style="italic" >t</text>
<text x="336.2" y="208.3" font-size="11" text-anchor="start" fill="#46a27c" font-family='"Liberation Serif", serif' font-weight="normal" font-style="normal" >,</text>
<text x="341.2" y="208.3" font-size="11" text-anchor="start" fill="#46a27c" font-family='"Liberation Serif", serif' font-weight="normal" font-style="italic" textLength="8" lengthAdjust="spacingAndGlyphs" >V</text>
<text x="344" y="202" font-size="6.5" text-anchor="start" fill="#46a27c" font-family='"Liberation Serif", serif' font-weight="normal" font-style="normal" >^</text>
<text x="348.8" y="203.6" font-size="7" text-anchor="start" fill="#46a27c" font-family='"Liberation Serif", serif' font-weight="normal" font-style="italic" >u</text>
<text x="349" y="211.4" font-size="7" text-anchor="start" fill="#46a27c" font-family='"Liberation Serif", serif' font-weight="normal" font-style="italic" >t</text>
<text x="352.4" y="208.3" font-size="11" text-anchor="start" fill="#46a27c" font-family='"Liberation Serif", serif' font-weight="normal" font-style="normal" >)</text>
<polyline points="309.2,231 346.6,231 346.6,212" stroke="#46a27c" stroke-width="1.5" fill="none" stroke-linejoin="miter" />
<polyline points="349.2,215.4 346.6,212 344,215.4" stroke="#46a27c" stroke-width="1.3" fill="none" stroke-linejoin="miter" />
<rect x="377.4" y="13.3" width="64.1" height="266.8" rx="7" fill="#fff" stroke="#555" stroke-width="1.1" />
<text transform="translate(432.7 146.5) rotate(90)" x="0" y="0" dy="0.35em" font-size="10.6" text-anchor="middle" fill="#111" font-family='"Liberation Sans", sans-serif' font-weight="bold" textLength="107" lengthAdjust="spacingAndGlyphs">BLV-in-the-loop Adapter</text>
<rect x="384.9" y="31.9" width="37.1" height="73" rx="5" fill="#5ab5de" stroke="none" stroke-width="1" />
<rect x="383.3" y="30.1" width="37" height="73" rx="5" fill="#fff" stroke="#5ab5de" stroke-width="1" />
<text transform="translate(407.6 66.6) rotate(90)" x="0" y="0" dy="0.35em" font-size="10.4" text-anchor="middle" fill="#222" font-family='"Liberation Sans", sans-serif' font-weight="normal">Aesthetics</text>
<text transform="translate(395 66.6) rotate(90)" x="0" y="0" dy="0.35em" font-size="10.4" text-anchor="middle" fill="#222" font-family='"Liberation Sans", sans-serif' font-weight="normal">Estimator</text>
<rect x="384.9" y="112.3" width="37.1" height="72.5" rx="5" fill="#4ea582" stroke="none" stroke-width="1" />
<rect x="383.3" y="110.5" width="37" height="72.5" rx="5" fill="#fff" stroke="#4ea582" stroke-width="1" />
<text transform="translate(407.6 146.75) rotate(90)" x="0" y="0" dy="0.35em" font-size="10.4" text-anchor="middle" fill="#222" font-family='"Liberation Sans", sans-serif' font-weight="normal">Freshness</text>
<text transform="translate(395 146.75) rotate(90)" x="0" y="0" dy="0.35em" font-size="10.4" text-anchor="middle" fill="#222" font-family='"Liberation Sans", sans-serif' font-weight="normal">Estimator</text>
<rect x="384.9" y="192.8" width="37.1" height="72.4" rx="5" fill="#4b6594" stroke="none" stroke-width="1" />
<rect x="383.3" y="191" width="37" height="72.4" rx="5" fill="#fff" stroke="#4b6594" stroke-width="1" />
<text transform="translate(407.6 227.2) rotate(90)" x="0" y="0" dy="0.35em" font-size="10.4" text-anchor="middle" fill="#222" font-family='"Liberation Sans", sans-serif' font-weight="normal">Needs</text>
<text transform="translate(395 227.2) rotate(90)" x="0" y="0" dy="0.35em" font-size="10.4" text-anchor="middle" fill="#222" font-family='"Liberation Sans", sans-serif' font-weight="normal">Estimator</text>
<polyline points="355.5,41.6 366.5,41.6 366.5,49.6" stroke="#5b5b5b" stroke-width="1.5" fill="none" stroke-linejoin="miter" />
<polyline points="355.5,121.5 366.5,121.5 366.5,112.3" stroke="#3fa8da" stroke-width="1.5" fill="none" stroke-linejoin="miter" />
<polyline points="355.5,201.6 366.3,201.6 366.3,193.6" stroke="#46a27c" stroke-width="1.5" fill="none" stroke-linejoin="miter" />
<polyline points="366.5,64.8 366.5,73.2" stroke="#5b5b5b" stroke-width="1.5" fill="none" stroke-linejoin="miter" />
<polyline points="363.9,70.2 366.5,73.2 369.1,70.2" stroke="#5b5b5b" stroke-width="1.3" fill="none" stroke-linejoin="miter" />
<polyline points="366.5,97.1 366.5,88.7" stroke="#3fa8da" stroke-width="1.5" fill="none" stroke-linejoin="miter" />
<polyline points="369.1,91.7 366.5,88.7 363.9,91.7" stroke="#3fa8da" stroke-width="1.3" fill="none" stroke-linejoin="miter" />
<polyline points="374.1,81 382.6,81" stroke="#3fa8da" stroke-width="1.3" fill="none" stroke-linejoin="miter" />
<polyline points="379.6,83.6 382.6,81 379.6,78.4" stroke="#3fa8da" stroke-width="1.3" fill="none" stroke-linejoin="miter" />
<polyline points="366.3,178.4 366.3,169.4 382.6,169.4" stroke="#46a27c" stroke-width="1.5" fill="none" stroke-linejoin="miter" />
<polyline points="379.6,172 382.6,169.4 379.6,166.8" stroke="#46a27c" stroke-width="1.3" fill="none" stroke-linejoin="miter" />
<polyline points="366,243.4 366,234 382.6,234" stroke="#3c5b8d" stroke-width="1.5" fill="none" stroke-linejoin="miter" />
<polyline points="379.6,236.6 382.6,234 379.6,231.4" stroke="#3c5b8d" stroke-width="1.3" fill="none" stroke-linejoin="miter" />
<polyline points="309.3,265.7 366,265.7 366,258.6" stroke="#3c5b8d" stroke-width="1.5" fill="none" stroke-linejoin="miter" />
<line x1="108" y1="266.4" x2="156.7" y2="266.4" stroke="#3c5b8d" stroke-width="1.3" />
<circle cx="366.5" cy="57.2" r="7.7" fill="#fff"/>
<path d="M370.92,50.89 A7.7,7.7 0 0 1 363.25,64.18" stroke="#333" stroke-width="1.1" fill="none"/>
<text x="360.6" y="60.6" font-size="12" text-anchor="start" fill="#111" font-family='"Liberation Serif", serif' font-weight="normal" font-style="italic" stroke="#111" stroke-width="0.35">S</text>
<text x="367.1" y="62.2" font-size="7.4" text-anchor="start" fill="#111" font-family='"Liberation Serif", serif' font-weight="normal" font-style="italic" >b</text>
<circle cx="366.5" cy="81" r="7.7" fill="#fff"/>
<path d="M370.92,74.69 A7.7,7.7 0 0 1 363.25,87.98" stroke="#3fa8da" stroke-width="1.1" fill="none"/>
<text x="360.6" y="84.4" font-size="12" text-anchor="start" fill="#3fa8da" font-family='"Liberation Serif", serif' font-weight="normal" font-style="italic" >S</text>
<text x="367.1" y="86" font-size="7.4" text-anchor="start" fill="#3fa8da" font-family='"Liberation Serif", serif' font-weight="normal" font-style="italic" >A</text>
<circle cx="366.5" cy="104.7" r="7.7" fill="#fff"/>
<path d="M370.92,98.39 A7.7,7.7 0 0 1 363.25,111.68" stroke="#3fa8da" stroke-width="1.1" fill="none"/>
<text x="360.6" y="108.1" font-size="12" text-anchor="start" fill="#3fa8da" font-family='"Liberation Serif", serif' font-weight="normal" font-style="italic" >S</text>
<text x="367.1" y="109.7" font-size="7.4" text-anchor="start" fill="#3fa8da" font-family='"Liberation Serif", serif' font-weight="normal" font-style="italic" >a</text>
<circle cx="366.3" cy="186" r="7.7" fill="#fff"/>
<path d="M370.72,179.69 A7.7,7.7 0 0 1 363.05,192.98" stroke="#46a27c" stroke-width="1.1" fill="none"/>
<text x="360.4" y="189.4" font-size="12" text-anchor="start" fill="#46a27c" font-family='"Liberation Serif", serif' font-weight="normal" font-style="italic" >S</text>
<text x="366.9" y="191" font-size="7.4" text-anchor="start" fill="#46a27c" font-family='"Liberation Serif", serif' font-weight="normal" font-style="italic" >F</text>
<circle cx="366" cy="251" r="7.7" fill="#fff"/>
<path d="M370.42,244.69 A7.7,7.7 0 0 1 362.75,257.98" stroke="#3c5b8d" stroke-width="1.1" fill="none"/>
<text x="360.1" y="254.4" font-size="12" text-anchor="start" fill="#3c5b8d" font-family='"Liberation Serif", serif' font-weight="normal" font-style="italic" >S</text>
<text x="366.6" y="256" font-size="7.4" text-anchor="start" fill="#3c5b8d" font-family='"Liberation Serif", serif' font-weight="normal" font-style="italic" >N</text>
<rect x="156.7" y="256.5" width="152.6" height="19.8" rx="6" fill="#fff" stroke="#6a6a6a" stroke-width="1" />
<text x="232.9" y="270.3" font-size="11.5" text-anchor="middle" fill="#222" font-family='"Liberation Sans", sans-serif' font-weight="normal" font-style="normal" textLength="52.8" lengthAdjust="spacingAndGlyphs" >BLV Needs</text>
<polyline points="441.5,142.9 457.2,142.9" stroke="#222" stroke-width="1.2" fill="none" stroke-linejoin="miter" />
<polyline points="453.8,145.7 457.2,142.9 453.8,140.1" stroke="#222" stroke-width="1.2" fill="none" stroke-linejoin="miter" />
<rect x="451.3" y="13.4" width="56.5" height="75.2" rx="6" fill="#fff" stroke="#444" stroke-width="1" />
<polygon points="479.6,43.9 469.4,52.2 495.1,54.3" stroke="#e0508a" stroke-width="0.4" fill="#ee6aa0" />
<polyline points="479.6,45.7 479.6,26.1" stroke="#222" stroke-width="0.9" fill="none" stroke-linejoin="miter" />
<polyline points="482,28.7 479.6,26.1 477.2,28.7" stroke="#222" stroke-width="0.9" fill="none" stroke-linejoin="miter" />
<polyline points="479.6,45.7 462,56" stroke="#222" stroke-width="0.9" fill="none" stroke-linejoin="miter" />
<polyline points="463.03,52.62 462,56 465.46,56.76" stroke="#222" stroke-width="0.9" fill="none" stroke-linejoin="miter" />
<polyline points="479.6,45.7 497.2,56" stroke="#222" stroke-width="0.9" fill="none" stroke-linejoin="miter" />
<polyline points="493.74,56.76 497.2,56 496.17,52.62" stroke="#222" stroke-width="0.9" fill="none" stroke-linejoin="miter" />
<text x="479.6" y="23" font-size="6.5" text-anchor="middle" fill="#222" font-family='"Liberation Sans", sans-serif' font-weight="normal" font-style="normal" textLength="29.8" lengthAdjust="spacingAndGlyphs" >Aesthetics</text>
<text x="479.6" y="65.1" font-size="6.6" text-anchor="middle" fill="#222" font-family='"Liberation Sans", sans-serif' font-weight="normal" font-style="normal" textLength="52.6" lengthAdjust="spacingAndGlyphs" >Freshness Needs</text>
<text x="479.6" y="79.6" font-size="7.9" text-anchor="middle" fill="#222" font-family='"Liberation Sans", sans-serif' font-weight="normal" font-style="normal" textLength="51.3" lengthAdjust="spacingAndGlyphs" >L(bench)=0.62</text>
<rect x="513.3" y="13.4" width="56.5" height="75.2" rx="6" fill="#fff" stroke="#444" stroke-width="1" />
<polygon points="541.6,29.5 526.8,54.3 543.9,46.2" stroke="#e0508a" stroke-width="0.4" fill="#ee6aa0" />
<polyline points="541.6,45.7 541.6,26.1" stroke="#222" stroke-width="0.9" fill="none" stroke-linejoin="miter" />
<polyline points="544,28.7 541.6,26.1 539.2,28.7" stroke="#222" stroke-width="0.9" fill="none" stroke-linejoin="miter" />
<polyline points="541.6,45.7 524,56" stroke="#222" stroke-width="0.9" fill="none" stroke-linejoin="miter" />
<polyline points="525.03,52.62 524,56 527.46,56.76" stroke="#222" stroke-width="0.9" fill="none" stroke-linejoin="miter" />
<polyline points="541.6,45.7 559.2,56" stroke="#222" stroke-width="0.9" fill="none" stroke-linejoin="miter" />
<polyline points="555.74,56.76 559.2,56 558.17,52.62" stroke="#222" stroke-width="0.9" fill="none" stroke-linejoin="miter" />
<text x="541.6" y="23" font-size="6.5" text-anchor="middle" fill="#222" font-family='"Liberation Sans", sans-serif' font-weight="normal" font-style="normal" textLength="29.8" lengthAdjust="spacingAndGlyphs" >Aesthetics</text>
<text x="541.6" y="65.1" font-size="6.6" text-anchor="middle" fill="#222" font-family='"Liberation Sans", sans-serif' font-weight="normal" font-style="normal" textLength="52.6" lengthAdjust="spacingAndGlyphs" >Freshness Needs</text>
<text x="541.6" y="79.6" font-size="7.9" text-anchor="middle" fill="#222" font-family='"Liberation Sans", sans-serif' font-weight="normal" font-style="normal" textLength="51.3" lengthAdjust="spacingAndGlyphs" >L(lake)=0.83</text>
<rect x="451.3" y="205.7" width="56.5" height="75.2" rx="6" fill="#fff" stroke="#444" stroke-width="1" />
<polygon points="479.6,223.5 469.6,243.2 480.9,238.2" stroke="#e0508a" stroke-width="0.4" fill="#ee6aa0" />
<polyline points="479.6,238 479.6,218.4" stroke="#222" stroke-width="0.9" fill="none" stroke-linejoin="miter" />
<polyline points="482,221 479.6,218.4 477.2,221" stroke="#222" stroke-width="0.9" fill="none" stroke-linejoin="miter" />
<polyline points="479.6,238 462,248.3" stroke="#222" stroke-width="0.9" fill="none" stroke-linejoin="miter" />
<polyline points="463.03,244.92 462,248.3 465.46,249.06" stroke="#222" stroke-width="0.9" fill="none" stroke-linejoin="miter" />
<polyline points="479.6,238 497.2,248.3" stroke="#222" stroke-width="0.9" fill="none" stroke-linejoin="miter" />
<polyline points="493.74,249.06 497.2,248.3 496.17,244.92" stroke="#222" stroke-width="0.9" fill="none" stroke-linejoin="miter" />
<text x="479.6" y="215.3" font-size="6.5" text-anchor="middle" fill="#222" font-family='"Liberation Sans", sans-serif' font-weight="normal" font-style="normal" textLength="29.8" lengthAdjust="spacingAndGlyphs" >Aesthetics</text>
<text x="479.6" y="257.4" font-size="6.6" text-anchor="middle" fill="#222" font-family='"Liberation Sans", sans-serif' font-weight="normal" font-style="normal" textLength="52.6" lengthAdjust="spacingAndGlyphs" >Freshness Needs</text>
<text x="479.6" y="271.9" font-size="7.9" text-anchor="middle" fill="#222" font-family='"Liberation Sans", sans-serif' font-weight="normal" font-style="normal" textLength="51.3" lengthAdjust="spacingAndGlyphs" >L(flower)=0.90</text>
<rect x="513.3" y="205.7" width="56.5" height="75.2" rx="6" fill="#fff" stroke="#444" stroke-width="1" />
<polygon points="541.6,235.5 538.1,239.8 545.8,240.6" stroke="#e0508a" stroke-width="0.4" fill="#ee6aa0" />
<polyline points="541.6,238 541.6,218.4" stroke="#222" stroke-width="0.9" fill="none" stroke-linejoin="miter" />
<polyline points="544,221 541.6,218.4 539.2,221" stroke="#222" stroke-width="0.9" fill="none" stroke-linejoin="miter" />
<polyline points="541.6,238 524,248.3" stroke="#222" stroke-width="0.9" fill="none" stroke-linejoin="miter" />
<polyline points="525.03,244.92 524,248.3 527.46,249.06" stroke="#222" stroke-width="0.9" fill="none" stroke-linejoin="miter" />
<polyline points="541.6,238 559.2,248.3" stroke="#222" stroke-width="0.9" fill="none" stroke-linejoin="miter" />
<polyline points="555.74,249.06 559.2,248.3 558.17,244.92" stroke="#222" stroke-width="0.9" fill="none" stroke-linejoin="miter" />
<text x="541.6" y="215.3" font-size="6.5" text-anchor="middle" fill="#222" font-family='"Liberation Sans", sans-serif' font-weight="normal" font-style="normal" textLength="29.8" lengthAdjust="spacingAndGlyphs" >Aesthetics</text>
<text x="541.6" y="257.4" font-size="6.6" text-anchor="middle" fill="#222" font-family='"Liberation Sans", sans-serif' font-weight="normal" font-style="normal" textLength="52.6" lengthAdjust="spacingAndGlyphs" >Freshness Needs</text>
<text x="541.6" y="271.9" font-size="7.9" text-anchor="middle" fill="#222" font-family='"Liberation Sans", sans-serif' font-weight="normal" font-style="normal" textLength="51.3" lengthAdjust="spacingAndGlyphs" >L(tree)=0.12</text>
<g clip-path="url(#phg)">
<rect x="458" y="91.1" width="105" height="104.5" rx="0" fill="#a4cbe8" stroke="none" stroke-width="1" />
<g filter="url(#phgb)">
<ellipse cx="466.4" cy="96.32" rx="14.7" ry="10.45" fill="#c3dbee" opacity="1" transform="rotate(0 466.4 96.32)"/>
<ellipse cx="479" cy="193.51" rx="29.4" ry="12.54" fill="#e6eef2" opacity="1" transform="rotate(0 479 193.51)"/>
<ellipse cx="552.5" cy="187.24" rx="16.8" ry="12.54" fill="#c9d8d8" opacity="1" transform="rotate(0 552.5 187.24)"/>
<ellipse cx="542" cy="96.32" rx="29.4" ry="5.23" fill="#5d7f5a" opacity="1" transform="rotate(22 542 96.32)"/>
<ellipse cx="557.75" cy="112" rx="23.1" ry="6.27" fill="#557552" opacity="1" transform="rotate(40 557.75 112)"/>
<ellipse cx="559.85" cy="138.12" rx="10.5" ry="22.99" fill="#4e6f48" opacity="1" transform="rotate(0 559.85 138.12)"/>
<ellipse cx="555.65" cy="174.7" rx="18.9" ry="8.36" fill="#86a38a" opacity="1" transform="rotate(-35 555.65 174.7)"/>
<ellipse cx="463.25" cy="166.34" rx="10.5" ry="22.99" fill="#628f4c" opacity="1" transform="rotate(0 463.25 166.34)"/>
<ellipse cx="489.5" cy="192.46" rx="12.6" ry="6.27" fill="#7a9a70" opacity="1" transform="rotate(0 489.5 192.46)"/>
<circle cx="510.5" cy="143.35" r="48.3" fill="#65894c"/>
<ellipse cx="502.1" cy="103.64" rx="25.2" ry="10.45" fill="#7aa058" opacity="1" transform="rotate(0 502.1 103.64)"/>
<ellipse cx="464.3" cy="114.09" rx="10.5" ry="20.9" fill="#a4cbe8" opacity="1" transform="rotate(0 464.3 114.09)"/>
<ellipse cx="547.25" cy="99.46" rx="12.6" ry="6.27" fill="#9cc2de" opacity="1" transform="rotate(0 547.25 99.46)"/>
<ellipse cx="472.7" cy="138.12" rx="8.4" ry="20.9" fill="#6d9850" opacity="1" transform="rotate(0 472.7 138.12)"/>
<ellipse cx="510.5" cy="185.15" rx="31.5" ry="8.36" fill="#3e5a30" opacity="1" transform="rotate(0 510.5 185.15)"/>
<ellipse cx="548.3" cy="153.8" rx="8.4" ry="20.9" fill="#4c6e3e" opacity="1" transform="rotate(0 548.3 153.8)"/>
</g>
<g filter="url(#phgd)" opacity="0.75">
<line x1="532.75" y1="103.22" x2="547.8" y2="101.47" stroke="#c9dbe6" stroke-width="1.32"/>
<line x1="465.92" y1="161.15" x2="460.27" y2="154" stroke="#9fbf86" stroke-width="0.86"/>
<line x1="457.29" y1="154.73" x2="445.74" y2="140.12" stroke="#6f9058" stroke-width="0.84"/>
<line x1="475.18" y1="178.06" x2="462.72" y2="170.39" stroke="#9fbf86" stroke-width="1.16"/>
<line x1="550.83" y1="173.76" x2="543.95" y2="183.98" stroke="#c9dbe6" stroke-width="1.33"/>
<line x1="565.35" y1="140.37" x2="576.22" y2="153.68" stroke="#9fbf86" stroke-width="1.72"/>
<line x1="558.9" y1="118.59" x2="564.35" y2="125.32" stroke="#3d5a35" stroke-width="1.09"/>
<line x1="461.8" y1="187.15" x2="443.78" y2="178.63" stroke="#3d5a35" stroke-width="0.82"/>
<line x1="465.83" y1="167.32" x2="455.2" y2="149.92" stroke="#6f9058" stroke-width="0.82"/>
<line x1="530.55" y1="102.62" x2="542.69" y2="105.22" stroke="#6f9058" stroke-width="1.42"/>
<line x1="518.58" y1="189.28" x2="500.63" y2="193.5" stroke="#3d5a35" stroke-width="1.13"/>
<line x1="525.76" y1="199.06" x2="515.34" y2="211.11" stroke="#4b6b40" stroke-width="0.74"/>
<line x1="523.69" y1="97.54" x2="541.77" y2="90.48" stroke="#9fbf86" stroke-width="1.11"/>
<line x1="549.06" y1="195.71" x2="543.5" y2="203.8" stroke="#3d5a35" stroke-width="1.72"/>
<line x1="455.97" y1="166.48" x2="441.35" y2="154.65" stroke="#6f9058" stroke-width="1.25"/>
<line x1="526.52" y1="195.31" x2="508.91" y2="204.56" stroke="#9fbf86" stroke-width="1.04"/>
<line x1="549.5" y1="96.34" x2="567.91" y2="103.7" stroke="#c9dbe6" stroke-width="1.5"/>
<line x1="459.78" y1="190.98" x2="446.9" y2="176.88" stroke="#6f9058" stroke-width="1.55"/>
<line x1="554.59" y1="111.94" x2="562.17" y2="116.33" stroke="#4b6b40" stroke-width="1.52"/>
<line x1="540.54" y1="108.13" x2="558.44" y2="113.14" stroke="#c9dbe6" stroke-width="1.68"/>
<line x1="458.95" y1="159.25" x2="448.89" y2="142.34" stroke="#4b6b40" stroke-width="1.22"/>
<line x1="473.56" y1="196.11" x2="457.77" y2="187.82" stroke="#3d5a35" stroke-width="1.62"/>
<line x1="482.55" y1="186.29" x2="465.25" y2="182.29" stroke="#4b6b40" stroke-width="1.46"/>
<line x1="481.25" y1="190.71" x2="462.44" y2="191.04" stroke="#3d5a35" stroke-width="1.39"/>
<line x1="453.2" y1="199.3" x2="440.61" y2="191.12" stroke="#6f9058" stroke-width="1.17"/>
<line x1="460.68" y1="163.88" x2="448.36" y2="154.05" stroke="#c9dbe6" stroke-width="1.28"/>
<line x1="559.55" y1="92.88" x2="572.07" y2="103.94" stroke="#9fbf86" stroke-width="1.16"/>
<line x1="563.93" y1="143.54" x2="566.49" y2="151.75" stroke="#3d5a35" stroke-width="1.51"/>
<line x1="457.21" y1="180.92" x2="448.65" y2="177.64" stroke="#9fbf86" stroke-width="1.27"/>
<line x1="541.08" y1="175.13" x2="539.19" y2="185.73" stroke="#4b6b40" stroke-width="1.5"/>
<line x1="563.66" y1="136.83" x2="569.98" y2="150.2" stroke="#c9dbe6" stroke-width="1.19"/>
<line x1="552.46" y1="186.63" x2="547.68" y2="201.26" stroke="#6f9058" stroke-width="1.57"/>
<line x1="522.95" y1="99.86" x2="533.72" y2="96.03" stroke="#4b6b40" stroke-width="0.95"/>
<line x1="531.65" y1="99.94" x2="546.59" y2="106.91" stroke="#c9dbe6" stroke-width="0.88"/>
<line x1="541.33" y1="199.66" x2="534.53" y2="211.65" stroke="#9fbf86" stroke-width="1.14"/>
<line x1="464.28" y1="166.23" x2="451.76" y2="154.41" stroke="#3d5a35" stroke-width="1.07"/>
<line x1="483.78" y1="189.77" x2="475.39" y2="184.88" stroke="#c9dbe6" stroke-width="1.01"/>
<line x1="563.31" y1="106.74" x2="575.69" y2="121.22" stroke="#c9dbe6" stroke-width="1.14"/>
<line x1="453.28" y1="153.2" x2="443.44" y2="140.57" stroke="#6f9058" stroke-width="0.81"/>
<line x1="470.17" y1="196.99" x2="460.27" y2="195.41" stroke="#9fbf86" stroke-width="1.44"/>
<line x1="458.46" y1="197.28" x2="445.47" y2="189.63" stroke="#6f9058" stroke-width="1.03"/>
<line x1="453.32" y1="161.66" x2="438.76" y2="151.76" stroke="#9fbf86" stroke-width="1.71"/>
<line x1="544.41" y1="188.03" x2="539.39" y2="197.9" stroke="#6f9058" stroke-width="1.08"/>
<line x1="559.45" y1="167.11" x2="558.6" y2="179.8" stroke="#4b6b40" stroke-width="1.57"/>
<line x1="538.36" y1="92.24" x2="553.07" y2="93.61" stroke="#c9dbe6" stroke-width="1.33"/>
<line x1="461.22" y1="148.76" x2="454.93" y2="137.97" stroke="#9fbf86" stroke-width="1.06"/>
<line x1="458.51" y1="166.1" x2="448.32" y2="159.95" stroke="#6f9058" stroke-width="0.99"/>
<line x1="556.5" y1="96.32" x2="571.98" y2="99.47" stroke="#3d5a35" stroke-width="0.76"/>
</g>
<g filter="url(#phgd)">
<ellipse cx="499.51" cy="92.96" rx="1.96" ry="1.89" fill="#a5c585" opacity="0.6"/>
<ellipse cx="472.46" cy="144.73" rx="0.9" ry="2.06" fill="#8fb46c" opacity="0.6"/>
<ellipse cx="546.29" cy="114.61" rx="2.18" ry="1.94" fill="#8fb46c" opacity="0.6"/>
<ellipse cx="464.8" cy="122.48" rx="2.05" ry="1.69" fill="#9dbd7a" opacity="0.6"/>
<ellipse cx="547.46" cy="114.01" rx="0.97" ry="0.9" fill="#2f4826" opacity="0.6"/>
<ellipse cx="475.55" cy="102.82" rx="2.07" ry="1.65" fill="#a5c585" opacity="0.6"/>
<ellipse cx="478.57" cy="110.44" rx="1.56" ry="0.84" fill="#2f4826" opacity="0.6"/>
<ellipse cx="524.9" cy="96.96" rx="1.81" ry="0.93" fill="#3f6030" opacity="0.6"/>
<ellipse cx="507.41" cy="106.33" rx="2.08" ry="1.18" fill="#3f6030" opacity="0.6"/>
<ellipse cx="511.99" cy="106.73" rx="1.57" ry="1.4" fill="#35502a" opacity="0.6"/>
<ellipse cx="463.62" cy="149.54" rx="1.75" ry="1.78" fill="#9dbd7a" opacity="0.6"/>
<ellipse cx="541.35" cy="159.6" rx="1.8" ry="1.85" fill="#b8d496" opacity="0.6"/>
<ellipse cx="485.46" cy="119.61" rx="0.93" ry="1.23" fill="#35502a" opacity="0.6"/>
<ellipse cx="488.15" cy="101.65" rx="1.27" ry="1.59" fill="#35502a" opacity="0.6"/>
<ellipse cx="469.27" cy="152.61" rx="2.3" ry="1.64" fill="#3f6030" opacity="0.6"/>
<ellipse cx="497.85" cy="174.2" rx="0.87" ry="1.51" fill="#35502a" opacity="0.6"/>
<ellipse cx="533.4" cy="94.83" rx="2.3" ry="1.4" fill="#35502a" opacity="0.6"/>
<ellipse cx="556.38" cy="116.95" rx="1.69" ry="1.04" fill="#3f6030" opacity="0.6"/>
<ellipse cx="457.6" cy="135.33" rx="1.73" ry="1.76" fill="#8fb46c" opacity="0.6"/>
<ellipse cx="504.2" cy="176.71" rx="1.18" ry="2.15" fill="#4f7a3a" opacity="0.6"/>
<ellipse cx="478.55" cy="146.13" rx="2.24" ry="1.83" fill="#9dbd7a" opacity="0.6"/>
<ellipse cx="470.48" cy="170.26" rx="1.35" ry="1.3" fill="#a5c585" opacity="0.6"/>
<ellipse cx="527.44" cy="116.87" rx="2.07" ry="1.01" fill="#4f7a3a" opacity="0.6"/>
<ellipse cx="553.43" cy="122.05" rx="1.21" ry="0.93" fill="#b8d496" opacity="0.6"/>
<ellipse cx="470.71" cy="176.04" rx="1.37" ry="1.46" fill="#3f6030" opacity="0.6"/>
<ellipse cx="505.37" cy="175.41" rx="0.92" ry="1.8" fill="#3f6030" opacity="0.6"/>
<ellipse cx="487.39" cy="117.27" rx="1.48" ry="1.3" fill="#b8d496" opacity="0.6"/>
<ellipse cx="517.7" cy="94.47" rx="2.14" ry="2.02" fill="#a5c585" opacity="0.6"/>
<ellipse cx="474.71" cy="104.99" rx="1.9" ry="0.91" fill="#2f4826" opacity="0.6"/>
<ellipse cx="505.86" cy="101.89" rx="1.79" ry="1.25" fill="#8fb46c" opacity="0.6"/>
<ellipse cx="560.92" cy="159.3" rx="1.09" ry="1.44" fill="#8fb46c" opacity="0.6"/>
<ellipse cx="503.09" cy="179.84" rx="1.44" ry="1.19" fill="#b8d496" opacity="0.6"/>
<ellipse cx="463.81" cy="148.28" rx="1.09" ry="1.07" fill="#3f6030" opacity="0.6"/>
<ellipse cx="524.22" cy="193.71" rx="1.65" ry="1.5" fill="#35502a" opacity="0.6"/>
<ellipse cx="486.11" cy="185.69" rx="1.05" ry="1.12" fill="#a5c585" opacity="0.6"/>
<ellipse cx="543.67" cy="164.51" rx="1.31" ry="1.37" fill="#3f6030" opacity="0.6"/>
<ellipse cx="523.68" cy="109.83" rx="1.94" ry="1.44" fill="#9dbd7a" opacity="0.6"/>
<ellipse cx="473.12" cy="165.7" rx="1.24" ry="1.94" fill="#a5c585" opacity="0.6"/>
<ellipse cx="465.74" cy="143.87" rx="1.03" ry="1.57" fill="#4f7a3a" opacity="0.6"/>
<ellipse cx="475.2" cy="106.12" rx="0.98" ry="2.15" fill="#2f4826" opacity="0.6"/>
<ellipse cx="475.77" cy="174" rx="2.24" ry="2.08" fill="#a5c585" opacity="0.6"/>
<ellipse cx="532.83" cy="120.53" rx="1.47" ry="1.95" fill="#9dbd7a" opacity="0.6"/>
<ellipse cx="528.51" cy="92.82" rx="0.84" ry="1.41" fill="#35502a" opacity="0.6"/>
<ellipse cx="555.82" cy="121.02" rx="2.27" ry="1.2" fill="#35502a" opacity="0.6"/>
<ellipse cx="537.65" cy="165.43" rx="2.22" ry="1.89" fill="#3f6030" opacity="0.6"/>
<ellipse cx="480.94" cy="104.25" rx="0.96" ry="1.97" fill="#35502a" opacity="0.6"/>
<ellipse cx="544.9" cy="143.64" rx="1.79" ry="1.28" fill="#9dbd7a" opacity="0.6"/>
<ellipse cx="536.39" cy="170.1" rx="1.87" ry="1" fill="#a5c585" opacity="0.6"/>
<ellipse cx="549.92" cy="161.92" rx="1.41" ry="1.16" fill="#2f4826" opacity="0.6"/>
<ellipse cx="484.95" cy="124.61" rx="2.3" ry="1.24" fill="#b8d496" opacity="0.6"/>
<ellipse cx="489.89" cy="189.66" rx="1.54" ry="1.18" fill="#2f4826" opacity="0.6"/>
<ellipse cx="511.49" cy="196.78" rx="0.92" ry="1.12" fill="#b8d496" opacity="0.6"/>
<ellipse cx="545.31" cy="112.75" rx="1.22" ry="1.81" fill="#3f6030" opacity="0.6"/>
<ellipse cx="543.25" cy="126.78" rx="1.86" ry="1.89" fill="#9dbd7a" opacity="0.6"/>
<ellipse cx="484.13" cy="174.15" rx="2.01" ry="1.92" fill="#9dbd7a" opacity="0.6"/>
<ellipse cx="474.28" cy="142.24" rx="1.3" ry="2.04" fill="#2f4826" opacity="0.6"/>
<ellipse cx="514.9" cy="179.53" rx="1" ry="1.75" fill="#b8d496" opacity="0.6"/>
<ellipse cx="470.29" cy="110.2" rx="1.45" ry="1.81" fill="#35502a" opacity="0.6"/>
<ellipse cx="543.59" cy="132.37" rx="0.92" ry="0.87" fill="#a5c585" opacity="0.6"/>
<ellipse cx="476.68" cy="120.12" rx="1.11" ry="1.49" fill="#9dbd7a" opacity="0.6"/>
<ellipse cx="501.34" cy="105.87" rx="2.31" ry="2.2" fill="#3f6030" opacity="0.6"/>
<ellipse cx="493.41" cy="174.64" rx="0.89" ry="1.81" fill="#35502a" opacity="0.6"/>
<ellipse cx="481.48" cy="170.95" rx="1.49" ry="1" fill="#4f7a3a" opacity="0.6"/>
<ellipse cx="539.91" cy="159.03" rx="2.24" ry="1.02" fill="#a5c585" opacity="0.6"/>
<ellipse cx="545.88" cy="135.31" rx="1.97" ry="1.29" fill="#4f7a3a" opacity="0.6"/>
<ellipse cx="521.65" cy="111.88" rx="1.13" ry="1.63" fill="#35502a" opacity="0.6"/>
<ellipse cx="473.72" cy="156.18" rx="0.88" ry="1.44" fill="#35502a" opacity="0.6"/>
<ellipse cx="529.14" cy="98.02" rx="1.39" ry="1.51" fill="#9dbd7a" opacity="0.6"/>
<ellipse cx="521.33" cy="112.4" rx="1.94" ry="2.15" fill="#2f4826" opacity="0.6"/>
<ellipse cx="490.44" cy="175.22" rx="1.23" ry="1.88" fill="#9dbd7a" opacity="0.6"/>
<ellipse cx="495.14" cy="177.8" rx="1.9" ry="1.71" fill="#9dbd7a" opacity="0.6"/>
<ellipse cx="528.78" cy="93.45" rx="0.88" ry="1.18" fill="#3f6030" opacity="0.6"/>
<ellipse cx="457.55" cy="151.63" rx="2" ry="2.17" fill="#a5c585" opacity="0.6"/>
<ellipse cx="524.19" cy="111.76" rx="1.11" ry="2.01" fill="#35502a" opacity="0.6"/>
<ellipse cx="506.85" cy="93.22" rx="1.73" ry="1.32" fill="#8fb46c" opacity="0.6"/>
<ellipse cx="493.63" cy="179.29" rx="1.59" ry="1.41" fill="#3f6030" opacity="0.6"/>
<ellipse cx="532.44" cy="177.73" rx="1.55" ry="1.63" fill="#9dbd7a" opacity="0.6"/>
<ellipse cx="532.51" cy="178.2" rx="2.29" ry="1.22" fill="#3f6030" opacity="0.6"/>
<ellipse cx="539.63" cy="160.27" rx="2.29" ry="2.26" fill="#35502a" opacity="0.6"/>
<ellipse cx="526.54" cy="173.83" rx="1.75" ry="1.82" fill="#35502a" opacity="0.6"/>
<ellipse cx="509.85" cy="92.53" rx="1.99" ry="1.27" fill="#3f6030" opacity="0.6"/>
<ellipse cx="503.58" cy="180.22" rx="1.92" ry="1.13" fill="#b8d496" opacity="0.6"/>
<ellipse cx="511.1" cy="180.34" rx="1.25" ry="2.16" fill="#8fb46c" opacity="0.6"/>
<ellipse cx="522.98" cy="173.75" rx="2.3" ry="1.58" fill="#b8d496" opacity="0.6"/>
<ellipse cx="516.36" cy="192.94" rx="2.3" ry="0.99" fill="#35502a" opacity="0.6"/>
<ellipse cx="460.71" cy="151.27" rx="2.18" ry="0.9" fill="#35502a" opacity="0.6"/>
<ellipse cx="501.22" cy="176.17" rx="1.72" ry="2.05" fill="#2f4826" opacity="0.6"/>
<ellipse cx="521.92" cy="174.41" rx="1.5" ry="1.22" fill="#8fb46c" opacity="0.6"/>
<ellipse cx="519.76" cy="91.06" rx="1.78" ry="1.87" fill="#3f6030" opacity="0.6"/>
<ellipse cx="491.53" cy="169.44" rx="1.05" ry="1.13" fill="#4f7a3a" opacity="0.6"/>
<ellipse cx="509.1" cy="188.46" rx="2.04" ry="2.03" fill="#2f4826" opacity="0.6"/>
<ellipse cx="476.79" cy="164.94" rx="0.95" ry="0.88" fill="#b8d496" opacity="0.6"/>
<ellipse cx="467.85" cy="144.52" rx="0.99" ry="1.41" fill="#a5c585" opacity="0.6"/>
<ellipse cx="466.51" cy="129.08" rx="1.8" ry="1.42" fill="#3f6030" opacity="0.6"/>
<ellipse cx="503.3" cy="196.94" rx="1.45" ry="0.91" fill="#b8d496" opacity="0.6"/>
<ellipse cx="508.98" cy="91.71" rx="1.45" ry="2.1" fill="#a5c585" opacity="0.6"/>
<ellipse cx="550.39" cy="142.51" rx="1.41" ry="1.43" fill="#2f4826" opacity="0.6"/>
<ellipse cx="549.3" cy="128.62" rx="1.46" ry="2.04" fill="#8fb46c" opacity="0.6"/>
<ellipse cx="467.36" cy="172.05" rx="1.98" ry="1.03" fill="#35502a" opacity="0.6"/>
<ellipse cx="543.47" cy="154.4" rx="0.97" ry="1.75" fill="#a5c585" opacity="0.6"/>
<ellipse cx="480.79" cy="174.5" rx="1.35" ry="1.07" fill="#8fb46c" opacity="0.6"/>
<ellipse cx="526.1" cy="172.35" rx="1.56" ry="2.01" fill="#a5c585" opacity="0.6"/>
<ellipse cx="545.78" cy="135.93" rx="2.07" ry="0.9" fill="#8fb46c" opacity="0.6"/>
<ellipse cx="543.59" cy="123.25" rx="0.97" ry="1.88" fill="#a5c585" opacity="0.6"/>
<ellipse cx="490.78" cy="95.37" rx="1.75" ry="1.74" fill="#2f4826" opacity="0.6"/>
<ellipse cx="524.59" cy="183.18" rx="0.9" ry="2.21" fill="#2f4826" opacity="0.6"/>
<ellipse cx="532.56" cy="176.31" rx="1.2" ry="1.9" fill="#8fb46c" opacity="0.6"/>
<ellipse cx="536.42" cy="123.93" rx="1.82" ry="1.31" fill="#9dbd7a" opacity="0.6"/>
<ellipse cx="478.14" cy="170.04" rx="1.79" ry="1.29" fill="#b8d496" opacity="0.6"/>
<ellipse cx="510.69" cy="183.65" rx="1.5" ry="1.48" fill="#4f7a3a" opacity="0.6"/>
<ellipse cx="555.8" cy="150.02" rx="1.52" ry="1.49" fill="#35502a" opacity="0.6"/>
<ellipse cx="473.44" cy="109.33" rx="2.03" ry="1.42" fill="#8fb46c" opacity="0.6"/>
<ellipse cx="546.8" cy="159.56" rx="0.97" ry="1.48" fill="#4f7a3a" opacity="0.6"/>
<ellipse cx="478.12" cy="141.29" rx="0.96" ry="1.91" fill="#8fb46c" opacity="0.6"/>
<ellipse cx="517.98" cy="100.89" rx="1.95" ry="2.15" fill="#9dbd7a" opacity="0.6"/>
<ellipse cx="482.03" cy="102.91" rx="2.1" ry="2.29" fill="#9dbd7a" opacity="0.6"/>
<ellipse cx="504.85" cy="93.58" rx="1.03" ry="2.13" fill="#2f4826" opacity="0.6"/>
<ellipse cx="498.66" cy="191.94" rx="1.85" ry="1.89" fill="#8fb46c" opacity="0.6"/>
<ellipse cx="519.66" cy="193.02" rx="1.07" ry="2.15" fill="#b8d496" opacity="0.6"/>
<ellipse cx="502.63" cy="192.83" rx="1.21" ry="2.25" fill="#8fb46c" opacity="0.6"/>
<ellipse cx="465.68" cy="148.95" rx="1.31" ry="0.89" fill="#2f4826" opacity="0.6"/>
<ellipse cx="525.08" cy="175.26" rx="1.84" ry="2.15" fill="#b8d496" opacity="0.6"/>
<ellipse cx="534.75" cy="186.44" rx="1.97" ry="0.91" fill="#3f6030" opacity="0.6"/>
<ellipse cx="544.36" cy="101.72" rx="1.66" ry="1.68" fill="#35502a" opacity="0.6"/>
<ellipse cx="535.59" cy="120.64" rx="1.92" ry="1.38" fill="#a5c585" opacity="0.6"/>
<ellipse cx="482.07" cy="171.38" rx="1.37" ry="1.95" fill="#8fb46c" opacity="0.6"/>
<ellipse cx="477.23" cy="155.91" rx="1.28" ry="1.59" fill="#9dbd7a" opacity="0.6"/>
<ellipse cx="490.67" cy="193.14" rx="1.92" ry="1.93" fill="#4f7a3a" opacity="0.6"/>
<ellipse cx="517.28" cy="180.79" rx="1.45" ry="1.37" fill="#a5c585" opacity="0.6"/>
<ellipse cx="551.37" cy="155.94" rx="0.87" ry="0.84" fill="#9dbd7a" opacity="0.6"/>
<ellipse cx="489.69" cy="170.06" rx="1.63" ry="1.44" fill="#4f7a3a" opacity="0.6"/>
<ellipse cx="499.57" cy="176.01" rx="1.76" ry="1.53" fill="#4f7a3a" opacity="0.6"/>
<ellipse cx="545.7" cy="182.96" rx="1.88" ry="1.5" fill="#2f4826" opacity="0.6"/>
<ellipse cx="542.59" cy="156.85" rx="1.43" ry="1.22" fill="#b8d496" opacity="0.6"/>
<ellipse cx="556.78" cy="146.68" rx="1.71" ry="1.68" fill="#4f7a3a" opacity="0.6"/>
<ellipse cx="475.65" cy="117.52" rx="1.21" ry="2.16" fill="#35502a" opacity="0.6"/>
<ellipse cx="552.62" cy="155.24" rx="1.11" ry="1.07" fill="#a5c585" opacity="0.6"/>
<ellipse cx="539.34" cy="125.57" rx="1.05" ry="1.13" fill="#2f4826" opacity="0.6"/>
<ellipse cx="476.88" cy="116.34" rx="2.04" ry="1.09" fill="#a5c585" opacity="0.6"/>
<ellipse cx="496.49" cy="178.97" rx="2.3" ry="1.9" fill="#9dbd7a" opacity="0.6"/>
<ellipse cx="466.98" cy="149.4" rx="2.08" ry="1.93" fill="#a5c585" opacity="0.6"/>
<ellipse cx="463.02" cy="153.83" rx="1.1" ry="2.29" fill="#35502a" opacity="0.6"/>
<ellipse cx="507.17" cy="189.39" rx="1.33" ry="1.93" fill="#3f6030" opacity="0.6"/>
<ellipse cx="493.25" cy="95.56" rx="1.23" ry="1.65" fill="#9dbd7a" opacity="0.6"/>
<ellipse cx="464.75" cy="162.7" rx="1.27" ry="2.19" fill="#b8d496" opacity="0.6"/>
<ellipse cx="536.84" cy="122.8" rx="1.09" ry="2.16" fill="#9dbd7a" opacity="0.6"/>
<ellipse cx="530.22" cy="113.15" rx="1.94" ry="1.31" fill="#8fb46c" opacity="0.6"/>
<ellipse cx="539.02" cy="116.75" rx="1.4" ry="2.08" fill="#2f4826" opacity="0.6"/>
<ellipse cx="558.25" cy="117.87" rx="1.53" ry="1.61" fill="#35502a" opacity="0.6"/>
<ellipse cx="542.59" cy="144.63" rx="1.68" ry="1.29" fill="#2f4826" opacity="0.6"/>
<ellipse cx="521.36" cy="187.72" rx="1.67" ry="1.09" fill="#3f6030" opacity="0.6"/>
<ellipse cx="543.86" cy="150.32" rx="1.35" ry="1.04" fill="#8fb46c" opacity="0.6"/>
<ellipse cx="542.43" cy="149.15" rx="1.86" ry="1.91" fill="#9dbd7a" opacity="0.6"/>
<ellipse cx="551.84" cy="161.39" rx="1.13" ry="2.23" fill="#4f7a3a" opacity="0.6"/>
<ellipse cx="464.72" cy="133.5" rx="1" ry="1.14" fill="#a5c585" opacity="0.6"/>
<ellipse cx="535.13" cy="164.14" rx="2.05" ry="1.76" fill="#3f6030" opacity="0.6"/>
<ellipse cx="502.64" cy="176.07" rx="2" ry="1.78" fill="#3f6030" opacity="0.6"/>
<ellipse cx="499.67" cy="180.92" rx="0.87" ry="1.21" fill="#b8d496" opacity="0.6"/>
<ellipse cx="500.73" cy="190.16" rx="2.18" ry="1.96" fill="#4f7a3a" opacity="0.6"/>
<ellipse cx="476.44" cy="118.06" rx="1.75" ry="0.88" fill="#b8d496" opacity="0.6"/>
<ellipse cx="474.99" cy="164.88" rx="1.35" ry="1.87" fill="#3f6030" opacity="0.6"/>
<ellipse cx="475.03" cy="134.78" rx="1.68" ry="1.26" fill="#3f6030" opacity="0.6"/>
<ellipse cx="470.38" cy="160.32" rx="1.96" ry="2.27" fill="#b8d496" opacity="0.6"/>
<ellipse cx="553.32" cy="144.52" rx="1.86" ry="2.04" fill="#35502a" opacity="0.6"/>
<ellipse cx="554.73" cy="134.13" rx="1.69" ry="1.07" fill="#b8d496" opacity="0.6"/>
<ellipse cx="531.69" cy="94.81" rx="1.57" ry="1" fill="#2f4826" opacity="0.6"/>
<ellipse cx="488.67" cy="118.23" rx="1.76" ry="1.36" fill="#3f6030" opacity="0.6"/>
<ellipse cx="477.45" cy="166.85" rx="1.46" ry="1.78" fill="#3f6030" opacity="0.6"/>
<ellipse cx="483.8" cy="170.96" rx="2.16" ry="1.57" fill="#a5c585" opacity="0.6"/>
<ellipse cx="472.81" cy="178.89" rx="2.23" ry="1.02" fill="#2f4826" opacity="0.6"/>
<ellipse cx="471.13" cy="117.05" rx="1.35" ry="1.31" fill="#9dbd7a" opacity="0.6"/>
<ellipse cx="539.07" cy="185.37" rx="1.09" ry="1.48" fill="#4f7a3a" opacity="0.6"/>
<ellipse cx="517.08" cy="99.17" rx="1.33" ry="1.78" fill="#8fb46c" opacity="0.6"/>
<ellipse cx="496.26" cy="102.73" rx="1.28" ry="1.86" fill="#b8d496" opacity="0.6"/>
<ellipse cx="529.97" cy="114.32" rx="2.27" ry="1.89" fill="#8fb46c" opacity="0.6"/>
<ellipse cx="478.93" cy="119.64" rx="1.32" ry="1.11" fill="#2f4826" opacity="0.6"/>
<ellipse cx="558.25" cy="135.87" rx="1.08" ry="1.8" fill="#3f6030" opacity="0.6"/>
<ellipse cx="522.26" cy="176.14" rx="2.01" ry="1.91" fill="#8fb46c" opacity="0.6"/>
<ellipse cx="477.44" cy="157.61" rx="1.25" ry="2.13" fill="#3f6030" opacity="0.6"/>
<ellipse cx="479.52" cy="150.46" rx="1.86" ry="1.57" fill="#a5c585" opacity="0.6"/>
<ellipse cx="482.07" cy="112.31" rx="1.22" ry="1.92" fill="#8fb46c" opacity="0.6"/>
<ellipse cx="547.57" cy="144.63" rx="1.87" ry="1.7" fill="#a5c585" opacity="0.6"/>
<ellipse cx="479.78" cy="102.78" rx="1.84" ry="1.77" fill="#2f4826" opacity="0.6"/>
<ellipse cx="473.38" cy="154.36" rx="2.16" ry="1.19" fill="#3f6030" opacity="0.6"/>
<ellipse cx="471.67" cy="171.38" rx="1.21" ry="1.46" fill="#8fb46c" opacity="0.6"/>
<ellipse cx="466.45" cy="156.03" rx="1.6" ry="1.8" fill="#a5c585" opacity="0.6"/>
<ellipse cx="546.92" cy="106.18" rx="1.98" ry="1.4" fill="#4f7a3a" opacity="0.6"/>
<ellipse cx="456.6" cy="146.78" rx="1.21" ry="1.15" fill="#9dbd7a" opacity="0.6"/>
<ellipse cx="499.23" cy="91.32" rx="1.6" ry="0.98" fill="#2f4826" opacity="0.6"/>
<ellipse cx="471.24" cy="123.58" rx="1.59" ry="1.77" fill="#35502a" opacity="0.6"/>
<ellipse cx="531.24" cy="105.24" rx="1.93" ry="1.5" fill="#a5c585" opacity="0.6"/>
<ellipse cx="546.18" cy="141.18" rx="1.91" ry="1.73" fill="#3f6030" opacity="0.6"/>
<ellipse cx="486.27" cy="115.09" rx="1.43" ry="0.86" fill="#a5c585" opacity="0.6"/>
<ellipse cx="474.56" cy="163.43" rx="1.69" ry="1" fill="#4f7a3a" opacity="0.6"/>
<ellipse cx="497.06" cy="181.64" rx="2.3" ry="2.24" fill="#2f4826" opacity="0.6"/>
<ellipse cx="476.19" cy="151.63" rx="2.03" ry="1.76" fill="#3f6030" opacity="0.6"/>
<ellipse cx="466.85" cy="151.88" rx="2.04" ry="1.05" fill="#2f4826" opacity="0.6"/>
<ellipse cx="484.98" cy="99.76" rx="1.53" ry="1.27" fill="#a5c585" opacity="0.6"/>
<ellipse cx="477.68" cy="133.13" rx="1.36" ry="2.08" fill="#35502a" opacity="0.6"/>
<ellipse cx="506.11" cy="183.11" rx="2.28" ry="1.83" fill="#b8d496" opacity="0.6"/>
<ellipse cx="460.73" cy="149.11" rx="1.37" ry="1.79" fill="#b8d496" opacity="0.6"/>
<ellipse cx="492.24" cy="181.77" rx="1.81" ry="1.37" fill="#3f6030" opacity="0.6"/>
<ellipse cx="556.69" cy="121.27" rx="0.97" ry="1.66" fill="#9dbd7a" opacity="0.6"/>
<ellipse cx="486.4" cy="190.64" rx="1.77" ry="0.86" fill="#4f7a3a" opacity="0.6"/>
<ellipse cx="563.85" cy="147.19" rx="1.21" ry="0.98" fill="#b8d496" opacity="0.6"/>
<ellipse cx="533.53" cy="172.04" rx="1.35" ry="1.06" fill="#35502a" opacity="0.6"/>
<ellipse cx="551.52" cy="115.26" rx="1.74" ry="1.84" fill="#8fb46c" opacity="0.6"/>
<ellipse cx="543.74" cy="138.57" rx="1.13" ry="1.85" fill="#b8d496" opacity="0.6"/>
<ellipse cx="462.77" cy="134.04" rx="1.83" ry="1.01" fill="#35502a" opacity="0.6"/>
<ellipse cx="540.8" cy="171.11" rx="1.54" ry="1.65" fill="#8fb46c" opacity="0.6"/>
<ellipse cx="458.34" cy="148.46" rx="1.2" ry="1.08" fill="#35502a" opacity="0.6"/>
<ellipse cx="471.22" cy="115.09" rx="2.08" ry="1.52" fill="#8fb46c" opacity="0.6"/>
<ellipse cx="467.21" cy="125.48" rx="1.39" ry="1.45" fill="#35502a" opacity="0.6"/>
<ellipse cx="542.73" cy="135.25" rx="1.78" ry="0.88" fill="#4f7a3a" opacity="0.6"/>
<ellipse cx="474.02" cy="113.44" rx="2.03" ry="0.97" fill="#4f7a3a" opacity="0.6"/>
<ellipse cx="461.75" cy="148.19" rx="0.89" ry="1.89" fill="#8fb46c" opacity="0.6"/>
<ellipse cx="482.74" cy="115.63" rx="1.34" ry="1.97" fill="#4f7a3a" opacity="0.6"/>
<ellipse cx="460.94" cy="125.9" rx="1.48" ry="1.45" fill="#b8d496" opacity="0.6"/>
<ellipse cx="462.79" cy="126.58" rx="1.36" ry="1.56" fill="#b8d496" opacity="0.6"/>
<ellipse cx="483.27" cy="190.03" rx="2.27" ry="1.79" fill="#4f7a3a" opacity="0.6"/>
</g>
<g filter="url(#phgc)">
<ellipse cx="510.5" cy="149.62" rx="40.43" ry="35.01" fill="#30352e" opacity="1" transform="rotate(0 510.5 149.62)"/>
<ellipse cx="510.5" cy="150.66" rx="37.8" ry="31.87" fill="#545653" opacity="1" transform="rotate(0 510.5 150.66)"/>
<ellipse cx="510.5" cy="131.85" rx="30.45" ry="10.45" fill="#404c60" opacity="1" transform="rotate(0 510.5 131.85)"/>
<ellipse cx="523.1" cy="126.63" rx="12.6" ry="5.23" fill="#7387a3" opacity="1" transform="rotate(0 523.1 126.63)"/>
<ellipse cx="489.5" cy="132.9" rx="8.4" ry="6.27" fill="#6f8cb3" opacity="1" transform="rotate(0 489.5 132.9)"/>
<ellipse cx="497.9" cy="138.12" rx="10.5" ry="6.27" fill="#465f3c" opacity="1" transform="rotate(0 497.9 138.12)"/>
<ellipse cx="510.5" cy="145.44" rx="12.6" ry="10.45" fill="#333634" opacity="1" transform="rotate(0 510.5 145.44)"/>
<ellipse cx="489.5" cy="159.02" rx="13.65" ry="13.59" fill="#7d7b76" opacity="1" transform="rotate(0 489.5 159.02)"/>
<ellipse cx="529.4" cy="159.02" rx="12.6" ry="13.59" fill="#5a5b57" opacity="1" transform="rotate(0 529.4 159.02)"/>
<ellipse cx="510.5" cy="176.79" rx="27.3" ry="5.23" fill="#3f403a" opacity="1" transform="rotate(0 510.5 176.79)"/>
<polygon points="516.8,174.7 525.2,173.66 539.9,197.69 521,197.69" fill="#3a3a34"/>
</g>
</g>
<circle cx="501.14" cy="95.52" r="1.75" fill="#f6f6f6" stroke="#777" stroke-width="0.3"/>
<circle cx="514.31" cy="104.52" r="1.75" fill="#f6f6f6" stroke="#777" stroke-width="0.3"/>
<circle cx="527.79" cy="107.67" r="1.75" fill="#f6f6f6" stroke="#777" stroke-width="0.3"/>
<circle cx="529.37" cy="109.73" r="1.75" fill="#f6f6f6" stroke="#777" stroke-width="0.3"/>
<circle cx="493.21" cy="108.15" r="1.75" fill="#f6f6f6" stroke="#777" stroke-width="0.3"/>
<circle cx="498.45" cy="108.78" r="1.75" fill="#f6f6f6" stroke="#777" stroke-width="0.3"/>
<circle cx="488.14" cy="110.83" r="1.75" fill="#f6f6f6" stroke="#777" stroke-width="0.3"/>
<circle cx="499.56" cy="114.78" r="1.75" fill="#f6f6f6" stroke="#777" stroke-width="0.3"/>
<circle cx="491.31" cy="114.78" r="1.75" fill="#f6f6f6" stroke="#777" stroke-width="0.3"/>
<circle cx="506.38" cy="116.04" r="1.75" fill="#f6f6f6" stroke="#777" stroke-width="0.3"/>
<circle cx="506.85" cy="119.51" r="1.75" fill="#f6f6f6" stroke="#777" stroke-width="0.3"/>
<circle cx="517.8" cy="116.04" r="1.75" fill="#f6f6f6" stroke="#777" stroke-width="0.3"/>
<circle cx="524.3" cy="116.67" r="1.75" fill="#f6f6f6" stroke="#777" stroke-width="0.3"/>
<circle cx="527.79" cy="116.04" r="1.75" fill="#f6f6f6" stroke="#777" stroke-width="0.3"/>
<circle cx="532.55" cy="113.99" r="1.75" fill="#f6f6f6" stroke="#777" stroke-width="0.3"/>
<circle cx="534.93" cy="113.52" r="1.75" fill="#f6f6f6" stroke="#777" stroke-width="0.3"/>
<circle cx="537.31" cy="116.04" r="1.75" fill="#f6f6f6" stroke="#777" stroke-width="0.3"/>
<circle cx="540.79" cy="119.83" r="1.75" fill="#f6f6f6" stroke="#777" stroke-width="0.3"/>
<circle cx="543.65" cy="122.67" r="1.75" fill="#f6f6f6" stroke="#777" stroke-width="0.3"/>
<circle cx="493.21" cy="120.78" r="1.75" fill="#f6f6f6" stroke="#777" stroke-width="0.3"/>
<circle cx="495.75" cy="122.36" r="1.75" fill="#f6f6f6" stroke="#777" stroke-width="0.3"/>
<circle cx="525.41" cy="124.57" r="1.75" fill="#f6f6f6" stroke="#777" stroke-width="0.3"/>
<circle cx="531.28" cy="127.72" r="1.75" fill="#f6f6f6" stroke="#777" stroke-width="0.3"/>
<circle cx="487.34" cy="126.14" r="1.75" fill="#f6f6f6" stroke="#777" stroke-width="0.3"/>
<circle cx="504.31" cy="127.72" r="1.75" fill="#f6f6f6" stroke="#777" stroke-width="0.3"/>
<circle cx="510.34" cy="128.99" r="1.75" fill="#f6f6f6" stroke="#777" stroke-width="0.3"/>
<circle cx="498.45" cy="131.35" r="1.75" fill="#f6f6f6" stroke="#777" stroke-width="0.3"/>
<circle cx="484.65" cy="132.93" r="1.75" fill="#f6f6f6" stroke="#777" stroke-width="0.3"/>
<circle cx="512.72" cy="134.51" r="1.75" fill="#f6f6f6" stroke="#777" stroke-width="0.3"/>
<circle cx="522.24" cy="137.19" r="1.75" fill="#f6f6f6" stroke="#777" stroke-width="0.3"/>
<circle cx="532.55" cy="138.46" r="1.75" fill="#f6f6f6" stroke="#777" stroke-width="0.3"/>
<circle cx="537.31" cy="138.14" r="1.75" fill="#f6f6f6" stroke="#777" stroke-width="0.3"/>
<circle cx="550.79" cy="139.25" r="1.75" fill="#f6f6f6" stroke="#777" stroke-width="0.3"/>
<circle cx="498.92" cy="139.25" r="1.75" fill="#f6f6f6" stroke="#777" stroke-width="0.3"/>
<circle cx="507.96" cy="139.25" r="1.75" fill="#f6f6f6" stroke="#777" stroke-width="0.3"/>
<circle cx="513.51" cy="139.25" r="1.75" fill="#f6f6f6" stroke="#777" stroke-width="0.3"/>
<circle cx="527" cy="141.61" r="1.75" fill="#f6f6f6" stroke="#777" stroke-width="0.3"/>
<circle cx="486.55" cy="144.77" r="1.75" fill="#f6f6f6" stroke="#777" stroke-width="0.3"/>
<circle cx="501.62" cy="144.45" r="1.75" fill="#f6f6f6" stroke="#777" stroke-width="0.3"/>
<circle cx="508.76" cy="144.45" r="1.75" fill="#f6f6f6" stroke="#777" stroke-width="0.3"/>
<circle cx="514.31" cy="145.09" r="1.75" fill="#f6f6f6" stroke="#777" stroke-width="0.3"/>
<circle cx="517" cy="144.45" r="1.75" fill="#f6f6f6" stroke="#777" stroke-width="0.3"/>
<circle cx="520.65" cy="145.56" r="1.75" fill="#f6f6f6" stroke="#777" stroke-width="0.3"/>
<circle cx="523.82" cy="146.66" r="1.75" fill="#f6f6f6" stroke="#777" stroke-width="0.3"/>
<circle cx="493.69" cy="149.82" r="1.75" fill="#f6f6f6" stroke="#777" stroke-width="0.3"/>
<circle cx="515.42" cy="149.19" r="1.75" fill="#f6f6f6" stroke="#777" stroke-width="0.3"/>
<circle cx="517.48" cy="150.77" r="1.75" fill="#f6f6f6" stroke="#777" stroke-width="0.3"/>
<circle cx="529.37" cy="149.82" r="1.75" fill="#f6f6f6" stroke="#777" stroke-width="0.3"/>
<circle cx="513.83" cy="152.98" r="1.75" fill="#f6f6f6" stroke="#777" stroke-width="0.3"/>
<circle cx="523.35" cy="153.45" r="1.75" fill="#f6f6f6" stroke="#777" stroke-width="0.3"/>
<circle cx="551.26" cy="148.72" r="1.75" fill="#f6f6f6" stroke="#777" stroke-width="0.3"/>
<circle cx="471.48" cy="160.56" r="1.75" fill="#f6f6f6" stroke="#777" stroke-width="0.3"/>
<circle cx="473.86" cy="162.13" r="1.75" fill="#f6f6f6" stroke="#777" stroke-width="0.3"/>
<circle cx="489.4" cy="158.66" r="1.75" fill="#f6f6f6" stroke="#777" stroke-width="0.3"/>
<circle cx="493.69" cy="158.66" r="1.75" fill="#f6f6f6" stroke="#777" stroke-width="0.3"/>
<circle cx="494.8" cy="163.4" r="1.75" fill="#f6f6f6" stroke="#777" stroke-width="0.3"/>
<circle cx="506.38" cy="158.66" r="1.75" fill="#f6f6f6" stroke="#777" stroke-width="0.3"/>
<circle cx="508.44" cy="161.35" r="1.75" fill="#f6f6f6" stroke="#777" stroke-width="0.3"/>
<circle cx="514.78" cy="160.24" r="1.75" fill="#f6f6f6" stroke="#777" stroke-width="0.3"/>
<circle cx="518.59" cy="162.13" r="1.75" fill="#f6f6f6" stroke="#777" stroke-width="0.3"/>
<circle cx="507.96" cy="163.4" r="1.75" fill="#f6f6f6" stroke="#777" stroke-width="0.3"/>
<circle cx="492.1" cy="168.13" r="1.75" fill="#f6f6f6" stroke="#777" stroke-width="0.3"/>
<circle cx="511.61" cy="168.76" r="1.75" fill="#f6f6f6" stroke="#777" stroke-width="0.3"/>
<circle cx="479.73" cy="169.71" r="1.75" fill="#f6f6f6" stroke="#777" stroke-width="0.3"/>
<circle cx="515.42" cy="173.5" r="1.75" fill="#f6f6f6" stroke="#777" stroke-width="0.3"/>
<circle cx="507.17" cy="181.39" r="1.75" fill="#f6f6f6" stroke="#777" stroke-width="0.3"/>
<circle cx="510.34" cy="185.5" r="1.75" fill="#f6f6f6" stroke="#777" stroke-width="0.3"/>
<circle cx="519.38" cy="187.71" r="1.75" fill="#f6f6f6" stroke="#777" stroke-width="0.3"/>
<circle cx="519.06" cy="104.99" r="1.75" fill="#e8326c" stroke="#777" stroke-width="0.3"/>
<circle cx="538.89" cy="133.72" r="1.75" fill="#e8326c" stroke="#777" stroke-width="0.3"/>
<circle cx="477.35" cy="139.72" r="1.75" fill="#e8326c" stroke="#777" stroke-width="0.3"/>
<circle cx="533.5" cy="150.3" r="1.75" fill="#e8326c" stroke="#777" stroke-width="0.3"/>
<circle cx="480.52" cy="161.35" r="1.75" fill="#e8326c" stroke="#777" stroke-width="0.3"/>
<circle cx="530.17" cy="170.82" r="1.75" fill="#e8326c" stroke="#777" stroke-width="0.3"/>
<circle cx="519.86" cy="101.52" r="1.75" fill="#3aa6dc" stroke="#777" stroke-width="0.3"/>
<circle cx="512.72" cy="109.25" r="1.75" fill="#3aa6dc" stroke="#777" stroke-width="0.3"/>
<circle cx="523.03" cy="111.94" r="1.75" fill="#3aa6dc" stroke="#777" stroke-width="0.3"/>
<circle cx="543.65" cy="126.14" r="1.75" fill="#3aa6dc" stroke="#777" stroke-width="0.3"/>
<circle cx="546.19" cy="128.67" r="1.75" fill="#3aa6dc" stroke="#777" stroke-width="0.3"/>
<circle cx="478.94" cy="129.3" r="1.75" fill="#3aa6dc" stroke="#777" stroke-width="0.3"/>
<circle cx="530.96" cy="133.41" r="1.75" fill="#3aa6dc" stroke="#777" stroke-width="0.3"/>
<circle cx="478.62" cy="144.45" r="1.75" fill="#3aa6dc" stroke="#777" stroke-width="0.3"/>
<circle cx="474.18" cy="148.24" r="1.75" fill="#3aa6dc" stroke="#777" stroke-width="0.3"/>
<circle cx="485.76" cy="152.98" r="1.75" fill="#3aa6dc" stroke="#777" stroke-width="0.3"/>
<circle cx="536.51" cy="146.03" r="1.75" fill="#3aa6dc" stroke="#777" stroke-width="0.3"/>
<circle cx="537.31" cy="152.98" r="1.75" fill="#3aa6dc" stroke="#777" stroke-width="0.3"/>
<circle cx="529.69" cy="156.14" r="1.75" fill="#3aa6dc" stroke="#777" stroke-width="0.3"/>
<circle cx="539.53" cy="157.08" r="1.75" fill="#3aa6dc" stroke="#777" stroke-width="0.3"/>
<circle cx="481.47" cy="166.87" r="1.75" fill="#3aa6dc" stroke="#777" stroke-width="0.3"/>
<circle cx="522.24" cy="174.76" r="1.75" fill="#3aa6dc" stroke="#777" stroke-width="0.3"/>
<circle cx="527.79" cy="177.45" r="1.75" fill="#3aa6dc" stroke="#777" stroke-width="0.3"/>
<rect x="509.61" y="140.09" width="3.68" height="3.68" fill="#2f9d6a" transform="rotate(45 511.45 141.93)"/>
<text x="461.5" y="103" font-size="12" text-anchor="start" fill="#f0f0f0" font-family='"Liberation Serif", serif' font-weight="normal" font-style="italic" >G</text>
<text x="469.5" y="106.5" font-size="7" text-anchor="start" fill="#f0f0f0" font-family='"Liberation Serif", serif' font-weight="normal" font-style="italic" >t</text>
<circle cx="454" cy="199.6" r="1.9" fill="#e8326c"/>
<text x="457.3" y="202" font-size="6.7" text-anchor="start" fill="#222" font-family='"Liberation Sans", sans-serif' font-weight="normal" font-style="normal" textLength="46.1" lengthAdjust="spacingAndGlyphs" >Highlight object</text>
<circle cx="508.2" cy="199.6" r="1.9" fill="#3aa6dc"/>
<text x="511.8" y="202" font-size="6.7" text-anchor="start" fill="#222" font-family='"Liberation Sans", sans-serif' font-weight="normal" font-style="normal" textLength="36.6" lengthAdjust="spacingAndGlyphs" >Detail object</text>
<rect x="552.2" y="198.3" width="2.6" height="2.6" fill="#2f9d6a" transform="rotate(45 553.5 199.6)"/>
<text x="557" y="202" font-size="6.7" text-anchor="start" fill="#222" font-family='"Liberation Sans", sans-serif' font-weight="normal" font-style="normal" textLength="11.3" lengthAdjust="spacingAndGlyphs" >Self</text>
<rect x="583.3" y="13.4" width="16.1" height="80.3" rx="2.5" fill="#77797c" stroke="#4a4a4a" stroke-width="0.8" />
<text transform="translate(591.5 53.6) rotate(90)" x="0" y="0" dy="0.35em" font-size="8" text-anchor="middle" fill="#1a1a1a" font-family='"Liberation Sans", sans-serif' font-weight="normal" textLength="65" lengthAdjust="spacingAndGlyphs">Background Atten.</text>
<rect x="610.3" y="22.2" width="11.4" height="11.3" rx="2.2" fill="#6d6d6d" stroke="#3a3a3a" stroke-width="0.8" />
<rect x="622.63" y="22.2" width="11.4" height="11.3" rx="2.2" fill="#6d6d6d" stroke="#3a3a3a" stroke-width="0.8" />
<rect x="634.96" y="22.2" width="11.4" height="11.3" rx="2.2" fill="#6d6d6d" stroke="#3a3a3a" stroke-width="0.8" />
<rect x="647.29" y="22.2" width="11.4" height="11.3" rx="2.2" fill="#6d6d6d" stroke="#3a3a3a" stroke-width="0.8" />
<rect x="659.62" y="22.2" width="11.4" height="11.3" rx="2.2" fill="#6d6d6d" stroke="#3a3a3a" stroke-width="0.8" />
<rect x="672.15" y="22.4" width="11" height="10.9" rx="1.5" fill="#d8d9da" stroke="none" stroke-width="1" />
<rect x="610.3" y="34.4" width="11.4" height="11.3" rx="2.2" fill="#6d6d6d" stroke="#3a3a3a" stroke-width="0.8" />
<rect x="622.63" y="34.4" width="11.4" height="11.3" rx="2.2" fill="#6d6d6d" stroke="#3a3a3a" stroke-width="0.8" />
<rect x="635.16" y="34.6" width="11" height="10.9" rx="1.5" fill="#d8d9da" stroke="none" stroke-width="1" />
<rect x="647.29" y="34.4" width="11.4" height="11.3" rx="2.2" fill="#6d6d6d" stroke="#3a3a3a" stroke-width="0.8" />
<rect x="659.62" y="34.4" width="11.4" height="11.3" rx="2.2" fill="#6d6d6d" stroke="#3a3a3a" stroke-width="0.8" />
<rect x="671.95" y="34.4" width="11.4" height="11.3" rx="2.2" fill="#6d6d6d" stroke="#3a3a3a" stroke-width="0.8" />
<rect x="610.3" y="46.6" width="11.4" height="11.3" rx="2.2" fill="#6d6d6d" stroke="#3a3a3a" stroke-width="0.8" />
<rect x="622.63" y="46.6" width="11.4" height="11.3" rx="2.2" fill="#6d6d6d" stroke="#3a3a3a" stroke-width="0.8" />
<rect x="634.96" y="46.6" width="11.4" height="11.3" rx="2.2" fill="#6d6d6d" stroke="#3a3a3a" stroke-width="0.8" />
<rect x="647.49" y="46.8" width="11" height="10.9" rx="1.5" fill="#d8d9da" stroke="none" stroke-width="1" />
<rect x="659.62" y="46.6" width="11.4" height="11.3" rx="2.2" fill="#6d6d6d" stroke="#3a3a3a" stroke-width="0.8" />
<rect x="671.95" y="46.6" width="11.4" height="11.3" rx="2.2" fill="#6d6d6d" stroke="#3a3a3a" stroke-width="0.8" />
<rect x="610.5" y="59" width="11" height="10.9" rx="1.5" fill="#d8d9da" stroke="none" stroke-width="1" />
<rect x="622.63" y="58.8" width="11.4" height="11.3" rx="2.2" fill="#6d6d6d" stroke="#3a3a3a" stroke-width="0.8" />
<rect x="634.96" y="58.8" width="11.4" height="11.3" rx="2.2" fill="#6d6d6d" stroke="#3a3a3a" stroke-width="0.8" />
<rect x="647.29" y="58.8" width="11.4" height="11.3" rx="2.2" fill="#6d6d6d" stroke="#3a3a3a" stroke-width="0.8" />
<rect x="659.62" y="58.8" width="11.4" height="11.3" rx="2.2" fill="#6d6d6d" stroke="#3a3a3a" stroke-width="0.8" />
<rect x="671.95" y="58.8" width="11.4" height="11.3" rx="2.2" fill="#6d6d6d" stroke="#3a3a3a" stroke-width="0.8" />
<rect x="610.3" y="71" width="11.4" height="11.3" rx="2.2" fill="#6d6d6d" stroke="#3a3a3a" stroke-width="0.8" />
<rect x="622.63" y="71" width="11.4" height="11.3" rx="2.2" fill="#6d6d6d" stroke="#3a3a3a" stroke-width="0.8" />
<rect x="634.96" y="71" width="11.4" height="11.3" rx="2.2" fill="#6d6d6d" stroke="#3a3a3a" stroke-width="0.8" />
<rect x="647.29" y="71" width="11.4" height="11.3" rx="2.2" fill="#6d6d6d" stroke="#3a3a3a" stroke-width="0.8" />
<rect x="659.82" y="71.2" width="11" height="10.9" rx="1.5" fill="#d8d9da" stroke="none" stroke-width="1" />
<rect x="671.95" y="71" width="11.4" height="11.3" rx="2.2" fill="#6d6d6d" stroke="#3a3a3a" stroke-width="0.8" />
<rect x="610.3" y="83.2" width="11.4" height="11.3" rx="2.2" fill="#6d6d6d" stroke="#3a3a3a" stroke-width="0.8" />
<rect x="622.83" y="83.4" width="11" height="10.9" rx="1.5" fill="#d8d9da" stroke="none" stroke-width="1" />
<rect x="634.96" y="83.2" width="11.4" height="11.3" rx="2.2" fill="#6d6d6d" stroke="#3a3a3a" stroke-width="0.8" />
<rect x="647.29" y="83.2" width="11.4" height="11.3" rx="2.2" fill="#6d6d6d" stroke="#3a3a3a" stroke-width="0.8" />
<rect x="659.62" y="83.2" width="11.4" height="11.3" rx="2.2" fill="#6d6d6d" stroke="#3a3a3a" stroke-width="0.8" />
<rect x="671.95" y="83.2" width="11.4" height="11.3" rx="2.2" fill="#6d6d6d" stroke="#3a3a3a" stroke-width="0.8" />
<text x="601" y="20" font-size="8.5" text-anchor="start" fill="#333" font-family='"Liberation Serif", serif' font-weight="normal" font-style="italic" >G</text>
<text x="607" y="22.2" font-size="5.2" text-anchor="start" fill="#333" font-family='"Liberation Serif", serif' font-weight="normal" font-style="italic" >t−T</text>
<text x="673.8" y="20" font-size="8.5" text-anchor="start" fill="#333" font-family='"Liberation Serif", serif' font-weight="normal" font-style="italic" >G</text>
<text x="679.8" y="22.2" font-size="5.2" text-anchor="start" fill="#333" font-family='"Liberation Serif", serif' font-weight="normal" font-style="italic" >t</text>
<text x="601" y="92" font-size="8.5" text-anchor="start" fill="#333" font-family='"Liberation Serif", serif' font-weight="normal" font-style="italic" >G</text>
<text x="607" y="94.2" font-size="5.2" text-anchor="start" fill="#333" font-family='"Liberation Serif", serif' font-weight="normal" font-style="italic" >t</text>
<polyline points="628.8,17 664.8,17" stroke="#8a8a8a" stroke-width="0.7" fill="none" stroke-linejoin="miter" />
<polyline points="662.4,18.6 664.8,17 662.4,15.4" stroke="#8a8a8a" stroke-width="0.7" fill="none" stroke-linejoin="miter" />
<polyline points="605.7,40.5 605.7,75.8" stroke="#8a8a8a" stroke-width="0.7" fill="none" stroke-linejoin="miter" />
<polyline points="604.1,73.4 605.7,75.8 607.3,73.4" stroke="#8a8a8a" stroke-width="0.7" fill="none" stroke-linejoin="miter" />
<rect x="583.3" y="106.7" width="16.1" height="80.3" rx="2.5" fill="#52b3df" stroke="#2f6f8c" stroke-width="0.8" />
<text transform="translate(591.5 146.9) rotate(90)" x="0" y="0" dy="0.35em" font-size="8" text-anchor="middle" fill="#1a1a1a" font-family='"Liberation Sans", sans-serif' font-weight="normal" textLength="57.5" lengthAdjust="spacingAndGlyphs">Attraction Atten.</text>
<rect x="610.3" y="115.5" width="11.4" height="11.3" rx="2.2" fill="#4fb2de" stroke="#2b4f60" stroke-width="0.8" />
<rect x="622.83" y="115.7" width="11" height="10.9" rx="1.5" fill="#d8d9da" stroke="none" stroke-width="1" />
<rect x="635.16" y="115.7" width="11" height="10.9" rx="1.5" fill="#d8d9da" stroke="none" stroke-width="1" />
<rect x="647.49" y="115.7" width="11" height="10.9" rx="1.5" fill="#d8d9da" stroke="none" stroke-width="1" />
<rect x="659.82" y="115.7" width="11" height="10.9" rx="1.5" fill="#d8d9da" stroke="none" stroke-width="1" />
<rect x="672.15" y="115.7" width="11" height="10.9" rx="1.5" fill="#d8d9da" stroke="none" stroke-width="1" />
<rect x="610.5" y="127.9" width="11" height="10.9" rx="1.5" fill="#d8d9da" stroke="none" stroke-width="1" />
<rect x="622.63" y="127.7" width="11.4" height="11.3" rx="2.2" fill="#4fb2de" stroke="#2b4f60" stroke-width="0.8" />
<rect x="635.16" y="127.9" width="11" height="10.9" rx="1.5" fill="#d8d9da" stroke="none" stroke-width="1" />
<rect x="647.49" y="127.9" width="11" height="10.9" rx="1.5" fill="#d8d9da" stroke="none" stroke-width="1" />
<rect x="659.82" y="127.9" width="11" height="10.9" rx="1.5" fill="#d8d9da" stroke="none" stroke-width="1" />
<rect x="672.15" y="127.9" width="11" height="10.9" rx="1.5" fill="#d8d9da" stroke="none" stroke-width="1" />
<rect x="610.5" y="140.1" width="11" height="10.9" rx="1.5" fill="#d8d9da" stroke="none" stroke-width="1" />
<rect x="622.83" y="140.1" width="11" height="10.9" rx="1.5" fill="#d8d9da" stroke="none" stroke-width="1" />
<rect x="634.96" y="139.9" width="11.4" height="11.3" rx="2.2" fill="#4fb2de" stroke="#2b4f60" stroke-width="0.8" />
<rect x="647.49" y="140.1" width="11" height="10.9" rx="1.5" fill="#d8d9da" stroke="none" stroke-width="1" />
<rect x="659.82" y="140.1" width="11" height="10.9" rx="1.5" fill="#d8d9da" stroke="none" stroke-width="1" />
<rect x="672.15" y="140.1" width="11" height="10.9" rx="1.5" fill="#d8d9da" stroke="none" stroke-width="1" />
<rect x="610.5" y="152.3" width="11" height="10.9" rx="1.5" fill="#d8d9da" stroke="none" stroke-width="1" />
<rect x="622.83" y="152.3" width="11" height="10.9" rx="1.5" fill="#d8d9da" stroke="none" stroke-width="1" />
<rect x="635.16" y="152.3" width="11" height="10.9" rx="1.5" fill="#d8d9da" stroke="none" stroke-width="1" />
<rect x="647.29" y="152.1" width="11.4" height="11.3" rx="2.2" fill="#4fb2de" stroke="#2b4f60" stroke-width="0.8" />
<rect x="659.82" y="152.3" width="11" height="10.9" rx="1.5" fill="#d8d9da" stroke="none" stroke-width="1" />
<rect x="672.15" y="152.3" width="11" height="10.9" rx="1.5" fill="#d8d9da" stroke="none" stroke-width="1" />
<rect x="610.5" y="164.5" width="11" height="10.9" rx="1.5" fill="#d8d9da" stroke="none" stroke-width="1" />
<rect x="622.83" y="164.5" width="11" height="10.9" rx="1.5" fill="#d8d9da" stroke="none" stroke-width="1" />
<rect x="635.16" y="164.5" width="11" height="10.9" rx="1.5" fill="#d8d9da" stroke="none" stroke-width="1" />
<rect x="647.49" y="164.5" width="11" height="10.9" rx="1.5" fill="#d8d9da" stroke="none" stroke-width="1" />
<rect x="659.62" y="164.3" width="11.4" height="11.3" rx="2.2" fill="#4fb2de" stroke="#2b4f60" stroke-width="0.8" />
<rect x="672.15" y="164.5" width="11" height="10.9" rx="1.5" fill="#d8d9da" stroke="none" stroke-width="1" />
<rect x="610.5" y="176.7" width="11" height="10.9" rx="1.5" fill="#d8d9da" stroke="none" stroke-width="1" />
<rect x="622.83" y="176.7" width="11" height="10.9" rx="1.5" fill="#d8d9da" stroke="none" stroke-width="1" />
<rect x="635.16" y="176.7" width="11" height="10.9" rx="1.5" fill="#d8d9da" stroke="none" stroke-width="1" />
<rect x="647.49" y="176.7" width="11" height="10.9" rx="1.5" fill="#d8d9da" stroke="none" stroke-width="1" />
<rect x="659.82" y="176.7" width="11" height="10.9" rx="1.5" fill="#d8d9da" stroke="none" stroke-width="1" />
<rect x="671.95" y="176.5" width="11.4" height="11.3" rx="2.2" fill="#4fb2de" stroke="#2b4f60" stroke-width="0.8" />
<text x="601" y="113.3" font-size="8.5" text-anchor="start" fill="#333" font-family='"Liberation Serif", serif' font-weight="normal" font-style="italic" >G</text>
<text x="607" y="115.5" font-size="5.2" text-anchor="start" fill="#333" font-family='"Liberation Serif", serif' font-weight="normal" font-style="italic" >t−T</text>
<text x="673.8" y="113.3" font-size="8.5" text-anchor="start" fill="#333" font-family='"Liberation Serif", serif' font-weight="normal" font-style="italic" >G</text>
<text x="679.8" y="115.5" font-size="5.2" text-anchor="start" fill="#333" font-family='"Liberation Serif", serif' font-weight="normal" font-style="italic" >t</text>
<text x="601" y="185.3" font-size="8.5" text-anchor="start" fill="#333" font-family='"Liberation Serif", serif' font-weight="normal" font-style="italic" >G</text>
<text x="607" y="187.5" font-size="5.2" text-anchor="start" fill="#333" font-family='"Liberation Serif", serif' font-weight="normal" font-style="italic" >t</text>
<polyline points="628.8,110.3 664.8,110.3" stroke="#8a8a8a" stroke-width="0.7" fill="none" stroke-linejoin="miter" />
<polyline points="662.4,111.9 664.8,110.3 662.4,108.7" stroke="#8a8a8a" stroke-width="0.7" fill="none" stroke-linejoin="miter" />
<polyline points="605.7,133.8 605.7,169.1" stroke="#8a8a8a" stroke-width="0.7" fill="none" stroke-linejoin="miter" />
<polyline points="604.1,166.7 605.7,169.1 607.3,166.7" stroke="#8a8a8a" stroke-width="0.7" fill="none" stroke-linejoin="miter" />
<rect x="583.3" y="200.2" width="16.1" height="80.3" rx="2.5" fill="#4f9e7c" stroke="#2f6a50" stroke-width="0.8" />
<text transform="translate(591.5 240.4) rotate(90)" x="0" y="0" dy="0.35em" font-size="8" text-anchor="middle" fill="#1a1a1a" font-family='"Liberation Sans", sans-serif' font-weight="normal" textLength="60.5" lengthAdjust="spacingAndGlyphs">Freshness Atten.</text>
<rect x="610.3" y="209" width="11.4" height="11.3" rx="2.2" fill="#4d9d7a" stroke="#2c5040" stroke-width="0.8" />
<rect x="622.83" y="209.2" width="11" height="10.9" rx="1.5" fill="#d8d9da" stroke="none" stroke-width="1" />
<rect x="635.16" y="209.2" width="11" height="10.9" rx="1.5" fill="#d8d9da" stroke="none" stroke-width="1" />
<rect x="647.49" y="209.2" width="11" height="10.9" rx="1.5" fill="#d8d9da" stroke="none" stroke-width="1" />
<rect x="659.82" y="209.2" width="11" height="10.9" rx="1.5" fill="#d8d9da" stroke="none" stroke-width="1" />
<rect x="672.15" y="209.2" width="11" height="10.9" rx="1.5" fill="#d8d9da" stroke="none" stroke-width="1" />
<rect x="610.3" y="221.2" width="11.4" height="11.3" rx="2.2" fill="#4d9d7a" stroke="#2c5040" stroke-width="0.8" />
<rect x="622.63" y="221.2" width="11.4" height="11.3" rx="2.2" fill="#4d9d7a" stroke="#2c5040" stroke-width="0.8" />
<rect x="635.16" y="221.4" width="11" height="10.9" rx="1.5" fill="#d8d9da" stroke="none" stroke-width="1" />
<rect x="647.49" y="221.4" width="11" height="10.9" rx="1.5" fill="#d8d9da" stroke="none" stroke-width="1" />
<rect x="659.82" y="221.4" width="11" height="10.9" rx="1.5" fill="#d8d9da" stroke="none" stroke-width="1" />
<rect x="672.15" y="221.4" width="11" height="10.9" rx="1.5" fill="#d8d9da" stroke="none" stroke-width="1" />
<rect x="610.3" y="233.4" width="11.4" height="11.3" rx="2.2" fill="#4d9d7a" stroke="#2c5040" stroke-width="0.8" />
<rect x="622.63" y="233.4" width="11.4" height="11.3" rx="2.2" fill="#4d9d7a" stroke="#2c5040" stroke-width="0.8" />
<rect x="634.96" y="233.4" width="11.4" height="11.3" rx="2.2" fill="#4d9d7a" stroke="#2c5040" stroke-width="0.8" />
<rect x="647.49" y="233.6" width="11" height="10.9" rx="1.5" fill="#d8d9da" stroke="none" stroke-width="1" />
<rect x="659.82" y="233.6" width="11" height="10.9" rx="1.5" fill="#d8d9da" stroke="none" stroke-width="1" />
<rect x="672.15" y="233.6" width="11" height="10.9" rx="1.5" fill="#d8d9da" stroke="none" stroke-width="1" />
<rect x="610.5" y="245.8" width="11" height="10.9" rx="1.5" fill="#d8d9da" stroke="none" stroke-width="1" />
<rect x="622.63" y="245.6" width="11.4" height="11.3" rx="2.2" fill="#4d9d7a" stroke="#2c5040" stroke-width="0.8" />
<rect x="634.96" y="245.6" width="11.4" height="11.3" rx="2.2" fill="#4d9d7a" stroke="#2c5040" stroke-width="0.8" />
<rect x="647.29" y="245.6" width="11.4" height="11.3" rx="2.2" fill="#4d9d7a" stroke="#2c5040" stroke-width="0.8" />
<rect x="659.82" y="245.8" width="11" height="10.9" rx="1.5" fill="#d8d9da" stroke="none" stroke-width="1" />
<rect x="672.15" y="245.8" width="11" height="10.9" rx="1.5" fill="#d8d9da" stroke="none" stroke-width="1" />
<rect x="610.5" y="258" width="11" height="10.9" rx="1.5" fill="#d8d9da" stroke="none" stroke-width="1" />
<rect x="622.83" y="258" width="11" height="10.9" rx="1.5" fill="#d8d9da" stroke="none" stroke-width="1" />
<rect x="634.96" y="257.8" width="11.4" height="11.3" rx="2.2" fill="#4d9d7a" stroke="#2c5040" stroke-width="0.8" />
<rect x="647.29" y="257.8" width="11.4" height="11.3" rx="2.2" fill="#4d9d7a" stroke="#2c5040" stroke-width="0.8" />
<rect x="659.62" y="257.8" width="11.4" height="11.3" rx="2.2" fill="#4d9d7a" stroke="#2c5040" stroke-width="0.8" />
<rect x="672.15" y="258" width="11" height="10.9" rx="1.5" fill="#d8d9da" stroke="none" stroke-width="1" />
<rect x="610.5" y="270.2" width="11" height="10.9" rx="1.5" fill="#d8d9da" stroke="none" stroke-width="1" />
<rect x="622.83" y="270.2" width="11" height="10.9" rx="1.5" fill="#d8d9da" stroke="none" stroke-width="1" />
<rect x="635.16" y="270.2" width="11" height="10.9" rx="1.5" fill="#d8d9da" stroke="none" stroke-width="1" />
<rect x="647.29" y="270" width="11.4" height="11.3" rx="2.2" fill="#4d9d7a" stroke="#2c5040" stroke-width="0.8" />
<rect x="659.62" y="270" width="11.4" height="11.3" rx="2.2" fill="#4d9d7a" stroke="#2c5040" stroke-width="0.8" />
<rect x="671.95" y="270" width="11.4" height="11.3" rx="2.2" fill="#4d9d7a" stroke="#2c5040" stroke-width="0.8" />
<text x="601" y="206.8" font-size="8.5" text-anchor="start" fill="#333" font-family='"Liberation Serif", serif' font-weight="normal" font-style="italic" >G</text>
<text x="607" y="209" font-size="5.2" text-anchor="start" fill="#333" font-family='"Liberation Serif", serif' font-weight="normal" font-style="italic" >t−T</text>
<text x="673.8" y="206.8" font-size="8.5" text-anchor="start" fill="#333" font-family='"Liberation Serif", serif' font-weight="normal" font-style="italic" >G</text>
<text x="679.8" y="209" font-size="5.2" text-anchor="start" fill="#333" font-family='"Liberation Serif", serif' font-weight="normal" font-style="italic" >t</text>
<text x="601" y="278.8" font-size="8.5" text-anchor="start" fill="#333" font-family='"Liberation Serif", serif' font-weight="normal" font-style="italic" >G</text>
<text x="607" y="281" font-size="5.2" text-anchor="start" fill="#333" font-family='"Liberation Serif", serif' font-weight="normal" font-style="italic" >t</text>
<polyline points="628.8,203.8 664.8,203.8" stroke="#8a8a8a" stroke-width="0.7" fill="none" stroke-linejoin="miter" />
<polyline points="662.4,205.4 664.8,203.8 662.4,202.2" stroke="#8a8a8a" stroke-width="0.7" fill="none" stroke-linejoin="miter" />
<polyline points="605.7,227.3 605.7,262.6" stroke="#8a8a8a" stroke-width="0.7" fill="none" stroke-linejoin="miter" />
<polyline points="604.1,260.2 605.7,262.6 607.3,260.2" stroke="#8a8a8a" stroke-width="0.7" fill="none" stroke-linejoin="miter" />
<text x="0.8" y="299.8" font-size="13.5" text-anchor="start" fill="#222" font-family='"Liberation Sans", sans-serif' font-weight="normal" font-style="normal" >C</text>
<rect x="16.4" y="289.8" width="181" height="180" rx="0" fill="#fff" stroke="#1e1e1e" stroke-width="1.3" />
<rect x="211.6" y="289.8" width="180.8" height="180" rx="0" fill="#fff" stroke="#1e1e1e" stroke-width="1.3" />
<circle cx="78.2" cy="342.3" r="18.2" fill="#f3c6da" stroke="#e8447a" stroke-width="0.8" stroke-dasharray="1 1.1"/>
<path d="M260.2,444 C261,436.5 298,436.5 314,438.6 C326,440.5 327,451 320,458 C313,465 300,466.5 292,462.5 C282,457 261,452 260.2,444 Z" fill="#f3c6da" stroke="#e8447a" stroke-width="0.8" stroke-dasharray="1 1.1"/>
<circle cx="181.7" cy="297.5" r="2.5" fill="#8dd3ef" stroke="#5cc0e8" stroke-width="0.6" fill-opacity="0.95"/>
<circle cx="159.3" cy="298.7" r="2.5" fill="#8dd3ef" stroke="#5cc0e8" stroke-width="0.6" fill-opacity="0.95"/>
<circle cx="164" cy="313.2" r="2.5" fill="#8dd3ef" stroke="#5cc0e8" stroke-width="0.6" fill-opacity="0.95"/>
<circle cx="144.7" cy="320.2" r="2.5" fill="#8dd3ef" stroke="#5cc0e8" stroke-width="0.6" fill-opacity="0.95"/>
<circle cx="178.3" cy="318.7" r="2.5" fill="#8dd3ef" stroke="#5cc0e8" stroke-width="0.6" fill-opacity="0.95"/>
<circle cx="51.8" cy="334.5" r="2.5" fill="#8dd3ef" stroke="#5cc0e8" stroke-width="0.6" fill-opacity="0.95"/>
<circle cx="77.1" cy="340.1" r="2.5" fill="#8dd3ef" stroke="#5cc0e8" stroke-width="0.6" fill-opacity="0.95"/>
<circle cx="65.3" cy="347.3" r="2.5" fill="#8dd3ef" stroke="#5cc0e8" stroke-width="0.6" fill-opacity="0.95"/>
<circle cx="97.2" cy="346" r="2.5" fill="#8dd3ef" stroke="#5cc0e8" stroke-width="0.6" fill-opacity="0.95"/>
<circle cx="183.7" cy="348" r="2.5" fill="#8dd3ef" stroke="#5cc0e8" stroke-width="0.6" fill-opacity="0.95"/>
<circle cx="134" cy="358" r="2.5" fill="#8dd3ef" stroke="#5cc0e8" stroke-width="0.6" fill-opacity="0.95"/>
<circle cx="131.9" cy="360.9" r="2.5" fill="#8dd3ef" stroke="#5cc0e8" stroke-width="0.6" fill-opacity="0.95"/>
<circle cx="134.8" cy="365.3" r="2.5" fill="#8dd3ef" stroke="#5cc0e8" stroke-width="0.6" fill-opacity="0.95"/>
<circle cx="76" cy="360.5" r="2.5" fill="#8dd3ef" stroke="#5cc0e8" stroke-width="0.6" fill-opacity="0.95"/>
<circle cx="36.5" cy="367.2" r="2.5" fill="#8dd3ef" stroke="#5cc0e8" stroke-width="0.6" fill-opacity="0.95"/>
<circle cx="39.4" cy="370.8" r="2.5" fill="#8dd3ef" stroke="#5cc0e8" stroke-width="0.6" fill-opacity="0.95"/>
<circle cx="46.3" cy="375.1" r="2.5" fill="#8dd3ef" stroke="#5cc0e8" stroke-width="0.6" fill-opacity="0.95"/>
<circle cx="24.3" cy="381.1" r="2.5" fill="#8dd3ef" stroke="#5cc0e8" stroke-width="0.6" fill-opacity="0.95"/>
<circle cx="107.5" cy="366.5" r="2.5" fill="#8dd3ef" stroke="#5cc0e8" stroke-width="0.6" fill-opacity="0.95"/>
<circle cx="112.4" cy="367.8" r="2.5" fill="#8dd3ef" stroke="#5cc0e8" stroke-width="0.6" fill-opacity="0.95"/>
<circle cx="95.3" cy="373.4" r="2.5" fill="#8dd3ef" stroke="#5cc0e8" stroke-width="0.6" fill-opacity="0.95"/>
<circle cx="89.3" cy="375.1" r="2.5" fill="#8dd3ef" stroke="#5cc0e8" stroke-width="0.6" fill-opacity="0.95"/>
<circle cx="125.6" cy="368.2" r="2.5" fill="#8dd3ef" stroke="#5cc0e8" stroke-width="0.6" fill-opacity="0.95"/>
<circle cx="130" cy="380.2" r="2.5" fill="#8dd3ef" stroke="#5cc0e8" stroke-width="0.6" fill-opacity="0.95"/>
<circle cx="142.2" cy="382.6" r="2.5" fill="#8dd3ef" stroke="#5cc0e8" stroke-width="0.6" fill-opacity="0.95"/>
<circle cx="94.4" cy="387.1" r="2.5" fill="#8dd3ef" stroke="#5cc0e8" stroke-width="0.6" fill-opacity="0.95"/>
<circle cx="131.8" cy="385.5" r="2.5" fill="#8dd3ef" stroke="#5cc0e8" stroke-width="0.6" fill-opacity="0.95"/>
<circle cx="189" cy="403.3" r="2.5" fill="#8dd3ef" stroke="#5cc0e8" stroke-width="0.6" fill-opacity="0.95"/>
<circle cx="188" cy="403.8" r="2.5" fill="#8dd3ef" stroke="#5cc0e8" stroke-width="0.6" fill-opacity="0.95"/>
<circle cx="140.8" cy="409.2" r="2.5" fill="#8dd3ef" stroke="#5cc0e8" stroke-width="0.6" fill-opacity="0.95"/>
<circle cx="160.2" cy="413.6" r="2.5" fill="#8dd3ef" stroke="#5cc0e8" stroke-width="0.6" fill-opacity="0.95"/>
<circle cx="115.5" cy="413.6" r="2.5" fill="#8dd3ef" stroke="#5cc0e8" stroke-width="0.6" fill-opacity="0.95"/>
<circle cx="123.1" cy="414.4" r="2.5" fill="#8dd3ef" stroke="#5cc0e8" stroke-width="0.6" fill-opacity="0.95"/>
<circle cx="134.9" cy="413.9" r="2.5" fill="#8dd3ef" stroke="#5cc0e8" stroke-width="0.6" fill-opacity="0.95"/>
<circle cx="98.7" cy="418.3" r="2.5" fill="#8dd3ef" stroke="#5cc0e8" stroke-width="0.6" fill-opacity="0.95"/>
<circle cx="73.8" cy="413.1" r="2.5" fill="#8dd3ef" stroke="#5cc0e8" stroke-width="0.6" fill-opacity="0.95"/>
<circle cx="120.3" cy="426.2" r="2.5" fill="#8dd3ef" stroke="#5cc0e8" stroke-width="0.6" fill-opacity="0.95"/>
<circle cx="56.9" cy="429.9" r="2.5" fill="#8dd3ef" stroke="#5cc0e8" stroke-width="0.6" fill-opacity="0.95"/>
<circle cx="106.6" cy="431.2" r="2.5" fill="#8dd3ef" stroke="#5cc0e8" stroke-width="0.6" fill-opacity="0.95"/>
<circle cx="106.6" cy="436" r="2.5" fill="#8dd3ef" stroke="#5cc0e8" stroke-width="0.6" fill-opacity="0.95"/>
<circle cx="124.7" cy="433.3" r="2.5" fill="#8dd3ef" stroke="#5cc0e8" stroke-width="0.6" fill-opacity="0.95"/>
<circle cx="88.5" cy="441.8" r="2.5" fill="#8dd3ef" stroke="#5cc0e8" stroke-width="0.6" fill-opacity="0.95"/>
<circle cx="119.2" cy="443.5" r="2.5" fill="#8dd3ef" stroke="#5cc0e8" stroke-width="0.6" fill-opacity="0.95"/>
<circle cx="166.5" cy="436.4" r="2.5" fill="#8dd3ef" stroke="#5cc0e8" stroke-width="0.6" fill-opacity="0.95"/>
<circle cx="106.6" cy="448.1" r="2.5" fill="#8dd3ef" stroke="#5cc0e8" stroke-width="0.6" fill-opacity="0.95"/>
<circle cx="123.4" cy="455.4" r="2.5" fill="#8dd3ef" stroke="#5cc0e8" stroke-width="0.6" fill-opacity="0.95"/>
<circle cx="143.3" cy="461.7" r="2.5" fill="#8dd3ef" stroke="#5cc0e8" stroke-width="0.6" fill-opacity="0.95"/>
<circle cx="325.9" cy="297.5" r="2.5" fill="#8dd3ef" stroke="#5cc0e8" stroke-width="0.6" fill-opacity="0.95"/>
<circle cx="311.2" cy="298.7" r="2.5" fill="#8dd3ef" stroke="#5cc0e8" stroke-width="0.6" fill-opacity="0.95"/>
<circle cx="253.5" cy="307.1" r="2.5" fill="#8dd3ef" stroke="#5cc0e8" stroke-width="0.6" fill-opacity="0.95"/>
<circle cx="267.2" cy="306.3" r="2.5" fill="#8dd3ef" stroke="#5cc0e8" stroke-width="0.6" fill-opacity="0.95"/>
<circle cx="244.9" cy="315.6" r="2.5" fill="#8dd3ef" stroke="#5cc0e8" stroke-width="0.6" fill-opacity="0.95"/>
<circle cx="219.5" cy="321" r="2.5" fill="#8dd3ef" stroke="#5cc0e8" stroke-width="0.6" fill-opacity="0.95"/>
<circle cx="248.4" cy="333.5" r="2.5" fill="#8dd3ef" stroke="#5cc0e8" stroke-width="0.6" fill-opacity="0.95"/>
<circle cx="252.5" cy="334.6" r="2.5" fill="#8dd3ef" stroke="#5cc0e8" stroke-width="0.6" fill-opacity="0.95"/>
<circle cx="235.2" cy="338.1" r="2.5" fill="#8dd3ef" stroke="#5cc0e8" stroke-width="0.6" fill-opacity="0.95"/>
<circle cx="241.1" cy="337.1" r="2.5" fill="#8dd3ef" stroke="#5cc0e8" stroke-width="0.6" fill-opacity="0.95"/>
<circle cx="235.2" cy="347.4" r="2.5" fill="#8dd3ef" stroke="#5cc0e8" stroke-width="0.6" fill-opacity="0.95"/>
<circle cx="265" cy="353.2" r="2.5" fill="#8dd3ef" stroke="#5cc0e8" stroke-width="0.6" fill-opacity="0.95"/>
<circle cx="287.7" cy="343.4" r="2.5" fill="#8dd3ef" stroke="#5cc0e8" stroke-width="0.6" fill-opacity="0.95"/>
<circle cx="236.4" cy="367.2" r="2.5" fill="#8dd3ef" stroke="#5cc0e8" stroke-width="0.6" fill-opacity="0.95"/>
<circle cx="262.8" cy="375.5" r="2.5" fill="#8dd3ef" stroke="#5cc0e8" stroke-width="0.6" fill-opacity="0.95"/>
<circle cx="303.8" cy="360.3" r="2.5" fill="#8dd3ef" stroke="#5cc0e8" stroke-width="0.6" fill-opacity="0.95"/>
<circle cx="295.3" cy="371.6" r="2.5" fill="#8dd3ef" stroke="#5cc0e8" stroke-width="0.6" fill-opacity="0.95"/>
<circle cx="331.4" cy="330.5" r="2.5" fill="#8dd3ef" stroke="#5cc0e8" stroke-width="0.6" fill-opacity="0.95"/>
<circle cx="337.3" cy="331.3" r="2.5" fill="#8dd3ef" stroke="#5cc0e8" stroke-width="0.6" fill-opacity="0.95"/>
<circle cx="342.7" cy="337.4" r="2.5" fill="#8dd3ef" stroke="#5cc0e8" stroke-width="0.6" fill-opacity="0.95"/>
<circle cx="354.2" cy="336.8" r="2.5" fill="#8dd3ef" stroke="#5cc0e8" stroke-width="0.6" fill-opacity="0.95"/>
<circle cx="325.1" cy="345.2" r="2.5" fill="#8dd3ef" stroke="#5cc0e8" stroke-width="0.6" fill-opacity="0.95"/>
<circle cx="310.5" cy="351.8" r="2.5" fill="#8dd3ef" stroke="#5cc0e8" stroke-width="0.6" fill-opacity="0.95"/>
<circle cx="348.3" cy="350.8" r="2.5" fill="#8dd3ef" stroke="#5cc0e8" stroke-width="0.6" fill-opacity="0.95"/>
<circle cx="352.5" cy="358.1" r="2.5" fill="#8dd3ef" stroke="#5cc0e8" stroke-width="0.6" fill-opacity="0.95"/>
<circle cx="375" cy="358.8" r="2.5" fill="#8dd3ef" stroke="#5cc0e8" stroke-width="0.6" fill-opacity="0.95"/>
<circle cx="383.3" cy="360.1" r="2.5" fill="#8dd3ef" stroke="#5cc0e8" stroke-width="0.6" fill-opacity="0.95"/>
<circle cx="374.2" cy="360.6" r="2.5" fill="#8dd3ef" stroke="#5cc0e8" stroke-width="0.6" fill-opacity="0.95"/>
<circle cx="384.5" cy="365.7" r="2.5" fill="#8dd3ef" stroke="#5cc0e8" stroke-width="0.6" fill-opacity="0.95"/>
<circle cx="379.1" cy="369.1" r="2.5" fill="#8dd3ef" stroke="#5cc0e8" stroke-width="0.6" fill-opacity="0.95"/>
<circle cx="309" cy="358.1" r="2.5" fill="#8dd3ef" stroke="#5cc0e8" stroke-width="0.6" fill-opacity="0.95"/>
<circle cx="352" cy="366.4" r="2.5" fill="#8dd3ef" stroke="#5cc0e8" stroke-width="0.6" fill-opacity="0.95"/>
<circle cx="345.6" cy="378.2" r="2.5" fill="#8dd3ef" stroke="#5cc0e8" stroke-width="0.6" fill-opacity="0.95"/>
<circle cx="377.4" cy="387.9" r="2.5" fill="#8dd3ef" stroke="#5cc0e8" stroke-width="0.6" fill-opacity="0.95"/>
<circle cx="290.1" cy="383.6" r="2.5" fill="#8dd3ef" stroke="#5cc0e8" stroke-width="0.6" fill-opacity="0.95"/>
<circle cx="317.2" cy="390.8" r="2.5" fill="#8dd3ef" stroke="#5cc0e8" stroke-width="0.6" fill-opacity="0.95"/>
<circle cx="250.2" cy="390.8" r="2.5" fill="#8dd3ef" stroke="#5cc0e8" stroke-width="0.6" fill-opacity="0.95"/>
<circle cx="271.3" cy="406.2" r="2.5" fill="#8dd3ef" stroke="#5cc0e8" stroke-width="0.6" fill-opacity="0.95"/>
<circle cx="339.1" cy="404.3" r="2.5" fill="#8dd3ef" stroke="#5cc0e8" stroke-width="0.6" fill-opacity="0.95"/>
<circle cx="328.4" cy="407.9" r="2.5" fill="#8dd3ef" stroke="#5cc0e8" stroke-width="0.6" fill-opacity="0.95"/>
<circle cx="292.3" cy="415.2" r="2.5" fill="#8dd3ef" stroke="#5cc0e8" stroke-width="0.6" fill-opacity="0.95"/>
<circle cx="274.6" cy="419.7" r="2.5" fill="#8dd3ef" stroke="#5cc0e8" stroke-width="0.6" fill-opacity="0.95"/>
<circle cx="350.4" cy="417.7" r="2.5" fill="#8dd3ef" stroke="#5cc0e8" stroke-width="0.6" fill-opacity="0.95"/>
<circle cx="325.3" cy="424" r="2.5" fill="#8dd3ef" stroke="#5cc0e8" stroke-width="0.6" fill-opacity="0.95"/>
<circle cx="322.4" cy="433.9" r="2.5" fill="#8dd3ef" stroke="#5cc0e8" stroke-width="0.6" fill-opacity="0.95"/>
<circle cx="344" cy="446.3" r="2.5" fill="#8dd3ef" stroke="#5cc0e8" stroke-width="0.6" fill-opacity="0.95"/>
<circle cx="314.9" cy="454.9" r="2.5" fill="#8dd3ef" stroke="#5cc0e8" stroke-width="0.6" fill-opacity="0.95"/>
<circle cx="296.9" cy="461.2" r="2.5" fill="#8dd3ef" stroke="#5cc0e8" stroke-width="0.6" fill-opacity="0.95"/>
<circle cx="71.4" cy="338.3" r="2.5" fill="#e8447a" stroke="#f07aa0" stroke-width="0.5"/>
<circle cx="71.5" cy="350.5" r="2.5" fill="#e8447a" stroke="#f07aa0" stroke-width="0.5"/>
<circle cx="286.1" cy="448.4" r="2.5" fill="#e8447a" stroke="#f07aa0" stroke-width="0.5"/>
<circle cx="300.1" cy="454" r="2.5" fill="#e8447a" stroke="#f07aa0" stroke-width="0.5"/>
<clipPath id="cl1"><rect x="16.4" y="289.8" width="181" height="180"/></clipPath>
<clipPath id="cl2"><rect x="211.6" y="289.8" width="180.8" height="180"/></clipPath>
<g clip-path="url(#cl1)">
<text x="153.4" y="296.17" font-size="5.75" text-anchor="start" fill="#000" font-family='"Liberation Sans", sans-serif' font-weight="normal" font-style="normal" textLength="27.4" lengthAdjust="spacingAndGlyphs" >parking_lot</text>
<text x="160" y="303.97" font-size="5.75" text-anchor="start" fill="#000" font-family='"Liberation Sans", sans-serif' font-weight="normal" font-style="normal" textLength="26.4" lengthAdjust="spacingAndGlyphs" >food_truck</text>
<text x="165.2" y="311.77" font-size="5.75" text-anchor="start" fill="#000" font-family='"Liberation Sans", sans-serif' font-weight="normal" font-style="normal" textLength="24.4" lengthAdjust="spacingAndGlyphs" >guard_rail</text>
<text x="119" y="318.57" font-size="5.75" text-anchor="start" fill="#000" font-family='"Liberation Sans", sans-serif' font-weight="normal" font-style="normal" textLength="24.6" lengthAdjust="spacingAndGlyphs" >crosswalk</text>
<text x="149.8" y="324.07" font-size="5.75" text-anchor="start" fill="#000" font-family='"Liberation Sans", sans-serif' font-weight="normal" font-style="normal" textLength="27.8" lengthAdjust="spacingAndGlyphs" >street_sign</text>
<text x="52.5" y="333.07" font-size="5.75" text-anchor="start" fill="#000" font-family='"Liberation Sans", sans-serif' font-weight="normal" font-style="normal" textLength="8.3" lengthAdjust="spacingAndGlyphs" >fish</text>
<text x="78.9" y="347.07" font-size="5.75" text-anchor="start" fill="#000" font-family='"Liberation Sans", sans-serif' font-weight="normal" font-style="normal" textLength="8.3" lengthAdjust="spacingAndGlyphs" >kite</text>
<text x="51.8" y="348.07" font-size="5.75" text-anchor="start" fill="#000" font-family='"Liberation Sans", sans-serif' font-weight="normal" font-style="normal" textLength="10.2" lengthAdjust="spacingAndGlyphs" >frog</text>
<text x="98" y="344.47" font-size="5.75" text-anchor="start" fill="#000" font-family='"Liberation Sans", sans-serif' font-weight="normal" font-style="normal" textLength="15.2" lengthAdjust="spacingAndGlyphs" >flower</text>
<text x="162.2" y="346.47" font-size="5.75" text-anchor="start" fill="#000" font-family='"Liberation Sans", sans-serif' font-weight="normal" font-style="normal" textLength="20.5" lengthAdjust="spacingAndGlyphs" >billboard</text>
<text x="134.8" y="352.27" font-size="5.75" text-anchor="start" fill="#000" font-family='"Liberation Sans", sans-serif' font-weight="normal" font-style="normal" textLength="23" lengthAdjust="spacingAndGlyphs" >mountain</text>
<text x="123.1" y="357.17" font-size="5.75" text-anchor="start" fill="#000" font-family='"Liberation Sans", sans-serif' font-weight="normal" font-style="normal" textLength="10.9" lengthAdjust="spacingAndGlyphs" >river</text>
<text x="135.1" y="363.57" font-size="5.75" text-anchor="start" fill="#000" font-family='"Liberation Sans", sans-serif' font-weight="normal" font-style="normal" textLength="10.3" lengthAdjust="spacingAndGlyphs" >lake</text>
<text x="107" y="361.77" font-size="5.75" text-anchor="start" fill="#000" font-family='"Liberation Sans", sans-serif' font-weight="normal" font-style="normal" textLength="17.2" lengthAdjust="spacingAndGlyphs" >garden</text>
<text x="65.9" y="365.67" font-size="5.75" text-anchor="start" fill="#000" font-family='"Liberation Sans", sans-serif' font-weight="normal" font-style="normal" textLength="9.1" lengthAdjust="spacingAndGlyphs" >tree</text>
<text x="27.2" y="364.97" font-size="5.75" text-anchor="start" fill="#000" font-family='"Liberation Sans", sans-serif' font-weight="normal" font-style="normal" textLength="7.6" lengthAdjust="spacingAndGlyphs" >cat</text>
<text x="30.8" y="377.17" font-size="5.75" text-anchor="start" fill="#000" font-family='"Liberation Sans", sans-serif' font-weight="normal" font-style="normal" textLength="9.3" lengthAdjust="spacingAndGlyphs" >dog</text>
<text x="43" y="381.77" font-size="5.75" text-anchor="start" fill="#000" font-family='"Liberation Sans", sans-serif' font-weight="normal" font-style="normal" textLength="15.8" lengthAdjust="spacingAndGlyphs" >animal</text>
<text x="19.7" y="388.67" font-size="5.75" text-anchor="start" fill="#000" font-family='"Liberation Sans", sans-serif' font-weight="normal" font-style="normal" textLength="12.2" lengthAdjust="spacingAndGlyphs" >baby</text>
<text x="78.1" y="367.07" font-size="5.75" text-anchor="start" fill="#000" font-family='"Liberation Sans", sans-serif' font-weight="normal" font-style="normal" textLength="26.6" lengthAdjust="spacingAndGlyphs" >monument</text>
<text x="71.2" y="372.17" font-size="5.75" text-anchor="start" fill="#000" font-family='"Liberation Sans", sans-serif' font-weight="normal" font-style="normal" textLength="22.7" lengthAdjust="spacingAndGlyphs" >sculpture</text>
<text x="71" y="381.47" font-size="5.75" text-anchor="start" fill="#000" font-family='"Liberation Sans", sans-serif' font-weight="normal" font-style="normal" textLength="19.8" lengthAdjust="spacingAndGlyphs" >painting</text>
<text x="102.2" y="374.27" font-size="5.75" text-anchor="start" fill="#000" font-family='"Liberation Sans", sans-serif' font-weight="normal" font-style="normal" textLength="19.8" lengthAdjust="spacingAndGlyphs" >fountain</text>
<text x="126" y="374.27" font-size="5.75" text-anchor="start" fill="#000" font-family='"Liberation Sans", sans-serif' font-weight="normal" font-style="normal" textLength="12.8" lengthAdjust="spacingAndGlyphs" >pond</text>
<text x="112" y="380.57" font-size="5.75" text-anchor="start" fill="#000" font-family='"Liberation Sans", sans-serif' font-weight="normal" font-style="normal" textLength="15.1" lengthAdjust="spacingAndGlyphs" >bridge</text>
<text x="142.9" y="380.57" font-size="5.75" text-anchor="start" fill="#000" font-family='"Liberation Sans", sans-serif' font-weight="normal" font-style="normal" textLength="10.5" lengthAdjust="spacingAndGlyphs" >boat</text>
<text x="97.6" y="390.77" font-size="5.75" text-anchor="start" fill="#000" font-family='"Liberation Sans", sans-serif' font-weight="normal" font-style="normal" textLength="19.2" lengthAdjust="spacingAndGlyphs" >building</text>
<text x="131.8" y="391.17" font-size="5.75" text-anchor="start" fill="#000" font-family='"Liberation Sans", sans-serif' font-weight="normal" font-style="normal" textLength="11.8" lengthAdjust="spacingAndGlyphs" >dock</text>
<text x="177" y="401.77" font-size="5.75" text-anchor="start" fill="#000" font-family='"Liberation Sans", sans-serif' font-weight="normal" font-style="normal" textLength="10.7" lengthAdjust="spacingAndGlyphs" >map</text>
<text x="181.1" y="409.17" font-size="5.75" text-anchor="start" fill="#000" font-family='"Liberation Sans", sans-serif' font-weight="normal" font-style="normal" textLength="14.7" lengthAdjust="spacingAndGlyphs" >poster</text>
<text x="141.2" y="407.57" font-size="5.75" text-anchor="start" fill="#000" font-family='"Liberation Sans", sans-serif' font-weight="normal" font-style="normal" textLength="16.6" lengthAdjust="spacingAndGlyphs" >barrier</text>
<text x="162.8" y="413.17" font-size="5.75" text-anchor="start" fill="#000" font-family='"Liberation Sans", sans-serif' font-weight="normal" font-style="normal" textLength="12.6" lengthAdjust="spacingAndGlyphs" >table</text>
<text x="92.8" y="411.27" font-size="5.75" text-anchor="start" fill="#000" font-family='"Liberation Sans", sans-serif' font-weight="normal" font-style="normal" textLength="21.6" lengthAdjust="spacingAndGlyphs" >walkway</text>
<text x="118.4" y="410.97" font-size="5.75" text-anchor="start" fill="#000" font-family='"Liberation Sans", sans-serif' font-weight="normal" font-style="normal" textLength="11" lengthAdjust="spacingAndGlyphs" >gate</text>
<text x="137" y="418.67" font-size="5.75" text-anchor="start" fill="#000" font-family='"Liberation Sans", sans-serif' font-weight="normal" font-style="normal" textLength="14.2" lengthAdjust="spacingAndGlyphs" >fence</text>
<text x="101.4" y="420.37" font-size="5.75" text-anchor="start" fill="#000" font-family='"Liberation Sans", sans-serif' font-weight="normal" font-style="normal" textLength="15.1" lengthAdjust="spacingAndGlyphs" >crowd</text>
<text x="74.1" y="411.57" font-size="5.75" text-anchor="start" fill="#000" font-family='"Liberation Sans", sans-serif' font-weight="normal" font-style="normal" textLength="10.9" lengthAdjust="spacingAndGlyphs" >stair</text>
<text x="120" y="424.37" font-size="5.75" text-anchor="start" fill="#000" font-family='"Liberation Sans", sans-serif' font-weight="normal" font-style="normal" textLength="20.8" lengthAdjust="spacingAndGlyphs" >archway</text>
<text x="57.3" y="428.47" font-size="5.75" text-anchor="start" fill="#000" font-family='"Liberation Sans", sans-serif' font-weight="normal" font-style="normal" textLength="5.8" lengthAdjust="spacingAndGlyphs" >ad</text>
<text x="85" y="430.37" font-size="5.75" text-anchor="start" fill="#000" font-family='"Liberation Sans", sans-serif' font-weight="normal" font-style="normal" textLength="19" lengthAdjust="spacingAndGlyphs" >hallway</text>
<text x="125" y="431.77" font-size="5.75" text-anchor="start" fill="#000" font-family='"Liberation Sans", sans-serif' font-weight="normal" font-style="normal" textLength="11.5" lengthAdjust="spacingAndGlyphs" >door</text>
<text x="79.3" y="440.27" font-size="5.75" text-anchor="start" fill="#000" font-family='"Liberation Sans", sans-serif' font-weight="normal" font-style="normal" textLength="8.6" lengthAdjust="spacingAndGlyphs" >grill</text>
<text x="94.1" y="442.67" font-size="5.75" text-anchor="start" fill="#000" font-family='"Liberation Sans", sans-serif' font-weight="normal" font-style="normal" textLength="22.7" lengthAdjust="spacingAndGlyphs" >driveway</text>
<text x="122" y="442.77" font-size="5.75" text-anchor="start" fill="#000" font-family='"Liberation Sans", sans-serif' font-weight="normal" font-style="normal" textLength="24" lengthAdjust="spacingAndGlyphs" >backpack</text>
<text x="166.9" y="435.17" font-size="5.75" text-anchor="start" fill="#000" font-family='"Liberation Sans", sans-serif' font-weight="normal" font-style="normal" textLength="12.2" lengthAdjust="spacingAndGlyphs" >bush</text>
<text x="106.2" y="454.27" font-size="5.75" text-anchor="start" fill="#000" font-family='"Liberation Sans", sans-serif' font-weight="normal" font-style="normal" textLength="12.7" lengthAdjust="spacingAndGlyphs" >chair</text>
<text x="123.9" y="453.77" font-size="5.75" text-anchor="start" fill="#000" font-family='"Liberation Sans", sans-serif' font-weight="normal" font-style="normal" textLength="20" lengthAdjust="spacingAndGlyphs" >shadow</text>
<text x="143.9" y="466.87" font-size="5.75" text-anchor="start" fill="#000" font-family='"Liberation Sans", sans-serif' font-weight="normal" font-style="normal" textLength="9.2" lengthAdjust="spacingAndGlyphs" >sun</text>
</g><g clip-path="url(#cl2)">
<text x="326.2" y="296.27" font-size="5.75" text-anchor="start" fill="#000" font-family='"Liberation Sans", sans-serif' font-weight="normal" font-style="normal" textLength="8.5" lengthAdjust="spacingAndGlyphs" >grill</text>
<text x="311.9" y="304.27" font-size="5.75" text-anchor="start" fill="#000" font-family='"Liberation Sans", sans-serif' font-weight="normal" font-style="normal" textLength="15.4" lengthAdjust="spacingAndGlyphs" >barrier</text>
<text x="233.5" y="305.87" font-size="5.75" text-anchor="start" fill="#000" font-family='"Liberation Sans", sans-serif' font-weight="normal" font-style="normal" textLength="19.8" lengthAdjust="spacingAndGlyphs" >painting</text>
<text x="267.9" y="305.07" font-size="5.75" text-anchor="start" fill="#000" font-family='"Liberation Sans", sans-serif' font-weight="normal" font-style="normal" textLength="20.5" lengthAdjust="spacingAndGlyphs" >archway</text>
<text x="245.6" y="314.27" font-size="5.75" text-anchor="start" fill="#000" font-family='"Liberation Sans", sans-serif' font-weight="normal" font-style="normal" textLength="18.7" lengthAdjust="spacingAndGlyphs" >hallway</text>
<text x="220.3" y="319.67" font-size="5.75" text-anchor="start" fill="#000" font-family='"Liberation Sans", sans-serif' font-weight="normal" font-style="normal" textLength="5.8" lengthAdjust="spacingAndGlyphs" >ad</text>
<text x="244.9" y="328.17" font-size="5.75" text-anchor="start" fill="#000" font-family='"Liberation Sans", sans-serif' font-weight="normal" font-style="normal" textLength="22.3" lengthAdjust="spacingAndGlyphs" >driveway</text>
<text x="252.5" y="333.37" font-size="5.75" text-anchor="start" fill="#000" font-family='"Liberation Sans", sans-serif' font-weight="normal" font-style="normal" textLength="7.4" lengthAdjust="spacingAndGlyphs" >cat</text>
<text x="213.7" y="336.27" font-size="5.75" text-anchor="start" fill="#000" font-family='"Liberation Sans", sans-serif' font-weight="normal" font-style="normal" textLength="26.4" lengthAdjust="spacingAndGlyphs" >monument</text>
<text x="236.1" y="342.87" font-size="5.75" text-anchor="start" fill="#000" font-family='"Liberation Sans", sans-serif' font-weight="normal" font-style="normal" textLength="27.9" lengthAdjust="spacingAndGlyphs" >street_sign</text>
<text x="236.1" y="352.37" font-size="5.75" text-anchor="start" fill="#000" font-family='"Liberation Sans", sans-serif' font-weight="normal" font-style="normal" textLength="26" lengthAdjust="spacingAndGlyphs" >food_truck</text>
<text x="265" y="358.27" font-size="5.75" text-anchor="start" fill="#000" font-family='"Liberation Sans", sans-serif' font-weight="normal" font-style="normal" textLength="11" lengthAdjust="spacingAndGlyphs" >river</text>
<text x="288.2" y="342.17" font-size="5.75" text-anchor="start" fill="#000" font-family='"Liberation Sans", sans-serif' font-weight="normal" font-style="normal" textLength="17.8" lengthAdjust="spacingAndGlyphs" >garden</text>
<text x="237.1" y="365.87" font-size="5.75" text-anchor="start" fill="#000" font-family='"Liberation Sans", sans-serif' font-weight="normal" font-style="normal" textLength="15.4" lengthAdjust="spacingAndGlyphs" >crowd</text>
<text x="263.1" y="374.07" font-size="5.75" text-anchor="start" fill="#000" font-family='"Liberation Sans", sans-serif' font-weight="normal" font-style="normal" textLength="11.1" lengthAdjust="spacingAndGlyphs" >map</text>
<text x="285.1" y="364.87" font-size="5.75" text-anchor="start" fill="#000" font-family='"Liberation Sans", sans-serif' font-weight="normal" font-style="normal" textLength="17" lengthAdjust="spacingAndGlyphs" >animal</text>
<text x="297.7" y="370.67" font-size="5.75" text-anchor="start" fill="#000" font-family='"Liberation Sans", sans-serif' font-weight="normal" font-style="normal" textLength="28.2" lengthAdjust="spacingAndGlyphs" >parking_lot</text>
<text x="315.3" y="329.37" font-size="5.75" text-anchor="start" fill="#000" font-family='"Liberation Sans", sans-serif' font-weight="normal" font-style="normal" textLength="15.3" lengthAdjust="spacingAndGlyphs" >poster</text>
<text x="337.9" y="329.97" font-size="5.75" text-anchor="start" fill="#000" font-family='"Liberation Sans", sans-serif' font-weight="normal" font-style="normal" textLength="21" lengthAdjust="spacingAndGlyphs" >billboard</text>
<text x="342.3" y="342.17" font-size="5.75" text-anchor="start" fill="#000" font-family='"Liberation Sans", sans-serif' font-weight="normal" font-style="normal" textLength="23.1" lengthAdjust="spacingAndGlyphs" >stair door</text>
<text x="325.6" y="344.07" font-size="5.75" text-anchor="start" fill="#000" font-family='"Liberation Sans", sans-serif' font-weight="normal" font-style="normal" textLength="10.8" lengthAdjust="spacingAndGlyphs" >gate</text>
<text x="310.9" y="350.17" font-size="5.75" text-anchor="start" fill="#000" font-family='"Liberation Sans", sans-serif' font-weight="normal" font-style="normal" textLength="21.1" lengthAdjust="spacingAndGlyphs" >walkway</text>
<text x="349.3" y="349.17" font-size="5.75" text-anchor="start" fill="#000" font-family='"Liberation Sans", sans-serif' font-weight="normal" font-style="normal" textLength="12" lengthAdjust="spacingAndGlyphs" >table</text>
<text x="340.1" y="356.47" font-size="5.75" text-anchor="start" fill="#000" font-family='"Liberation Sans", sans-serif' font-weight="normal" font-style="normal" textLength="11.4" lengthAdjust="spacingAndGlyphs" >chair</text>
<text x="353.4" y="360.17" font-size="5.75" text-anchor="start" fill="#000" font-family='"Liberation Sans", sans-serif' font-weight="normal" font-style="normal" textLength="13.8" lengthAdjust="spacingAndGlyphs" >fence</text>
<text x="368.1" y="354.27" font-size="5.75" text-anchor="start" fill="#000" font-family='"Liberation Sans", sans-serif' font-weight="normal" font-style="normal" textLength="19" lengthAdjust="spacingAndGlyphs" >shadow</text>
<text x="364" y="365.27" font-size="5.75" text-anchor="start" fill="#000" font-family='"Liberation Sans", sans-serif' font-weight="normal" font-style="normal" textLength="18.8" lengthAdjust="spacingAndGlyphs" >building</text>
<text x="383.8" y="370.47" font-size="5.75" text-anchor="start" fill="#000" font-family='"Liberation Sans", sans-serif' font-weight="normal" font-style="normal" textLength="10.2" lengthAdjust="spacingAndGlyphs" >tree</text>
<text x="370.6" y="373.97" font-size="5.75" text-anchor="start" fill="#000" font-family='"Liberation Sans", sans-serif' font-weight="normal" font-style="normal" textLength="12.2" lengthAdjust="spacingAndGlyphs" >bush</text>
<text x="309.7" y="363.37" font-size="5.75" text-anchor="start" fill="#000" font-family='"Liberation Sans", sans-serif' font-weight="normal" font-style="normal" textLength="8.8" lengthAdjust="spacingAndGlyphs" >dog</text>
<text x="328.8" y="365.17" font-size="5.75" text-anchor="start" fill="#000" font-family='"Liberation Sans", sans-serif' font-weight="normal" font-style="normal" textLength="22.7" lengthAdjust="spacingAndGlyphs" >sculpture</text>
<text x="346.4" y="378.07" font-size="5.75" text-anchor="start" fill="#000" font-family='"Liberation Sans", sans-serif' font-weight="normal" font-style="normal" textLength="23.4" lengthAdjust="spacingAndGlyphs" >backpack</text>
<text x="362.5" y="386.07" font-size="5.75" text-anchor="start" fill="#000" font-family='"Liberation Sans", sans-serif' font-weight="normal" font-style="normal" textLength="14.9" lengthAdjust="spacingAndGlyphs" >flower</text>
<text x="291.2" y="382.07" font-size="5.75" text-anchor="start" fill="#000" font-family='"Liberation Sans", sans-serif' font-weight="normal" font-style="normal" textLength="23.7" lengthAdjust="spacingAndGlyphs" >crosswalk</text>
<text x="318.1" y="389.27" font-size="5.75" text-anchor="start" fill="#000" font-family='"Liberation Sans", sans-serif' font-weight="normal" font-style="normal" textLength="22.8" lengthAdjust="spacingAndGlyphs" >mountain</text>
<text x="250.9" y="389.27" font-size="5.75" text-anchor="start" fill="#000" font-family='"Liberation Sans", sans-serif' font-weight="normal" font-style="normal" textLength="25.1" lengthAdjust="spacingAndGlyphs" >guard_rail</text>
<text x="271.7" y="404.77" font-size="5.75" text-anchor="start" fill="#000" font-family='"Liberation Sans", sans-serif' font-weight="normal" font-style="normal" textLength="9.3" lengthAdjust="spacingAndGlyphs" >frog</text>
<text x="339.5" y="402.57" font-size="5.75" text-anchor="start" fill="#000" font-family='"Liberation Sans", sans-serif' font-weight="normal" font-style="normal" textLength="9.5" lengthAdjust="spacingAndGlyphs" >bird</text>
<text x="328.9" y="406.37" font-size="5.75" text-anchor="start" fill="#000" font-family='"Liberation Sans", sans-serif' font-weight="normal" font-style="normal" textLength="9" lengthAdjust="spacingAndGlyphs" >sun</text>
<text x="293" y="413.97" font-size="5.75" text-anchor="start" fill="#000" font-family='"Liberation Sans", sans-serif' font-weight="normal" font-style="normal" textLength="12.4" lengthAdjust="spacingAndGlyphs" >pond</text>
<text x="274.8" y="418.67" font-size="5.75" text-anchor="start" fill="#000" font-family='"Liberation Sans", sans-serif' font-weight="normal" font-style="normal" textLength="12.2" lengthAdjust="spacingAndGlyphs" >baby</text>
<text x="350.8" y="416.17" font-size="5.75" text-anchor="start" fill="#000" font-family='"Liberation Sans", sans-serif' font-weight="normal" font-style="normal" textLength="15.3" lengthAdjust="spacingAndGlyphs" >bridge</text>
<text x="326" y="422.87" font-size="5.75" text-anchor="start" fill="#000" font-family='"Liberation Sans", sans-serif' font-weight="normal" font-style="normal" textLength="8.3" lengthAdjust="spacingAndGlyphs" >kite</text>
<text x="323" y="432.37" font-size="5.75" text-anchor="start" fill="#000" font-family='"Liberation Sans", sans-serif' font-weight="normal" font-style="normal" textLength="19.7" lengthAdjust="spacingAndGlyphs" >fountain</text>
<text x="344.5" y="444.97" font-size="5.75" text-anchor="start" fill="#000" font-family='"Liberation Sans", sans-serif' font-weight="normal" font-style="normal" textLength="10.8" lengthAdjust="spacingAndGlyphs" >boat</text>
<text x="315.3" y="453.37" font-size="5.75" text-anchor="start" fill="#000" font-family='"Liberation Sans", sans-serif' font-weight="normal" font-style="normal" textLength="11.8" lengthAdjust="spacingAndGlyphs" >dock</text>
<text x="297.8" y="465.97" font-size="5.75" text-anchor="start" fill="#000" font-family='"Liberation Sans", sans-serif' font-weight="normal" font-style="normal" textLength="8.1" lengthAdjust="spacingAndGlyphs" >fish</text>
</g>
<text x="69.7" y="334.44" font-size="7.9" text-anchor="start" fill="#e8447a" font-family='"Liberation Sans", sans-serif' font-weight="normal" font-style="normal" textLength="16.4" lengthAdjust="spacingAndGlyphs" >duck</text>
<text x="74.7" y="355.84" font-size="7.9" text-anchor="start" fill="#e8447a" font-family='"Liberation Sans", sans-serif' font-weight="normal" font-style="normal" textLength="13.1" lengthAdjust="spacingAndGlyphs" >bird</text>
<text x="273.4" y="445.14" font-size="7.9" text-anchor="start" fill="#e8447a" font-family='"Liberation Sans", sans-serif' font-weight="normal" font-style="normal" textLength="14.6" lengthAdjust="spacingAndGlyphs" >lake</text>
<text x="298.2" y="450.34" font-size="7.9" text-anchor="start" fill="#e8447a" font-family='"Liberation Sans", sans-serif' font-weight="normal" font-style="normal" textLength="16.4" lengthAdjust="spacingAndGlyphs" >duck</text>
<text x="12.3" y="314.9" font-size="6.4" text-anchor="end" fill="#1e1e1e" font-family='"Liberation Sans", sans-serif' font-weight="normal" font-style="normal" >4</text>
<text x="12.3" y="348.2" font-size="6.4" text-anchor="end" fill="#1e1e1e" font-family='"Liberation Sans", sans-serif' font-weight="normal" font-style="normal" >2</text>
<text x="12.3" y="381.4" font-size="6.4" text-anchor="end" fill="#1e1e1e" font-family='"Liberation Sans", sans-serif' font-weight="normal" font-style="normal" >0</text>
<text x="12.3" y="414.6" font-size="6.4" text-anchor="end" fill="#1e1e1e" font-family='"Liberation Sans", sans-serif' font-weight="normal" font-style="normal" >−2</text>
<text x="12.3" y="447.9" font-size="6.4" text-anchor="end" fill="#1e1e1e" font-family='"Liberation Sans", sans-serif' font-weight="normal" font-style="normal" >−4</text>
<text x="36.5" y="477" font-size="6.4" text-anchor="middle" fill="#1e1e1e" font-family='"Liberation Sans", sans-serif' font-weight="normal" font-style="normal" >4</text>
<text x="56.6" y="477" font-size="6.4" text-anchor="middle" fill="#1e1e1e" font-family='"Liberation Sans", sans-serif' font-weight="normal" font-style="normal" >3</text>
<text x="76.8" y="477" font-size="6.4" text-anchor="middle" fill="#1e1e1e" font-family='"Liberation Sans", sans-serif' font-weight="normal" font-style="normal" >2</text>
<text x="97.1" y="477" font-size="6.4" text-anchor="middle" fill="#1e1e1e" font-family='"Liberation Sans", sans-serif' font-weight="normal" font-style="normal" >1</text>
<text x="117.3" y="477" font-size="6.4" text-anchor="middle" fill="#1e1e1e" font-family='"Liberation Sans", sans-serif' font-weight="normal" font-style="normal" >0</text>
<text x="137.5" y="477" font-size="6.4" text-anchor="middle" fill="#1e1e1e" font-family='"Liberation Sans", sans-serif' font-weight="normal" font-style="normal" >1</text>
<text x="157.7" y="477" font-size="6.4" text-anchor="middle" fill="#1e1e1e" font-family='"Liberation Sans", sans-serif' font-weight="normal" font-style="normal" >2</text>
<text x="177.9" y="477" font-size="6.4" text-anchor="middle" fill="#1e1e1e" font-family='"Liberation Sans", sans-serif' font-weight="normal" font-style="normal" >3</text>
<text x="207.7" y="294.1" font-size="6.4" text-anchor="end" fill="#1e1e1e" font-family='"Liberation Sans", sans-serif' font-weight="normal" font-style="normal" >1</text>
<text x="207.7" y="333.5" font-size="6.4" text-anchor="end" fill="#1e1e1e" font-family='"Liberation Sans", sans-serif' font-weight="normal" font-style="normal" >0</text>
<text x="207.7" y="372.9" font-size="6.4" text-anchor="end" fill="#1e1e1e" font-family='"Liberation Sans", sans-serif' font-weight="normal" font-style="normal" >−1</text>
<text x="207.7" y="412.3" font-size="6.4" text-anchor="end" fill="#1e1e1e" font-family='"Liberation Sans", sans-serif' font-weight="normal" font-style="normal" >−2</text>
<text x="207.7" y="451.7" font-size="6.4" text-anchor="end" fill="#1e1e1e" font-family='"Liberation Sans", sans-serif' font-weight="normal" font-style="normal" >−3</text>
<text x="225.4" y="477" font-size="6.4" text-anchor="middle" fill="#1e1e1e" font-family='"Liberation Sans", sans-serif' font-weight="normal" font-style="normal" >7</text>
<text x="245.5" y="477" font-size="6.4" text-anchor="middle" fill="#1e1e1e" font-family='"Liberation Sans", sans-serif' font-weight="normal" font-style="normal" >6</text>
<text x="265.6" y="477" font-size="6.4" text-anchor="middle" fill="#1e1e1e" font-family='"Liberation Sans", sans-serif' font-weight="normal" font-style="normal" >5</text>
<text x="285.7" y="477" font-size="6.4" text-anchor="middle" fill="#1e1e1e" font-family='"Liberation Sans", sans-serif' font-weight="normal" font-style="normal" >4</text>
<text x="305.8" y="477" font-size="6.4" text-anchor="middle" fill="#1e1e1e" font-family='"Liberation Sans", sans-serif' font-weight="normal" font-style="normal" >3</text>
<text x="325.9" y="477" font-size="6.4" text-anchor="middle" fill="#1e1e1e" font-family='"Liberation Sans", sans-serif' font-weight="normal" font-style="normal" >2</text>
<text x="346" y="477" font-size="6.4" text-anchor="middle" fill="#1e1e1e" font-family='"Liberation Sans", sans-serif' font-weight="normal" font-style="normal" >1</text>
<text x="366.1" y="477" font-size="6.4" text-anchor="middle" fill="#1e1e1e" font-family='"Liberation Sans", sans-serif' font-weight="normal" font-style="normal" >0</text>
<text x="386.2" y="477" font-size="6.4" text-anchor="middle" fill="#1e1e1e" font-family='"Liberation Sans", sans-serif' font-weight="normal" font-style="normal" >1</text>
<text x="397.4" y="299.8" font-size="12.5" text-anchor="start" fill="#222" font-family='"Liberation Sans", sans-serif' font-weight="normal" font-style="normal" >D</text>
<rect x="421.6" y="305.6" width="106.9" height="163.6" rx="0" fill="#fff" stroke="none" stroke-width="1" />
<rect x="428.6" y="424.79" width="11.2" height="44.41" rx="0" fill="#898989" stroke="none" stroke-width="1" />
<rect x="442.9" y="373.38" width="11.1" height="95.82" rx="0" fill="#4a6088" stroke="none" stroke-width="1" />
<rect x="456.7" y="364.03" width="11.2" height="105.17" rx="0" fill="#5bbde0" stroke="none" stroke-width="1" />
<rect x="482.3" y="403.76" width="11.1" height="65.44" rx="0" fill="#898989" stroke="none" stroke-width="1" />
<rect x="496" y="347.67" width="11.1" height="121.53" rx="0" fill="#4a6088" stroke="none" stroke-width="1" />
<rect x="509.9" y="340.66" width="11.3" height="128.54" rx="0" fill="#5bbde0" stroke="none" stroke-width="1" />
<rect x="421.6" y="305.6" width="106.9" height="163.6" rx="0" fill="none" stroke="#2a2a2a" stroke-width="1.2" />
<text x="419.4" y="471.4" font-size="6.2" text-anchor="end" fill="#222" font-family='"Liberation Sans", sans-serif' font-weight="normal" font-style="normal" >0.0</text>
<text x="419.4" y="448.03" font-size="6.2" text-anchor="end" fill="#222" font-family='"Liberation Sans", sans-serif' font-weight="normal" font-style="normal" >0.1</text>
<text x="419.4" y="424.66" font-size="6.2" text-anchor="end" fill="#222" font-family='"Liberation Sans", sans-serif' font-weight="normal" font-style="normal" >0.2</text>
<text x="419.4" y="401.29" font-size="6.2" text-anchor="end" fill="#222" font-family='"Liberation Sans", sans-serif' font-weight="normal" font-style="normal" >0.3</text>
<text x="419.4" y="377.91" font-size="6.2" text-anchor="end" fill="#222" font-family='"Liberation Sans", sans-serif' font-weight="normal" font-style="normal" >0.4</text>
<text x="419.4" y="354.54" font-size="6.2" text-anchor="end" fill="#222" font-family='"Liberation Sans", sans-serif' font-weight="normal" font-style="normal" >0.5</text>
<text x="419.4" y="331.17" font-size="6.2" text-anchor="end" fill="#222" font-family='"Liberation Sans", sans-serif' font-weight="normal" font-style="normal" >0.6</text>
<text x="419.4" y="307.8" font-size="6.2" text-anchor="end" fill="#222" font-family='"Liberation Sans", sans-serif' font-weight="normal" font-style="normal" >0.7</text>
<text x="530.9" y="471.4" font-size="6.2" text-anchor="start" fill="#222" font-family='"Liberation Sans", sans-serif' font-weight="normal" font-style="normal" >0.0</text>
<text x="530.9" y="450.95" font-size="6.2" text-anchor="start" fill="#222" font-family='"Liberation Sans", sans-serif' font-weight="normal" font-style="normal" >0.1</text>
<text x="530.9" y="430.5" font-size="6.2" text-anchor="start" fill="#222" font-family='"Liberation Sans", sans-serif' font-weight="normal" font-style="normal" >0.2</text>
<text x="530.9" y="410.05" font-size="6.2" text-anchor="start" fill="#222" font-family='"Liberation Sans", sans-serif' font-weight="normal" font-style="normal" >0.3</text>
<text x="530.9" y="389.6" font-size="6.2" text-anchor="start" fill="#222" font-family='"Liberation Sans", sans-serif' font-weight="normal" font-style="normal" >0.4</text>
<text x="530.9" y="369.15" font-size="6.2" text-anchor="start" fill="#222" font-family='"Liberation Sans", sans-serif' font-weight="normal" font-style="normal" >0.5</text>
<text x="530.9" y="348.7" font-size="6.2" text-anchor="start" fill="#222" font-family='"Liberation Sans", sans-serif' font-weight="normal" font-style="normal" >0.6</text>
<text x="530.9" y="328.25" font-size="6.2" text-anchor="start" fill="#222" font-family='"Liberation Sans", sans-serif' font-weight="normal" font-style="normal" >0.7</text>
<text x="530.9" y="307.8" font-size="6.2" text-anchor="start" fill="#222" font-family='"Liberation Sans", sans-serif' font-weight="normal" font-style="normal" >0.8</text>
<text x="421.6" y="297.6" font-size="6.9" text-anchor="start" fill="#222" font-family='"Liberation Sans", sans-serif' font-weight="normal" font-style="normal" textLength="31.4" lengthAdjust="spacingAndGlyphs" >NDCG@5</text>
<text x="528.5" y="297.6" font-size="6.9" text-anchor="end" fill="#222" font-family='"Liberation Sans", sans-serif' font-weight="normal" font-style="normal" textLength="20.6" lengthAdjust="spacingAndGlyphs" >HR@5</text>
<text x="448.2" y="478.5" font-size="6" text-anchor="middle" fill="#222" font-family='"Liberation Sans", sans-serif' font-weight="normal" font-style="normal" textLength="27" lengthAdjust="spacingAndGlyphs" >NDCG@5</text>
<text x="501.8" y="478.5" font-size="6" text-anchor="middle" fill="#222" font-family='"Liberation Sans", sans-serif' font-weight="normal" font-style="normal" textLength="18" lengthAdjust="spacingAndGlyphs" >HR@5</text>
<rect x="429.6" y="312.5" width="11.8" height="4" rx="0" fill="#898989" stroke="none" stroke-width="1" />
<text x="447.6" y="317" font-size="7.1" text-anchor="start" fill="#222" font-family='"Liberation Sans", sans-serif' font-weight="normal" font-style="normal" >Random</text>
<rect x="429.6" y="322.4" width="11.8" height="4" rx="0" fill="#4a6088" stroke="none" stroke-width="1" />
<text x="447.6" y="326.9" font-size="7.1" text-anchor="start" fill="#222" font-family='"Liberation Sans", sans-serif' font-weight="normal" font-style="normal" >Top</text>
<rect x="429.6" y="332.3" width="11.8" height="4" rx="0" fill="#5bbde0" stroke="none" stroke-width="1" />
<text x="447.6" y="336.8" font-size="7.1" text-anchor="start" fill="#222" font-family='"Liberation Sans", sans-serif' font-weight="normal" font-style="normal" >FocusFormer</text>
<rect x="563.6" y="305.6" width="107" height="163.6" rx="0" fill="#fff" stroke="none" stroke-width="1" />
<rect x="570.4" y="417.05" width="11.6" height="52.15" rx="0" fill="#898989" stroke="none" stroke-width="1" />
<rect x="584.5" y="383.31" width="11.5" height="85.89" rx="0" fill="#4a6088" stroke="none" stroke-width="1" />
<rect x="598.9" y="363.88" width="11.4" height="105.32" rx="0" fill="#5bbde0" stroke="none" stroke-width="1" />
<rect x="623.4" y="384.33" width="11.6" height="84.87" rx="0" fill="#898989" stroke="none" stroke-width="1" />
<rect x="637.6" y="366.95" width="11.4" height="102.25" rx="0" fill="#4a6088" stroke="none" stroke-width="1" />
<rect x="652" y="333.21" width="11.6" height="135.99" rx="0" fill="#5bbde0" stroke="none" stroke-width="1" />
<rect x="563.6" y="305.6" width="107" height="163.6" rx="0" fill="none" stroke="#2a2a2a" stroke-width="1.2" />
<text x="561.4" y="471.4" font-size="6.2" text-anchor="end" fill="#222" font-family='"Liberation Sans", sans-serif' font-weight="normal" font-style="normal" >0.0</text>
<text x="561.4" y="450.95" font-size="6.2" text-anchor="end" fill="#222" font-family='"Liberation Sans", sans-serif' font-weight="normal" font-style="normal" >0.1</text>
<text x="561.4" y="430.5" font-size="6.2" text-anchor="end" fill="#222" font-family='"Liberation Sans", sans-serif' font-weight="normal" font-style="normal" >0.2</text>
<text x="561.4" y="410.05" font-size="6.2" text-anchor="end" fill="#222" font-family='"Liberation Sans", sans-serif' font-weight="normal" font-style="normal" >0.3</text>
<text x="561.4" y="389.6" font-size="6.2" text-anchor="end" fill="#222" font-family='"Liberation Sans", sans-serif' font-weight="normal" font-style="normal" >0.4</text>
<text x="561.4" y="369.15" font-size="6.2" text-anchor="end" fill="#222" font-family='"Liberation Sans", sans-serif' font-weight="normal" font-style="normal" >0.5</text>
<text x="561.4" y="348.7" font-size="6.2" text-anchor="end" fill="#222" font-family='"Liberation Sans", sans-serif' font-weight="normal" font-style="normal" >0.6</text>
<text x="561.4" y="328.25" font-size="6.2" text-anchor="end" fill="#222" font-family='"Liberation Sans", sans-serif' font-weight="normal" font-style="normal" >0.7</text>
<text x="561.4" y="307.8" font-size="6.2" text-anchor="end" fill="#222" font-family='"Liberation Sans", sans-serif' font-weight="normal" font-style="normal" >0.8</text>
<text x="673" y="471.4" font-size="6.2" text-anchor="start" fill="#222" font-family='"Liberation Sans", sans-serif' font-weight="normal" font-style="normal" >0.0</text>
<text x="673" y="438.68" font-size="6.2" text-anchor="start" fill="#222" font-family='"Liberation Sans", sans-serif' font-weight="normal" font-style="normal" >0.2</text>
<text x="673" y="405.96" font-size="6.2" text-anchor="start" fill="#222" font-family='"Liberation Sans", sans-serif' font-weight="normal" font-style="normal" >0.4</text>
<text x="673" y="373.24" font-size="6.2" text-anchor="start" fill="#222" font-family='"Liberation Sans", sans-serif' font-weight="normal" font-style="normal" >0.6</text>
<text x="673" y="340.52" font-size="6.2" text-anchor="start" fill="#222" font-family='"Liberation Sans", sans-serif' font-weight="normal" font-style="normal" >0.8</text>
<text x="673" y="307.8" font-size="6.2" text-anchor="start" fill="#222" font-family='"Liberation Sans", sans-serif' font-weight="normal" font-style="normal" >1.0</text>
<text x="563.6" y="297.6" font-size="6.9" text-anchor="start" fill="#222" font-family='"Liberation Sans", sans-serif' font-weight="normal" font-style="normal" textLength="36" lengthAdjust="spacingAndGlyphs" >NDCG@10</text>
<text x="670.6" y="297.6" font-size="6.9" text-anchor="end" fill="#222" font-family='"Liberation Sans", sans-serif' font-weight="normal" font-style="normal" textLength="25.7" lengthAdjust="spacingAndGlyphs" >HR@10</text>
<text x="590.3" y="478.5" font-size="6" text-anchor="middle" fill="#222" font-family='"Liberation Sans", sans-serif' font-weight="normal" font-style="normal" textLength="31" lengthAdjust="spacingAndGlyphs" >NDCG@10</text>
<text x="643.5" y="478.5" font-size="6" text-anchor="middle" fill="#222" font-family='"Liberation Sans", sans-serif' font-weight="normal" font-style="normal" textLength="22" lengthAdjust="spacingAndGlyphs" >HR@10</text>
<rect x="571.6" y="312.5" width="11.8" height="4" rx="0" fill="#898989" stroke="none" stroke-width="1" />
<text x="589.6" y="317" font-size="7.1" text-anchor="start" fill="#222" font-family='"Liberation Sans", sans-serif' font-weight="normal" font-style="normal" >Random</text>
<rect x="571.6" y="322.4" width="11.8" height="4" rx="0" fill="#4a6088" stroke="none" stroke-width="1" />
<text x="589.6" y="326.9" font-size="7.1" text-anchor="start" fill="#222" font-family='"Liberation Sans", sans-serif' font-weight="normal" font-style="normal" >Top</text>
<rect x="571.6" y="332.3" width="11.8" height="4" rx="0" fill="#5bbde0" stroke="none" stroke-width="1" />
<text x="589.6" y="336.8" font-size="7.1" text-anchor="start" fill="#222" font-family='"Liberation Sans", sans-serif' font-weight="normal" font-style="normal" >FocusFormer</text>
<text x="1" y="499.6" font-size="12.5" text-anchor="start" fill="#222" font-family='"Liberation Sans", sans-serif' font-weight="normal" font-style="normal" >E</text>
<rect x="29.8" y="498.6" width="122.1" height="146.6" rx="0" fill="#fff" stroke="none" stroke-width="1" />
<line x1="29.8" y1="624.26" x2="151.9" y2="624.26" stroke="#cfcfcf" stroke-width="1" />
<line x1="29.8" y1="603.31" x2="151.9" y2="603.31" stroke="#cfcfcf" stroke-width="1" />
<line x1="29.8" y1="582.37" x2="151.9" y2="582.37" stroke="#cfcfcf" stroke-width="1" />
<line x1="29.8" y1="561.43" x2="151.9" y2="561.43" stroke="#cfcfcf" stroke-width="1" />
<line x1="29.8" y1="540.49" x2="151.9" y2="540.49" stroke="#cfcfcf" stroke-width="1" />
<line x1="29.8" y1="519.54" x2="151.9" y2="519.54" stroke="#cfcfcf" stroke-width="1" />
<polyline points="35.2,620.9 68.6,632.2 101.6,619.8 123.6,592.2 145.6,607.8" stroke="#5bbde2" stroke-width="1.5" fill="none" stroke-linejoin="miter" stroke-linejoin="round"/>
<circle cx="35.2" cy="620.9" r="2.1" fill="#8fd4ef" stroke="#5bbde2" stroke-width="0.7"/>
<circle cx="68.6" cy="632.2" r="2.1" fill="#8fd4ef" stroke="#5bbde2" stroke-width="0.7"/>
<circle cx="101.6" cy="619.8" r="2.1" fill="#8fd4ef" stroke="#5bbde2" stroke-width="0.7"/>
<circle cx="123.6" cy="592.2" r="2.1" fill="#8fd4ef" stroke="#5bbde2" stroke-width="0.7"/>
<circle cx="145.6" cy="607.8" r="2.1" fill="#8fd4ef" stroke="#5bbde2" stroke-width="0.7"/>
<polyline points="35.2,614.2 68.6,582.3 101.6,539.2 123.6,526.2 145.6,550.2" stroke="#44608c" stroke-width="1.5" fill="none" stroke-linejoin="miter" stroke-linejoin="round"/>
<circle cx="35.2" cy="614.2" r="2.1" fill="#4f6b96" stroke="#34507a" stroke-width="0.7"/>
<circle cx="68.6" cy="582.3" r="2.1" fill="#4f6b96" stroke="#34507a" stroke-width="0.7"/>
<circle cx="101.6" cy="539.2" r="2.1" fill="#4f6b96" stroke="#34507a" stroke-width="0.7"/>
<circle cx="123.6" cy="526.2" r="2.1" fill="#4f6b96" stroke="#34507a" stroke-width="0.7"/>
<circle cx="145.6" cy="550.2" r="2.1" fill="#4f6b96" stroke="#34507a" stroke-width="0.7"/>
<rect x="29.8" y="498.6" width="122.1" height="146.6" rx="0" fill="none" stroke="#3a3a3a" stroke-width="1.2" />
<text x="27.8" y="647.1" font-size="5.3" text-anchor="end" fill="#222" font-family='"Liberation Sans", sans-serif' font-weight="normal" font-style="normal" >0.43</text>
<text x="27.8" y="626.16" font-size="5.3" text-anchor="end" fill="#222" font-family='"Liberation Sans", sans-serif' font-weight="normal" font-style="normal" >0.44</text>
<text x="27.8" y="605.21" font-size="5.3" text-anchor="end" fill="#222" font-family='"Liberation Sans", sans-serif' font-weight="normal" font-style="normal" >0.45</text>
<text x="27.8" y="584.27" font-size="5.3" text-anchor="end" fill="#222" font-family='"Liberation Sans", sans-serif' font-weight="normal" font-style="normal" >0.46</text>
<text x="27.8" y="563.33" font-size="5.3" text-anchor="end" fill="#222" font-family='"Liberation Sans", sans-serif' font-weight="normal" font-style="normal" >0.47</text>
<text x="27.8" y="542.39" font-size="5.3" text-anchor="end" fill="#222" font-family='"Liberation Sans", sans-serif' font-weight="normal" font-style="normal" >0.48</text>
<text x="27.8" y="521.44" font-size="5.3" text-anchor="end" fill="#222" font-family='"Liberation Sans", sans-serif' font-weight="normal" font-style="normal" >0.49</text>
<text x="27.8" y="500.5" font-size="5.3" text-anchor="end" fill="#222" font-family='"Liberation Sans", sans-serif' font-weight="normal" font-style="normal" >0.50</text>
<text x="154.5" y="647.1" font-size="5.3" text-anchor="start" fill="#222" font-family='"Liberation Sans", sans-serif' font-weight="normal" font-style="normal" >0.58</text>
<text x="154.5" y="626.16" font-size="5.3" text-anchor="start" fill="#222" font-family='"Liberation Sans", sans-serif' font-weight="normal" font-style="normal" >0.59</text>
<text x="154.5" y="605.21" font-size="5.3" text-anchor="start" fill="#222" font-family='"Liberation Sans", sans-serif' font-weight="normal" font-style="normal" >0.60</text>
<text x="154.5" y="584.27" font-size="5.3" text-anchor="start" fill="#222" font-family='"Liberation Sans", sans-serif' font-weight="normal" font-style="normal" >0.61</text>
<text x="154.5" y="563.33" font-size="5.3" text-anchor="start" fill="#222" font-family='"Liberation Sans", sans-serif' font-weight="normal" font-style="normal" >0.62</text>
<text x="154.5" y="542.39" font-size="5.3" text-anchor="start" fill="#222" font-family='"Liberation Sans", sans-serif' font-weight="normal" font-style="normal" >0.63</text>
<text x="154.5" y="521.44" font-size="5.3" text-anchor="start" fill="#222" font-family='"Liberation Sans", sans-serif' font-weight="normal" font-style="normal" >0.64</text>
<text x="154.5" y="500.5" font-size="5.3" text-anchor="start" fill="#222" font-family='"Liberation Sans", sans-serif' font-weight="normal" font-style="normal" >0.65</text>
<text x="35.2" y="651.9" font-size="5.3" text-anchor="middle" fill="#222" font-family='"Liberation Sans", sans-serif' font-weight="normal" font-style="normal" >0.2</text>
<text x="57.28" y="651.9" font-size="5.3" text-anchor="middle" fill="#222" font-family='"Liberation Sans", sans-serif' font-weight="normal" font-style="normal" >0.4</text>
<text x="79.36" y="651.9" font-size="5.3" text-anchor="middle" fill="#222" font-family='"Liberation Sans", sans-serif' font-weight="normal" font-style="normal" >0.6</text>
<text x="101.44" y="651.9" font-size="5.3" text-anchor="middle" fill="#222" font-family='"Liberation Sans", sans-serif' font-weight="normal" font-style="normal" >0.8</text>
<text x="123.52" y="651.9" font-size="5.3" text-anchor="middle" fill="#222" font-family='"Liberation Sans", sans-serif' font-weight="normal" font-style="normal" >1.0</text>
<text x="145.6" y="651.9" font-size="5.3" text-anchor="middle" fill="#222" font-family='"Liberation Sans", sans-serif' font-weight="normal" font-style="normal" >1.2</text>
<text x="90.85" y="494.4" font-size="8.3" text-anchor="middle" fill="#111" font-family='"Liberation Sans", sans-serif' font-weight="normal" font-style="normal" textLength="150.5" lengthAdjust="spacingAndGlyphs" >Performance w.r.t Background weight</text>
<text x="90.85" y="658.7" font-size="8" text-anchor="middle" fill="#111" font-family='"Liberation Sans", sans-serif' font-weight="normal" font-style="normal" textLength="77.5" lengthAdjust="spacingAndGlyphs" >Background weight</text>
<text transform="translate(14.6 571.9) rotate(-90)" x="0" y="0" font-size="7.2" text-anchor="middle" fill="#111" font-family='"Liberation Sans", sans-serif' textLength="33" lengthAdjust="spacingAndGlyphs">NDCG@5</text>
<text transform="translate(172.7 571.9) rotate(-90)" x="0" y="0" font-size="7.2" text-anchor="middle" fill="#111" font-family='"Liberation Sans", sans-serif' textLength="20.6" lengthAdjust="spacingAndGlyphs">HR@5</text>
<line x1="34.4" y1="506.8" x2="50.1" y2="506.8" stroke="#5bbde2" stroke-width="1.5" />
<circle cx="42.2" cy="506.8" r="1.3" fill="#8fd4ef" stroke="#5bbde2" stroke-width="0.5"/>
<text x="54.6" y="509.5" font-size="7.5" text-anchor="start" fill="#111" font-family='"Liberation Sans", sans-serif' font-weight="normal" font-style="normal" textLength="33" lengthAdjust="spacingAndGlyphs" >NDCG@5</text>
<line x1="103.8" y1="506.8" x2="119.4" y2="506.8" stroke="#44608c" stroke-width="1.5" />
<circle cx="111.6" cy="506.8" r="1.3" fill="#4f6b96" stroke="#34507a" stroke-width="0.5"/>
<text x="123.8" y="509.5" font-size="7.5" text-anchor="start" fill="#111" font-family='"Liberation Sans", sans-serif' font-weight="normal" font-style="normal" textLength="22" lengthAdjust="spacingAndGlyphs" >HR@5</text>
<rect x="200.2" y="498.6" width="120.9" height="146.6" rx="0" fill="#fff" stroke="none" stroke-width="1" />
<line x1="200.2" y1="620.77" x2="321.1" y2="620.77" stroke="#cfcfcf" stroke-width="1" />
<line x1="200.2" y1="596.33" x2="321.1" y2="596.33" stroke="#cfcfcf" stroke-width="1" />
<line x1="200.2" y1="571.9" x2="321.1" y2="571.9" stroke="#cfcfcf" stroke-width="1" />
<line x1="200.2" y1="547.47" x2="321.1" y2="547.47" stroke="#cfcfcf" stroke-width="1" />
<line x1="200.2" y1="523.03" x2="321.1" y2="523.03" stroke="#cfcfcf" stroke-width="1" />
<polyline points="205.2,638.5 238.7,591.3 271.6,594.8 293.6,573.4 315.6,585.8" stroke="#5bbde2" stroke-width="1.5" fill="none" stroke-linejoin="miter" stroke-linejoin="round"/>
<circle cx="205.2" cy="638.5" r="2.1" fill="#8fd4ef" stroke="#5bbde2" stroke-width="0.7"/>
<circle cx="238.7" cy="591.3" r="2.1" fill="#8fd4ef" stroke="#5bbde2" stroke-width="0.7"/>
<circle cx="271.6" cy="594.8" r="2.1" fill="#8fd4ef" stroke="#5bbde2" stroke-width="0.7"/>
<circle cx="293.6" cy="573.4" r="2.1" fill="#8fd4ef" stroke="#5bbde2" stroke-width="0.7"/>
<circle cx="315.6" cy="585.8" r="2.1" fill="#8fd4ef" stroke="#5bbde2" stroke-width="0.7"/>
<polyline points="205.2,627 238.7,587.7 271.6,602.8 293.6,535.8 315.6,545.4" stroke="#44608c" stroke-width="1.5" fill="none" stroke-linejoin="miter" stroke-linejoin="round"/>
<circle cx="205.2" cy="627" r="2.1" fill="#4f6b96" stroke="#34507a" stroke-width="0.7"/>
<circle cx="238.7" cy="587.7" r="2.1" fill="#4f6b96" stroke="#34507a" stroke-width="0.7"/>
<circle cx="271.6" cy="602.8" r="2.1" fill="#4f6b96" stroke="#34507a" stroke-width="0.7"/>
<circle cx="293.6" cy="535.8" r="2.1" fill="#4f6b96" stroke="#34507a" stroke-width="0.7"/>
<circle cx="315.6" cy="545.4" r="2.1" fill="#4f6b96" stroke="#34507a" stroke-width="0.7"/>
<rect x="200.2" y="498.6" width="120.9" height="146.6" rx="0" fill="none" stroke="#3a3a3a" stroke-width="1.2" />
<text x="198.2" y="647.1" font-size="5.3" text-anchor="end" fill="#222" font-family='"Liberation Sans", sans-serif' font-weight="normal" font-style="normal" >0.49</text>
<text x="198.2" y="622.67" font-size="5.3" text-anchor="end" fill="#222" font-family='"Liberation Sans", sans-serif' font-weight="normal" font-style="normal" >0.50</text>
<text x="198.2" y="598.23" font-size="5.3" text-anchor="end" fill="#222" font-family='"Liberation Sans", sans-serif' font-weight="normal" font-style="normal" >0.51</text>
<text x="198.2" y="573.8" font-size="5.3" text-anchor="end" fill="#222" font-family='"Liberation Sans", sans-serif' font-weight="normal" font-style="normal" >0.52</text>
<text x="198.2" y="549.37" font-size="5.3" text-anchor="end" fill="#222" font-family='"Liberation Sans", sans-serif' font-weight="normal" font-style="normal" >0.53</text>
<text x="198.2" y="524.93" font-size="5.3" text-anchor="end" fill="#222" font-family='"Liberation Sans", sans-serif' font-weight="normal" font-style="normal" >0.54</text>
<text x="198.2" y="500.5" font-size="5.3" text-anchor="end" fill="#222" font-family='"Liberation Sans", sans-serif' font-weight="normal" font-style="normal" >0.55</text>
<text x="323.7" y="647.1" font-size="5.3" text-anchor="start" fill="#222" font-family='"Liberation Sans", sans-serif' font-weight="normal" font-style="normal" >0.79</text>
<text x="323.7" y="622.67" font-size="5.3" text-anchor="start" fill="#222" font-family='"Liberation Sans", sans-serif' font-weight="normal" font-style="normal" >0.80</text>
<text x="323.7" y="598.23" font-size="5.3" text-anchor="start" fill="#222" font-family='"Liberation Sans", sans-serif' font-weight="normal" font-style="normal" >0.81</text>
<text x="323.7" y="573.8" font-size="5.3" text-anchor="start" fill="#222" font-family='"Liberation Sans", sans-serif' font-weight="normal" font-style="normal" >0.82</text>
<text x="323.7" y="549.37" font-size="5.3" text-anchor="start" fill="#222" font-family='"Liberation Sans", sans-serif' font-weight="normal" font-style="normal" >0.83</text>
<text x="323.7" y="524.93" font-size="5.3" text-anchor="start" fill="#222" font-family='"Liberation Sans", sans-serif' font-weight="normal" font-style="normal" >0.84</text>
<text x="323.7" y="500.5" font-size="5.3" text-anchor="start" fill="#222" font-family='"Liberation Sans", sans-serif' font-weight="normal" font-style="normal" >0.85</text>
<text x="205.2" y="651.9" font-size="5.3" text-anchor="middle" fill="#222" font-family='"Liberation Sans", sans-serif' font-weight="normal" font-style="normal" >0.2</text>
<text x="227.28" y="651.9" font-size="5.3" text-anchor="middle" fill="#222" font-family='"Liberation Sans", sans-serif' font-weight="normal" font-style="normal" >0.4</text>
<text x="249.36" y="651.9" font-size="5.3" text-anchor="middle" fill="#222" font-family='"Liberation Sans", sans-serif' font-weight="normal" font-style="normal" >0.6</text>
<text x="271.44" y="651.9" font-size="5.3" text-anchor="middle" fill="#222" font-family='"Liberation Sans", sans-serif' font-weight="normal" font-style="normal" >0.8</text>
<text x="293.52" y="651.9" font-size="5.3" text-anchor="middle" fill="#222" font-family='"Liberation Sans", sans-serif' font-weight="normal" font-style="normal" >1.0</text>
<text x="315.6" y="651.9" font-size="5.3" text-anchor="middle" fill="#222" font-family='"Liberation Sans", sans-serif' font-weight="normal" font-style="normal" >1.2</text>
<text x="260.65" y="494.4" font-size="8.3" text-anchor="middle" fill="#111" font-family='"Liberation Sans", sans-serif' font-weight="normal" font-style="normal" textLength="151" lengthAdjust="spacingAndGlyphs" >Performance w.r.t Background weight</text>
<text x="260.65" y="658.7" font-size="8" text-anchor="middle" fill="#111" font-family='"Liberation Sans", sans-serif' font-weight="normal" font-style="normal" textLength="77.5" lengthAdjust="spacingAndGlyphs" >Background weight</text>
<text transform="translate(185 571.9) rotate(-90)" x="0" y="0" font-size="7.2" text-anchor="middle" fill="#111" font-family='"Liberation Sans", sans-serif' textLength="38.5" lengthAdjust="spacingAndGlyphs">NDCG@10</text>
<text transform="translate(341.9 571.9) rotate(-90)" x="0" y="0" font-size="7.2" text-anchor="middle" fill="#111" font-family='"Liberation Sans", sans-serif' textLength="27" lengthAdjust="spacingAndGlyphs">HR@10</text>
<line x1="204.8" y1="506.8" x2="220.5" y2="506.8" stroke="#5bbde2" stroke-width="1.5" />
<circle cx="212.6" cy="506.8" r="1.3" fill="#8fd4ef" stroke="#5bbde2" stroke-width="0.5"/>
<text x="225" y="509.5" font-size="7.5" text-anchor="start" fill="#111" font-family='"Liberation Sans", sans-serif' font-weight="normal" font-style="normal" textLength="38" lengthAdjust="spacingAndGlyphs" >NDCG@10</text>
<line x1="270.3" y1="506.8" x2="285.9" y2="506.8" stroke="#44608c" stroke-width="1.5" />
<circle cx="278.1" cy="506.8" r="1.3" fill="#4f6b96" stroke="#34507a" stroke-width="0.5"/>
<text x="290.3" y="509.5" font-size="7.5" text-anchor="start" fill="#111" font-family='"Liberation Sans", sans-serif' font-weight="normal" font-style="normal" textLength="26.5" lengthAdjust="spacingAndGlyphs" >HR@10</text>
<rect x="370.2" y="498.6" width="120.9" height="146.6" rx="0" fill="#fff" stroke="none" stroke-width="1" />
<line x1="370.2" y1="630.01" x2="491.1" y2="630.01" stroke="#cfcfcf" stroke-width="1" />
<line x1="370.2" y1="600.81" x2="491.1" y2="600.81" stroke="#cfcfcf" stroke-width="1" />
<line x1="370.2" y1="571.61" x2="491.1" y2="571.61" stroke="#cfcfcf" stroke-width="1" />
<line x1="370.2" y1="542.4" x2="491.1" y2="542.4" stroke="#cfcfcf" stroke-width="1" />
<line x1="370.2" y1="513.2" x2="491.1" y2="513.2" stroke="#cfcfcf" stroke-width="1" />
<polyline points="375.7,637.1 403.2,594.6 430.7,591.3 458.7,568.5 486.2,563.8" stroke="#5bbde2" stroke-width="1.5" fill="none" stroke-linejoin="miter" stroke-linejoin="round"/>
<circle cx="375.7" cy="637.1" r="2.1" fill="#8fd4ef" stroke="#5bbde2" stroke-width="0.7"/>
<circle cx="403.2" cy="594.6" r="2.1" fill="#8fd4ef" stroke="#5bbde2" stroke-width="0.7"/>
<circle cx="430.7" cy="591.3" r="2.1" fill="#8fd4ef" stroke="#5bbde2" stroke-width="0.7"/>
<circle cx="458.7" cy="568.5" r="2.1" fill="#8fd4ef" stroke="#5bbde2" stroke-width="0.7"/>
<circle cx="486.2" cy="563.8" r="2.1" fill="#8fd4ef" stroke="#5bbde2" stroke-width="0.7"/>
<polyline points="375.7,598.1 403.2,562.4 430.7,559.7 458.7,542.6 486.2,517.6" stroke="#44608c" stroke-width="1.5" fill="none" stroke-linejoin="miter" stroke-linejoin="round"/>
<circle cx="375.7" cy="598.1" r="2.1" fill="#4f6b96" stroke="#34507a" stroke-width="0.7"/>
<circle cx="403.2" cy="562.4" r="2.1" fill="#4f6b96" stroke="#34507a" stroke-width="0.7"/>
<circle cx="430.7" cy="559.7" r="2.1" fill="#4f6b96" stroke="#34507a" stroke-width="0.7"/>
<circle cx="458.7" cy="542.6" r="2.1" fill="#4f6b96" stroke="#34507a" stroke-width="0.7"/>
<circle cx="486.2" cy="517.6" r="2.1" fill="#4f6b96" stroke="#34507a" stroke-width="0.7"/>
<rect x="370.2" y="498.6" width="120.9" height="146.6" rx="0" fill="none" stroke="#3a3a3a" stroke-width="1.2" />
<text x="368.2" y="647.1" font-size="5.3" text-anchor="end" fill="#222" font-family='"Liberation Sans", sans-serif' font-weight="normal" font-style="normal" >0.40</text>
<text x="368.2" y="617.78" font-size="5.3" text-anchor="end" fill="#222" font-family='"Liberation Sans", sans-serif' font-weight="normal" font-style="normal" >0.42</text>
<text x="368.2" y="588.46" font-size="5.3" text-anchor="end" fill="#222" font-family='"Liberation Sans", sans-serif' font-weight="normal" font-style="normal" >0.44</text>
<text x="368.2" y="559.14" font-size="5.3" text-anchor="end" fill="#222" font-family='"Liberation Sans", sans-serif' font-weight="normal" font-style="normal" >0.46</text>
<text x="368.2" y="529.82" font-size="5.3" text-anchor="end" fill="#222" font-family='"Liberation Sans", sans-serif' font-weight="normal" font-style="normal" >0.48</text>
<text x="368.2" y="500.5" font-size="5.3" text-anchor="end" fill="#222" font-family='"Liberation Sans", sans-serif' font-weight="normal" font-style="normal" >0.50</text>
<text x="493.7" y="631.91" font-size="5.3" text-anchor="start" fill="#222" font-family='"Liberation Sans", sans-serif' font-weight="normal" font-style="normal" >0.56</text>
<text x="493.7" y="602.71" font-size="5.3" text-anchor="start" fill="#222" font-family='"Liberation Sans", sans-serif' font-weight="normal" font-style="normal" >0.58</text>
<text x="493.7" y="573.51" font-size="5.3" text-anchor="start" fill="#222" font-family='"Liberation Sans", sans-serif' font-weight="normal" font-style="normal" >0.60</text>
<text x="493.7" y="544.3" font-size="5.3" text-anchor="start" fill="#222" font-family='"Liberation Sans", sans-serif' font-weight="normal" font-style="normal" >0.62</text>
<text x="493.7" y="515.1" font-size="5.3" text-anchor="start" fill="#222" font-family='"Liberation Sans", sans-serif' font-weight="normal" font-style="normal" >0.64</text>
<text x="375.7" y="651.9" font-size="5.3" text-anchor="middle" fill="#222" font-family='"Liberation Sans", sans-serif' font-weight="normal" font-style="normal" >20</text>
<text x="403.32" y="651.9" font-size="5.3" text-anchor="middle" fill="#222" font-family='"Liberation Sans", sans-serif' font-weight="normal" font-style="normal" >40</text>
<text x="430.95" y="651.9" font-size="5.3" text-anchor="middle" fill="#222" font-family='"Liberation Sans", sans-serif' font-weight="normal" font-style="normal" >60</text>
<text x="458.57" y="651.9" font-size="5.3" text-anchor="middle" fill="#222" font-family='"Liberation Sans", sans-serif' font-weight="normal" font-style="normal" >80</text>
<text x="486.2" y="651.9" font-size="5.3" text-anchor="middle" fill="#222" font-family='"Liberation Sans", sans-serif' font-weight="normal" font-style="normal" >100</text>
<text x="430.65" y="494.4" font-size="8.3" text-anchor="middle" fill="#111" font-family='"Liberation Sans", sans-serif' font-weight="normal" font-style="normal" textLength="111.3" lengthAdjust="spacingAndGlyphs" >Performance w.r.t Data Size</text>
<text x="430.65" y="658.7" font-size="8" text-anchor="middle" fill="#111" font-family='"Liberation Sans", sans-serif' font-weight="normal" font-style="normal" textLength="55" lengthAdjust="spacingAndGlyphs" >Data Size (%)</text>
<text transform="translate(355 571.9) rotate(-90)" x="0" y="0" font-size="7.2" text-anchor="middle" fill="#111" font-family='"Liberation Sans", sans-serif' textLength="33" lengthAdjust="spacingAndGlyphs">NDCG@5</text>
<text transform="translate(511.9 571.9) rotate(-90)" x="0" y="0" font-size="7.2" text-anchor="middle" fill="#111" font-family='"Liberation Sans", sans-serif' textLength="20.6" lengthAdjust="spacingAndGlyphs">HR@5</text>
<line x1="374.8" y1="506.8" x2="390.5" y2="506.8" stroke="#5bbde2" stroke-width="1.5" />
<circle cx="382.6" cy="506.8" r="1.3" fill="#8fd4ef" stroke="#5bbde2" stroke-width="0.5"/>
<text x="395" y="509.5" font-size="7.5" text-anchor="start" fill="#111" font-family='"Liberation Sans", sans-serif' font-weight="normal" font-style="normal" textLength="33" lengthAdjust="spacingAndGlyphs" >NDCG@5</text>
<line x1="444.4" y1="506.8" x2="460" y2="506.8" stroke="#44608c" stroke-width="1.5" />
<circle cx="452.2" cy="506.8" r="1.3" fill="#4f6b96" stroke="#34507a" stroke-width="0.5"/>
<text x="464.4" y="509.5" font-size="7.5" text-anchor="start" fill="#111" font-family='"Liberation Sans", sans-serif' font-weight="normal" font-style="normal" textLength="22" lengthAdjust="spacingAndGlyphs" >HR@5</text>
<rect x="540.2" y="498.6" width="121.7" height="146.6" rx="0" fill="#fff" stroke="none" stroke-width="1" />
<line x1="540.2" y1="624.26" x2="661.9" y2="624.26" stroke="#cfcfcf" stroke-width="1" />
<line x1="540.2" y1="603.31" x2="661.9" y2="603.31" stroke="#cfcfcf" stroke-width="1" />
<line x1="540.2" y1="582.37" x2="661.9" y2="582.37" stroke="#cfcfcf" stroke-width="1" />
<line x1="540.2" y1="561.43" x2="661.9" y2="561.43" stroke="#cfcfcf" stroke-width="1" />
<line x1="540.2" y1="540.49" x2="661.9" y2="540.49" stroke="#cfcfcf" stroke-width="1" />
<line x1="540.2" y1="519.54" x2="661.9" y2="519.54" stroke="#cfcfcf" stroke-width="1" />
<polyline points="545.7,631.9 573.7,603.6 601.2,591.8 628.7,573.4 656.4,562.4" stroke="#5bbde2" stroke-width="1.5" fill="none" stroke-linejoin="miter" stroke-linejoin="round"/>
<circle cx="545.7" cy="631.9" r="2.1" fill="#8fd4ef" stroke="#5bbde2" stroke-width="0.7"/>
<circle cx="573.7" cy="603.6" r="2.1" fill="#8fd4ef" stroke="#5bbde2" stroke-width="0.7"/>
<circle cx="601.2" cy="591.8" r="2.1" fill="#8fd4ef" stroke="#5bbde2" stroke-width="0.7"/>
<circle cx="628.7" cy="573.4" r="2.1" fill="#8fd4ef" stroke="#5bbde2" stroke-width="0.7"/>
<circle cx="656.4" cy="562.4" r="2.1" fill="#8fd4ef" stroke="#5bbde2" stroke-width="0.7"/>
<polyline points="545.7,635.2 573.7,613.8 601.2,584.4 628.7,530.3 656.4,530.3" stroke="#44608c" stroke-width="1.5" fill="none" stroke-linejoin="miter" stroke-linejoin="round"/>
<circle cx="545.7" cy="635.2" r="2.1" fill="#4f6b96" stroke="#34507a" stroke-width="0.7"/>
<circle cx="573.7" cy="613.8" r="2.1" fill="#4f6b96" stroke="#34507a" stroke-width="0.7"/>
<circle cx="601.2" cy="584.4" r="2.1" fill="#4f6b96" stroke="#34507a" stroke-width="0.7"/>
<circle cx="628.7" cy="530.3" r="2.1" fill="#4f6b96" stroke="#34507a" stroke-width="0.7"/>
<circle cx="656.4" cy="530.3" r="2.1" fill="#4f6b96" stroke="#34507a" stroke-width="0.7"/>
<rect x="540.2" y="498.6" width="121.7" height="146.6" rx="0" fill="none" stroke="#3a3a3a" stroke-width="1.2" />
<text x="538.2" y="647.1" font-size="5.3" text-anchor="end" fill="#222" font-family='"Liberation Sans", sans-serif' font-weight="normal" font-style="normal" >0.48</text>
<text x="538.2" y="626.16" font-size="5.3" text-anchor="end" fill="#222" font-family='"Liberation Sans", sans-serif' font-weight="normal" font-style="normal" >0.49</text>
<text x="538.2" y="605.21" font-size="5.3" text-anchor="end" fill="#222" font-family='"Liberation Sans", sans-serif' font-weight="normal" font-style="normal" >0.50</text>
<text x="538.2" y="584.27" font-size="5.3" text-anchor="end" fill="#222" font-family='"Liberation Sans", sans-serif' font-weight="normal" font-style="normal" >0.51</text>
<text x="538.2" y="563.33" font-size="5.3" text-anchor="end" fill="#222" font-family='"Liberation Sans", sans-serif' font-weight="normal" font-style="normal" >0.52</text>
<text x="538.2" y="542.39" font-size="5.3" text-anchor="end" fill="#222" font-family='"Liberation Sans", sans-serif' font-weight="normal" font-style="normal" >0.53</text>
<text x="538.2" y="521.44" font-size="5.3" text-anchor="end" fill="#222" font-family='"Liberation Sans", sans-serif' font-weight="normal" font-style="normal" >0.54</text>
<text x="538.2" y="500.5" font-size="5.3" text-anchor="end" fill="#222" font-family='"Liberation Sans", sans-serif' font-weight="normal" font-style="normal" >0.55</text>
<text x="664.5" y="647.1" font-size="5.3" text-anchor="start" fill="#222" font-family='"Liberation Sans", sans-serif' font-weight="normal" font-style="normal" >0.78</text>
<text x="664.5" y="626.16" font-size="5.3" text-anchor="start" fill="#222" font-family='"Liberation Sans", sans-serif' font-weight="normal" font-style="normal" >0.79</text>
<text x="664.5" y="605.21" font-size="5.3" text-anchor="start" fill="#222" font-family='"Liberation Sans", sans-serif' font-weight="normal" font-style="normal" >0.80</text>
<text x="664.5" y="584.27" font-size="5.3" text-anchor="start" fill="#222" font-family='"Liberation Sans", sans-serif' font-weight="normal" font-style="normal" >0.81</text>
<text x="664.5" y="563.33" font-size="5.3" text-anchor="start" fill="#222" font-family='"Liberation Sans", sans-serif' font-weight="normal" font-style="normal" >0.82</text>
<text x="664.5" y="542.39" font-size="5.3" text-anchor="start" fill="#222" font-family='"Liberation Sans", sans-serif' font-weight="normal" font-style="normal" >0.83</text>
<text x="664.5" y="521.44" font-size="5.3" text-anchor="start" fill="#222" font-family='"Liberation Sans", sans-serif' font-weight="normal" font-style="normal" >0.84</text>
<text x="664.5" y="500.5" font-size="5.3" text-anchor="start" fill="#222" font-family='"Liberation Sans", sans-serif' font-weight="normal" font-style="normal" >0.85</text>
<text x="545.7" y="651.9" font-size="5.3" text-anchor="middle" fill="#222" font-family='"Liberation Sans", sans-serif' font-weight="normal" font-style="normal" >20</text>
<text x="573.38" y="651.9" font-size="5.3" text-anchor="middle" fill="#222" font-family='"Liberation Sans", sans-serif' font-weight="normal" font-style="normal" >40</text>
<text x="601.05" y="651.9" font-size="5.3" text-anchor="middle" fill="#222" font-family='"Liberation Sans", sans-serif' font-weight="normal" font-style="normal" >60</text>
<text x="628.73" y="651.9" font-size="5.3" text-anchor="middle" fill="#222" font-family='"Liberation Sans", sans-serif' font-weight="normal" font-style="normal" >80</text>
<text x="656.4" y="651.9" font-size="5.3" text-anchor="middle" fill="#222" font-family='"Liberation Sans", sans-serif' font-weight="normal" font-style="normal" >100</text>
<text x="601.05" y="494.4" font-size="8.3" text-anchor="middle" fill="#111" font-family='"Liberation Sans", sans-serif' font-weight="normal" font-style="normal" textLength="111.2" lengthAdjust="spacingAndGlyphs" >Performance w.r.t Data Size</text>
<text x="601.05" y="658.7" font-size="8" text-anchor="middle" fill="#111" font-family='"Liberation Sans", sans-serif' font-weight="normal" font-style="normal" textLength="55" lengthAdjust="spacingAndGlyphs" >Data Size (%)</text>
<text transform="translate(525 571.9) rotate(-90)" x="0" y="0" font-size="7.2" text-anchor="middle" fill="#111" font-family='"Liberation Sans", sans-serif' textLength="38.5" lengthAdjust="spacingAndGlyphs">NDCG@10</text>
<text transform="translate(682.7 571.9) rotate(-90)" x="0" y="0" font-size="7.2" text-anchor="middle" fill="#111" font-family='"Liberation Sans", sans-serif' textLength="27" lengthAdjust="spacingAndGlyphs">HR@10</text>
<line x1="544.8" y1="506.8" x2="560.5" y2="506.8" stroke="#5bbde2" stroke-width="1.5" />
<circle cx="552.6" cy="506.8" r="1.3" fill="#8fd4ef" stroke="#5bbde2" stroke-width="0.5"/>
<text x="565" y="509.5" font-size="7.5" text-anchor="start" fill="#111" font-family='"Liberation Sans", sans-serif' font-weight="normal" font-style="normal" textLength="38" lengthAdjust="spacingAndGlyphs" >NDCG@10</text>
<line x1="611.1" y1="506.8" x2="626.7" y2="506.8" stroke="#44608c" stroke-width="1.5" />
<circle cx="618.9" cy="506.8" r="1.3" fill="#4f6b96" stroke="#34507a" stroke-width="0.5"/>
<text x="631.1" y="509.5" font-size="7.5" text-anchor="start" fill="#111" font-family='"Liberation Sans", sans-serif' font-weight="normal" font-style="normal" textLength="26.5" lengthAdjust="spacingAndGlyphs" >HR@10</text>
</svg>
</body></html>
